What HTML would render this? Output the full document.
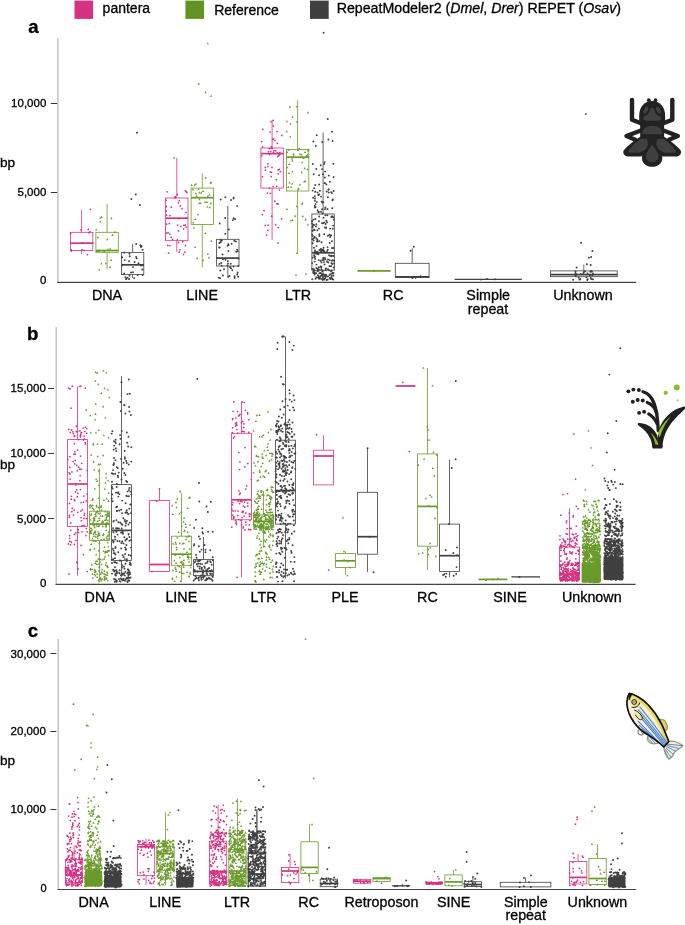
<!DOCTYPE html>
<html><head><meta charset="utf-8"><title>Figure</title>
<style>
html,body{margin:0;padding:0;background:#fff}
svg{display:block;will-change:transform}
text{font-family:"Liberation Sans",Arial,Helvetica,sans-serif;fill:#000;stroke:#000;stroke-width:0.3px}
</style></head><body>
<svg width="685" height="925" viewBox="0 0 685 925">
<rect width="685" height="925" fill="#fff"/>
<!-- legend -->
<rect x="74.5" y="0.6" width="18.6" height="18.3" fill="#d53283"/>
<rect x="185.4" y="0.6" width="18.6" height="18.3" fill="#659323"/>
<rect x="310" y="0.6" width="18.7" height="18.3" fill="#404040"/>
<text x="102.6" y="13.4" font-size="14">pantera</text>
<text x="214.2" y="14.7" font-size="14">Reference</text>
<text x="336.7" y="13.4" font-size="14.2">RepeatModeler2 (<tspan font-style="italic">Dmel</tspan>, <tspan font-style="italic">Drer</tspan>) REPET (<tspan font-style="italic">Osav</tspan>)</text>
<!-- panel letters -->
<g font-weight="bold" font-size="18.6" fill="#000" style="stroke-width:0.2px">
<text x="28.2" y="32.7">a</text>
<text x="27" y="339.6">b</text>
<text x="27.7" y="637.1">c</text>
</g>
<!-- panel a axes -->
<path d="M57.9 38V282.9" stroke="#b5b5b5" stroke-width="1.2" fill="none"/>
<path d="M57.3 282.3H636.2" stroke="#444" stroke-width="1.2" fill="none"/>
<path d="M50.8 103.5H57.2M50.8 192.5H57.2" stroke="#333" stroke-width="1" fill="none"/>
<g font-size="11.5" text-anchor="end">
<text x="46.3" y="107.4">10,000</text>
<text x="46.3" y="196.1">5,000</text>
<text x="46.5" y="284.4">0</text>
</g>
<text x="0" y="166.5" font-size="13.6">bp</text>
<g font-size="14.3" text-anchor="middle">
<text x="107" y="300">DNA</text>
<text x="202.1" y="300">LINE</text>
<text x="298" y="300">LTR</text>
<text x="393.2" y="300">RC</text>
<text x="488.2" y="300">Simple</text>
<text x="488" y="313.7">repeat</text>
<text x="583" y="300">Unknown</text>
</g>
<!-- panel b axes -->
<path d="M56.2 327V585" stroke="#b5b5b5" stroke-width="1.2" fill="none"/>
<path d="M55.6 584.4H635.6" stroke="#444" stroke-width="1.2" fill="none"/>
<path d="M48.2 388.5H54M48.2 453.5H54M48.2 518.5H54" stroke="#333" stroke-width="1" fill="none"/>
<g font-size="11.5" text-anchor="end">
<text x="45.8" y="392.3">15,000</text>
<text x="45.8" y="456.8">10,000</text>
<text x="45.8" y="522.5">5,000</text>
<text x="46.5" y="586.8">0</text>
</g>
<text x="0" y="469.2" font-size="13.6">bp</text>
<g font-size="14.3" text-anchor="middle">
<text x="99.7" y="602.3">DNA</text>
<text x="181.3" y="602.3">LINE</text>
<text x="263.5" y="602.3">LTR</text>
<text x="345" y="602.3">PLE</text>
<text x="427.4" y="602.3">RC</text>
<text x="510" y="602.3">SINE</text>
<text x="591.8" y="602.3">Unknown</text>
</g>
<!-- panel c axes -->
<path d="M58.2 639V890.1" stroke="#b5b5b5" stroke-width="1.2" fill="none"/>
<path d="M57.6 889.5H636.2" stroke="#444" stroke-width="1.2" fill="none"/>
<path d="M50.4 653.5H56.4M50.4 731.5H56.4M50.4 809.5H56.4" stroke="#333" stroke-width="1" fill="none"/>
<g font-size="11.5" text-anchor="end">
<text x="45.8" y="657.7">30,000</text>
<text x="45.8" y="735.0">20,000</text>
<text x="45.8" y="813.1">10,000</text>
<text x="46.5" y="891.5" font-size="11">0</text>
</g>
<text x="0" y="764.7" font-size="13.6">bp</text>
<g font-size="14.3" text-anchor="middle">
<text x="93.6" y="906.6">DNA</text>
<text x="165.1" y="906.6">LINE</text>
<text x="237.1" y="906.6">LTR</text>
<text x="308.7" y="906.6">RC</text>
<text x="381.5" y="906.6">Retroposon</text>
<text x="453.6" y="906.6">SINE</text>
<text x="525.8" y="906.6">Simple</text>
<text x="525.7" y="920.3">repeat</text>
<text x="597.4" y="906.6">Unknown</text>
</g>

<g fill="none">
<path d="M81.6 209.6V232.3" stroke="#d53283" stroke-width="0.8"/><path d="M81.6 250.5V254.2" stroke="#d53283" stroke-width="0.8"/><rect x="70.4" y="232.3" width="22.4" height="18.2" fill="#fff" stroke="#d53283" stroke-width="0.8"/><path d="M70.4 243.2H92.8" stroke="#d53283" stroke-width="1.7"/>
<path d="M107.1 203.8V232.3" stroke="#6a9a2a" stroke-width="0.8"/><path d="M107.1 252.3V269.5" stroke="#6a9a2a" stroke-width="0.8"/><rect x="95.9" y="232.3" width="22.4" height="20" fill="#fff" stroke="#6a9a2a" stroke-width="0.8"/><path d="M95.9 250.5H118.3" stroke="#6a9a2a" stroke-width="1.7"/>
<path d="M132.6 244V252.4" stroke="#404040" stroke-width="0.8"/><path d="M132.6 274.6V278" stroke="#404040" stroke-width="0.8"/><rect x="121.4" y="252.4" width="22.4" height="22.2" fill="#fff" stroke="#404040" stroke-width="0.8"/><path d="M121.4 264.8H143.8" stroke="#404040" stroke-width="1.7"/>
<path d="M176.8 157.8V198" stroke="#d53283" stroke-width="0.8"/><path d="M176.8 240.7V251.9" stroke="#d53283" stroke-width="0.8"/><rect x="165.6" y="198" width="22.4" height="42.7" fill="#fff" stroke="#d53283" stroke-width="0.8"/><path d="M165.6 218.2H188" stroke="#d53283" stroke-width="1.7"/>
<path d="M202.3 173.3V188.1" stroke="#6a9a2a" stroke-width="0.8"/><path d="M202.3 224.4V267.4" stroke="#6a9a2a" stroke-width="0.8"/><rect x="191.1" y="188.1" width="22.4" height="36.3" fill="#fff" stroke="#6a9a2a" stroke-width="0.8"/><path d="M191.1 197.7H213.5" stroke="#6a9a2a" stroke-width="1.7"/>
<path d="M227.8 205.6V239.3" stroke="#404040" stroke-width="0.8"/><path d="M227.8 266V275.8" stroke="#404040" stroke-width="0.8"/><rect x="216.6" y="239.3" width="22.4" height="26.7" fill="#fff" stroke="#404040" stroke-width="0.8"/><path d="M216.6 258.1H239" stroke="#404040" stroke-width="1.7"/>
<path d="M272.1 119.9V148" stroke="#d53283" stroke-width="0.8"/><path d="M272.1 188.1V240.1" stroke="#d53283" stroke-width="0.8"/><rect x="260.9" y="148" width="22.4" height="40.1" fill="#fff" stroke="#d53283" stroke-width="0.8"/><path d="M260.9 153.6H283.3" stroke="#d53283" stroke-width="1.7"/>
<path d="M297.6 100.2V149.4" stroke="#6a9a2a" stroke-width="0.8"/><path d="M297.6 191V253.3" stroke="#6a9a2a" stroke-width="0.8"/><rect x="286.4" y="149.4" width="22.4" height="41.6" fill="#fff" stroke="#6a9a2a" stroke-width="0.8"/><path d="M286.4 157.2H308.8" stroke="#6a9a2a" stroke-width="1.7"/>
<path d="M323.1 132.5V214" stroke="#404040" stroke-width="0.8"/><path d="M323.1 270.2V278.6" stroke="#404040" stroke-width="0.8"/><rect x="311.9" y="214" width="22.4" height="56.2" fill="#fff" stroke="#404040" stroke-width="0.8"/><path d="M311.9 252.8H334.3" stroke="#404040" stroke-width="1.7"/>
<path d="M357.3 270.9H390.6" stroke="#6a9a2a" stroke-width="1.7"/>
<path d="M412.2 248.2V263.3" stroke="#404040" stroke-width="0.8"/><rect x="395.3" y="263.3" width="33.8" height="14.1" fill="#fff" stroke="#404040" stroke-width="0.8"/><path d="M395.3 276.9H429.1" stroke="#404040" stroke-width="1.7"/>
<path d="M454.6 279.3H521.8" stroke="#404040" stroke-width="1.3"/>
<path d="M583.8 264.5V270.9" stroke="#404040" stroke-width="0.8"/><rect x="550.4" y="270.9" width="66.8" height="5.8" fill="#fff" stroke="#404040" stroke-width="0.8"/><path d="M550.4 274.7H617.2" stroke="#404040" stroke-width="1.7"/>
<path d="M77.5 386.6V439.6" stroke="#d53283" stroke-width="0.8"/><path d="M77.5 526.4V575.7" stroke="#d53283" stroke-width="0.8"/><rect x="67.6" y="439.6" width="19.8" height="86.8" fill="#fff" stroke="#d53283" stroke-width="0.8"/><path d="M67.6 484H87.4" stroke="#d53283" stroke-width="1.7"/>
<path d="M99.5 468.3V511.2" stroke="#6a9a2a" stroke-width="0.8"/><path d="M99.5 540.5V580" stroke="#6a9a2a" stroke-width="0.8"/><rect x="89.6" y="511.2" width="19.8" height="29.3" fill="#fff" stroke="#6a9a2a" stroke-width="0.8"/><path d="M89.6 524.1H109.4" stroke="#6a9a2a" stroke-width="1.7"/>
<path d="M121.5 376V484.6" stroke="#404040" stroke-width="0.8"/><path d="M121.5 560.5V577" stroke="#404040" stroke-width="0.8"/><rect x="111.6" y="484.6" width="19.8" height="75.9" fill="#fff" stroke="#404040" stroke-width="0.8"/><path d="M111.6 530.4H131.4" stroke="#404040" stroke-width="1.7"/>
<path d="M159.5 488.3V500.6" stroke="#d53283" stroke-width="0.8"/><rect x="149.6" y="500.6" width="19.8" height="70.8" fill="#fff" stroke="#d53283" stroke-width="0.8"/><path d="M149.6 564.5H169.4" stroke="#d53283" stroke-width="1.7"/>
<path d="M181.5 493.2V536.2" stroke="#6a9a2a" stroke-width="0.8"/><path d="M181.5 565.7V580" stroke="#6a9a2a" stroke-width="0.8"/><rect x="171.6" y="536.2" width="19.8" height="29.5" fill="#fff" stroke="#6a9a2a" stroke-width="0.8"/><path d="M171.6 554.2H191.4" stroke="#6a9a2a" stroke-width="1.7"/>
<path d="M203.5 537V559.4" stroke="#404040" stroke-width="0.8"/><path d="M203.5 575.7V579.4" stroke="#404040" stroke-width="0.8"/><rect x="193.6" y="559.4" width="19.8" height="16.3" fill="#fff" stroke="#404040" stroke-width="0.8"/><path d="M193.6 571.4H213.4" stroke="#404040" stroke-width="1.7"/>
<path d="M241.5 401.8V433.3" stroke="#d53283" stroke-width="0.8"/><path d="M241.5 519.8V577" stroke="#d53283" stroke-width="0.8"/><rect x="231.6" y="433.3" width="19.8" height="86.5" fill="#fff" stroke="#d53283" stroke-width="0.8"/><path d="M231.6 499.8H251.4" stroke="#d53283" stroke-width="1.7"/>
<path d="M263.5 491V515" stroke="#6a9a2a" stroke-width="0.8"/><path d="M263.5 527V548" stroke="#6a9a2a" stroke-width="0.8"/><rect x="253.6" y="515" width="19.8" height="12" fill="#fff" stroke="#6a9a2a" stroke-width="0.8"/><path d="M253.6 521.3H273.4" stroke="#6a9a2a" stroke-width="1.7"/>
<path d="M285.5 336.5V440.2" stroke="#404040" stroke-width="0.8"/><path d="M285.5 524.1V578.6" stroke="#404040" stroke-width="0.8"/><rect x="275.6" y="440.2" width="19.8" height="83.9" fill="#fff" stroke="#404040" stroke-width="0.8"/><path d="M275.6 490.6H295.4" stroke="#404040" stroke-width="1.7"/>
<path d="M323.5 435.3V450.2" stroke="#d53283" stroke-width="0.8"/><rect x="313.6" y="450.2" width="19.8" height="34.7" fill="#fff" stroke="#d53283" stroke-width="0.8"/><path d="M313.6 456H333.4" stroke="#d53283" stroke-width="1.7"/>
<path d="M345.5 551.4V553.4" stroke="#6a9a2a" stroke-width="0.8"/><path d="M345.5 567.4V574.9" stroke="#6a9a2a" stroke-width="0.8"/><rect x="335.6" y="553.4" width="19.8" height="14" fill="#fff" stroke="#6a9a2a" stroke-width="0.8"/><path d="M335.6 560.8H355.4" stroke="#6a9a2a" stroke-width="1.7"/>
<path d="M367.5 448.2V492.3" stroke="#404040" stroke-width="0.8"/><path d="M367.5 554.2V572" stroke="#404040" stroke-width="0.8"/><rect x="357.6" y="492.3" width="19.8" height="61.9" fill="#fff" stroke="#404040" stroke-width="0.8"/><path d="M357.6 536.7H377.4" stroke="#404040" stroke-width="1.7"/>
<path d="M395.6 386H415.4" stroke="#d53283" stroke-width="1.7"/>
<path d="M427.5 368V453.9" stroke="#6a9a2a" stroke-width="0.8"/><path d="M427.5 546.2V570" stroke="#6a9a2a" stroke-width="0.8"/><rect x="417.6" y="453.9" width="19.8" height="92.3" fill="#fff" stroke="#6a9a2a" stroke-width="0.8"/><path d="M417.6 506.4H437.4" stroke="#6a9a2a" stroke-width="1.7"/>
<path d="M449.5 459.7V524.1" stroke="#404040" stroke-width="0.8"/><path d="M449.5 571.4V577" stroke="#404040" stroke-width="0.8"/><rect x="439.6" y="524.1" width="19.8" height="47.3" fill="#fff" stroke="#404040" stroke-width="0.8"/><path d="M439.6 555.7H459.4" stroke="#404040" stroke-width="1.7"/>
<path d="M478.5 579.4H507.4" stroke="#6a9a2a" stroke-width="1.7"/>
<path d="M511.4 576.9H540" stroke="#404040" stroke-width="1.3"/>
<path d="M569.5 508.4V547" stroke="#d53283" stroke-width="0.8"/><rect x="559.6" y="547" width="19.8" height="32.4" fill="#fff" stroke="#d53283" stroke-width="0.8"/><path d="M559.6 574.3H579.4" stroke="#d53283" stroke-width="1.7"/>
<rect x="581.6" y="563" width="19.3" height="19.5" rx="1.5" fill="#6a9a2a"/>
<rect x="603.6" y="557" width="19.8" height="23" rx="1.5" fill="#404040"/>
<path d="M74.1 845.3V859.7" stroke="#d53283" stroke-width="0.8"/><path d="M74.1 882.6V886" stroke="#d53283" stroke-width="0.8"/><rect x="65.4" y="859.7" width="17.3" height="22.9" fill="#fff" stroke="#d53283" stroke-width="0.8"/><path d="M65.4 875H82.8" stroke="#d53283" stroke-width="1.7"/>
<rect x="84.8" y="871" width="17.3" height="15.5" rx="1.5" fill="#6a9a2a"/>
<rect x="104.2" y="875.5" width="17.3" height="12" rx="1.5" fill="#404040"/>
<path d="M146.1 838.5V844.5" stroke="#d53283" stroke-width="0.8"/><path d="M146.1 875.7V884.8" stroke="#d53283" stroke-width="0.8"/><rect x="137.4" y="844.5" width="17.3" height="31.2" fill="#fff" stroke="#d53283" stroke-width="0.8"/><path d="M137.4 846.7H154.8" stroke="#d53283" stroke-width="1.7"/>
<path d="M165.5 812.3V846.7" stroke="#6a9a2a" stroke-width="0.8"/><path d="M165.5 870.2V885.3" stroke="#6a9a2a" stroke-width="0.8"/><rect x="156.8" y="846.7" width="17.3" height="23.5" fill="#fff" stroke="#6a9a2a" stroke-width="0.8"/><path d="M156.8 853.6H174.2" stroke="#6a9a2a" stroke-width="1.7"/>
<rect x="176.2" y="877" width="17.3" height="10.5" rx="1.5" fill="#404040"/>
<path d="M218.1 804.8V841.2" stroke="#d53283" stroke-width="0.8"/><rect x="209.4" y="841.2" width="17.3" height="42.7" fill="#fff" stroke="#d53283" stroke-width="0.8"/><path d="M209.4 871.5H226.8" stroke="#d53283" stroke-width="1.7"/>
<path d="M237.5 798.5V849.5" stroke="#6a9a2a" stroke-width="0.8"/><rect x="228.8" y="849.5" width="17.3" height="35.8" fill="#fff" stroke="#6a9a2a" stroke-width="0.8"/><path d="M228.8 871H246.2" stroke="#6a9a2a" stroke-width="1.7"/>
<path d="M256.9 809.5V852.2" stroke="#404040" stroke-width="1.2"/><rect x="248.2" y="852.2" width="17.3" height="33.8" fill="#fff" stroke="#404040" stroke-width="1.2"/><path d="M248.2 874H265.5" stroke="#404040" stroke-width="1.7"/>
<path d="M290.1 853.6V867.4" stroke="#d53283" stroke-width="0.8"/><path d="M290.1 882.6V884.5" stroke="#d53283" stroke-width="0.8"/><rect x="281.5" y="867.4" width="17.3" height="15.2" fill="#fff" stroke="#d53283" stroke-width="0.8"/><path d="M281.5 871H298.8" stroke="#d53283" stroke-width="1.7"/>
<path d="M309.5 824.1V841.8" stroke="#6a9a2a" stroke-width="0.8"/><path d="M309.5 873.5V882.6" stroke="#6a9a2a" stroke-width="0.8"/><rect x="300.9" y="841.8" width="17.3" height="31.7" fill="#fff" stroke="#6a9a2a" stroke-width="0.8"/><path d="M300.9 867.4H318.1" stroke="#6a9a2a" stroke-width="1.7"/>
<rect x="320.2" y="879.2" width="17.3" height="7.5" fill="#fff" stroke="#404040" stroke-width="0.8"/><path d="M320.2 883.5H337.5" stroke="#404040" stroke-width="1.7"/>
<rect x="353.5" y="879.3" width="17.3" height="3.9" fill="#fff" stroke="#d53283" stroke-width="0.8"/><path d="M353.5 881.2H370.8" stroke="#d53283" stroke-width="1.7"/>
<rect x="372.9" y="877.7" width="17.3" height="3.8" fill="#fff" stroke="#6a9a2a" stroke-width="0.8"/><path d="M372.9 878.6H390.1" stroke="#6a9a2a" stroke-width="1.7"/>
<path d="M392.2 885.8H409.5" stroke="#404040" stroke-width="1.3"/>
<path d="M425.5 883.2H442.8" stroke="#d53283" stroke-width="2.6"/>
<path d="M453.5 870V874.9" stroke="#6a9a2a" stroke-width="0.8"/><rect x="444.9" y="874.9" width="17.3" height="10.9" fill="#fff" stroke="#6a9a2a" stroke-width="0.8"/><path d="M444.9 881.9H462.1" stroke="#6a9a2a" stroke-width="1.7"/>
<path d="M472.9 876.5V881.7" stroke="#404040" stroke-width="0.8"/><rect x="464.2" y="881.7" width="17.3" height="4.8" fill="#fff" stroke="#404040" stroke-width="0.8"/><path d="M464.2 884.5H481.5" stroke="#404040" stroke-width="1.7"/>
<path d="M525.6 877.4V882.3" stroke="#404040" stroke-width="0.8"/><rect x="500.3" y="882.3" width="50.6" height="4.6" fill="#fff" stroke="#404040" stroke-width="0.8"/>
<path d="M578.1 853.8V861.5" stroke="#d53283" stroke-width="0.8"/><rect x="569.5" y="861.5" width="17.3" height="22.5" fill="#fff" stroke="#d53283" stroke-width="0.8"/><path d="M569.5 877.4H586.8" stroke="#d53283" stroke-width="1.7"/>
<path d="M597.5 844.2V858.4" stroke="#6a9a2a" stroke-width="0.8"/><rect x="588.9" y="858.4" width="17.3" height="26" fill="#fff" stroke="#6a9a2a" stroke-width="0.8"/><path d="M588.9 878.5H606.1" stroke="#6a9a2a" stroke-width="1.7"/>
<rect x="608.2" y="877" width="17.3" height="10.5" rx="1.5" fill="#404040"/>
</g>
<path d="M90 231.8h0M70.5 233.4h0M88.8 232.7h0M88.3 229.4h0M80.9 229.8h0M81.7 243h0M82.8 242.9h0M92.7 242.9h0M88.2 243.2h0M84.1 250.4h0M71.4 251h0M71.2 249.8h0M81.9 249.7h0M90.4 209.3h0M87.4 254.6h0M175.2 197.4h0M185.3 190.8h0M174.8 197.7h0M186.3 191.7h0M167.1 191.8h0M175.2 196.7h0M177.2 194.7h0M186.9 192.5h0M182 208.8h0M168.1 232.7h0M186.1 227.1h0M183.6 228.8h0M185.3 225.1h0M177.3 239.8h0M186.1 212.3h0M166.6 215.1h0M166.3 206.7h0M166.1 200.2h0M171.3 207.2h0M171.2 237.4h0M169.8 234.1h0M178.3 202.8h0M166.5 224h0M178.8 218.6h0M169.3 223.6h0M180.8 226.3h0M166.1 211.2h0M172.6 239.3h0M186.6 218h0M177.7 225h0M183.8 225.3h0M180.3 205.9h0M179.3 200.7h0M169.9 215.7h0M178.5 230.9h0M166.5 233.1h0M184.9 252.2h0M183.5 254.4h0M168.5 253h0M182.8 241.7h0M185.4 245.7h0M170 245.5h0M178.4 242.6h0M179.9 249.8h0M179.2 252.2h0M167.8 245.4h0M174.1 157.8h0M271.4 146.6h0M270.1 132.1h0M277 131.6h0M272.6 139.4h0M277.3 143.4h0M262.8 129.4h0M273.5 138.8h0M273.4 125.9h0M281.8 135.4h0M261.8 141.5h0M271 121.8h0M275 140.4h0M273.2 120.4h0M262.6 146.8h0M277.6 153.1h0M269.4 148.7h0M271.4 148.3h0M277.8 156.5h0M272.2 148.4h0M268.5 151.5h0M279.4 155h0M269.4 154.5h0M279.8 152.6h0M278.5 155.7h0M270.9 151.6h0M276.9 153.4h0M261.7 155.8h0M269.6 154.1h0M280.2 153.7h0M273.9 150.9h0M273.4 152.7h0M275.8 150.8h0M276.3 179.7h0M262.5 176.7h0M280.3 171.5h0M267.9 163.9h0M272 167.4h0M265.3 167.4h0M270.3 171.8h0M279.4 190h0M279.4 169.3h0M271.5 172.3h0M278.1 169.9h0M271.2 176.6h0M269.3 188.3h0M273.1 186.5h0M265.4 170.1h0M268 166.5h0M276.7 186.3h0M278.2 173.8h0M267.4 193.1h0M267.8 230.3h0M266.6 235h0M262.4 214.5h0M270.4 193.4h0M278.2 227.6h0M276.8 203.5h0M265.3 225.4h0M264 210.7h0M268.1 225h0M278.1 204.2h0M271.8 216.2h0M281.6 218.9h0M275.6 224.7h0M274.8 201.2h0M278.1 242.9h0M80.6 386.2h0M79.8 386.4h0M68.5 388h0M72.3 386.2h0M85.4 388h0M70 388.9h0M86.2 410.1h0M71 408.2h0M76.3 431.7h0M73.4 433.7h0M84.2 436.1h0M84.4 439.1h0M74.4 436.3h0M79.9 430.9h0M85.5 427.1h0M74.7 435.9h0M78.6 439.6h0M76.4 426.2h0M80.5 436.8h0M86.6 428.5h0M70.3 432.4h0M86.7 433.3h0M80.8 434.6h0M83.4 439.9h0M80.2 435.6h0M84.8 431.5h0M74.1 436h0M81.6 432.5h0M72.8 431.8h0M77.7 431.1h0M81.1 432.9h0M71.6 429.9h0M68.8 429.4h0M83.3 428.1h0M80.2 475.6h0M81 469.3h0M75.2 454.1h0M81 469h0M74.4 443.7h0M79.6 469.2h0M76.7 465.4h0M78.7 467.2h0M67.9 459.7h0M77.5 449.9h0M72 471.9h0M75.2 460.4h0M69.1 472.8h0M80.6 456h0M85.3 443.9h0M74.6 463.9h0M69.7 467.4h0M79.9 480.6h0M70.1 479.1h0M85.3 442.5h0M70 474h0M74.8 451.5h0M77.4 470.7h0M69.9 456.7h0M73.9 454.2h0M73.1 461.5h0M81.7 463.3h0M87.1 470.6h0M71.3 499.2h0M69.4 517.2h0M76.8 489.9h0M72.2 508.4h0M83.5 502.2h0M83.8 496.1h0M86.3 518.5h0M84.2 515.3h0M80.4 489.6h0M71.3 496.3h0M83.9 518.4h0M82 525.7h0M82.4 509.7h0M81.4 520.6h0M84 525.3h0M73.5 515.1h0M80.9 511.1h0M77.8 493.3h0M74.3 499.6h0M74.1 510.2h0M70.7 522.9h0M77.3 496.7h0M74.9 500.6h0M75.9 484.9h0M84.5 513.3h0M81.1 502.6h0M81.1 517.5h0M87.1 493.8h0M71.9 511.7h0M77.7 512.3h0M69.4 503.5h0M75.4 491.9h0M86.4 500.9h0M69.3 515.3h0M76.1 540.4h0M71.5 542.4h0M69.7 535.7h0M69.7 541.2h0M74.5 534.4h0M75.7 532.7h0M85.9 535.6h0M78.2 529.7h0M87.2 531.8h0M81.9 531.8h0M70.5 544.8h0M78.6 532.4h0M70.8 530.3h0M68.4 543.9h0M86.3 528.6h0M74.3 544.4h0M71.4 542.2h0M69.6 538.3h0M78.2 569.1h0M76.7 562.1h0M81 545.4h0M87.2 571.5h0M83.4 554.5h0M69 573.9h0M77.4 563.1h0M159.5 488.8h0M156.6 501.2h0M152 571.4h0M244.1 402.6h0M233.8 401.8h0M242.1 401.9h0M233 411.3h0M240 414.4h0M236.2 424h0M248.7 432.3h0M237.9 433h0M239.1 415.3h0M247.5 412.5h0M242.7 421.4h0M232.6 419.6h0M235.9 418.1h0M243.7 427.4h0M235.5 426h0M236.5 422.5h0M243.9 423.9h0M241.4 423h0M236.9 425.2h0M242.7 431.3h0M244.1 431.7h0M232.4 432.5h0M237 429.6h0M237.7 411.5h0M249 419.8h0M232.6 427.8h0M238.5 416.1h0M235.5 423.6h0M245.4 410.3h0M247.7 413.9h0M232.7 418.6h0M239 490.8h0M251.3 479.6h0M245.1 447.5h0M239.6 494.4h0M238.8 452.6h0M246.8 485.8h0M233.5 438h0M247.8 463.6h0M244.9 466.9h0M240.2 493.1h0M245.7 489h0M239.5 469.6h0M234.4 436.5h0M239.9 461.8h0M242 501.5h0M232.9 502.6h0M245.8 513.2h0M241.5 524.8h0M247.7 506.1h0M232.5 515h0M248.7 529.4h0M249.3 524.8h0M231.8 527.1h0M241 520.2h0M234 517.7h0M242.1 517.5h0M233.4 518h0M249.2 513.9h0M235.2 510.8h0M244.8 507.2h0M244.5 502h0M238 511.1h0M235.8 523.1h0M249.7 516.6h0M232.4 504.9h0M236.6 524.4h0M238.1 501.2h0M243.2 527.9h0M238.9 519.6h0M233.8 516.7h0M242.9 512.4h0M245.9 524.8h0M245.6 500.2h0M241.3 500.5h0M237.7 515.6h0M231.8 508.9h0M242.1 512h0M244 516.1h0M240.3 501.3h0M250.6 529.5h0M235.6 520.3h0M247.7 503h0M245.8 522.2h0M249.4 516h0M249.9 520.6h0M236.3 522.1h0M249.9 529.7h0M239.6 503.6h0M245 529.9h0M250.5 514.3h0M243.4 506h0M243.1 511.2h0M233 510.9h0M243.4 526.9h0M237 577.4h0M316.6 434.7h0M328.7 570h0M317 456.3h0M402.8 382.3h0M409.4 451.6h0M570.2 528.3h0M573.2 516.9h0M566.6 520.8h0M571.2 528.3h0M573.4 515.5h0M567.1 528.7h0M569.3 513h0M576.3 506.3h0M578 508.5h0M566.5 522.6h0M560.9 515.2h0M576.3 526h0M573.6 534.5h0M570.1 539.7h0M574.3 537.6h0M576 533.7h0M570.8 538.5h0M577.7 535.5h0M575.1 537.1h0M576.6 538.8h0M560 535.8h0M559.9 539.5h0M572.2 534h0M566.2 533.8h0M576.9 536.4h0M567.4 534h0M575.2 545.4h0M577 540.5h0M565.1 544.3h0M566.6 547h0M572 546.6h0M571.1 541.7h0M575 542.8h0M575.6 543.4h0M565.6 541.4h0M562 542.8h0M574.3 547.6h0M573.2 546.8h0M565.1 541.1h0M560.7 544.8h0M560.1 547.5h0M564.5 541.6h0M565 546.5h0M563.7 546h0M560.6 546.9h0M563 538.8h0M566.5 547.2h0M561.4 547.8h0M563.7 540.4h0M568.3 544.3h0M576.4 538.9h0M576.9 544h0M567.6 545.1h0M562.1 545.5h0M564.9 546.6h0M573 540.9h0M567.7 539.2h0M570.9 546.2h0M574.2 538.3h0M572.6 540.3h0M576.6 540.4h0M561.3 545.8h0M565.5 542.4h0M560.3 546.4h0M569.9 544.7h0M571.8 546.4h0M579.2 551.6h0M564.3 548.8h0M566.2 554.5h0M561.1 550.3h0M577.7 550.7h0M576 553.3h0M560.9 561.2h0M570.1 553h0M567.3 557.9h0M571.6 553.2h0M566.3 553.7h0M578.5 550h0M563.9 550.6h0M575.8 558.8h0M564.9 554h0M572.5 552h0M568.1 561.8h0M570 560.3h0M569.9 551.7h0M572 554.1h0M560.9 555.9h0M560.8 550.3h0M578.8 554h0M564.6 552h0M566.7 559.3h0M564.3 549.3h0M566.2 568.5h0M573.1 571.8h0M566.9 566h0M572.2 565.2h0M568 565.5h0M577.7 562.3h0M568.7 562.9h0M575.7 562.5h0M571 565.2h0M567 571.8h0M578.7 563.4h0M563.5 567.5h0M577.6 564.1h0M579 562.4h0M576.4 570.4h0M571.7 563.3h0M571.9 563.4h0M578 570.2h0M568.2 564.4h0M575.9 564h0M574.9 571.4h0M576.6 563.9h0M568.3 570.3h0M572.5 565.1h0M561.4 567.7h0M561 565.1h0M561.7 565.4h0M574.2 571.3h0M566.6 571.1h0M577.6 563.7h0M561.2 569.2h0M563 563.4h0M576.2 565h0M567.9 562.7h0M564 568.5h0M575.1 569.3h0M564.2 569.5h0M578.9 569.7h0M565 565.9h0M576.6 563.8h0M569.1 562h0M578.1 566.4h0M565.5 571.3h0M577.9 566.5h0M565.6 568.2h0M568.5 571.2h0M572.1 570.6h0M570.6 569.4h0M572.9 567.9h0M573.4 564.3h0M564.9 569.5h0M559.8 566.2h0M573.9 569.1h0M571.5 564.2h0M570.8 571.4h0M569.4 563.6h0M578 569.9h0M565.5 570.9h0M577.7 563.5h0M562.9 570.7h0M573.4 568.4h0M578.2 568h0M562.7 564.5h0M574.8 565.3h0M565 564.4h0M560.8 566.4h0M568.1 568.5h0M573.4 569.3h0M565.2 569.1h0M578.4 565.5h0M559.6 565.4h0M564.9 569.6h0M566.4 571.7h0M566.9 564.2h0M565.5 566.1h0M560 564.8h0M563.8 571.7h0M564.8 562.2h0M572.9 570.9h0M567.1 569.7h0M565.1 578.5h0M573.6 576h0M564.6 575.1h0M563.7 573.4h0M566.2 574.1h0M565.4 580.1h0M578.7 576.1h0M564.3 574.8h0M568 574h0M569.2 579.9h0M573.3 578.3h0M578.8 578.3h0M571.8 579.2h0M576.6 574.2h0M562.2 578.6h0M572.7 572.6h0M563 578h0M576.9 574.9h0M571.4 578h0M562.3 574h0M576.4 575.2h0M570 578h0M569.2 580.5h0M561.2 575.1h0M577.6 573.5h0M569.8 573.1h0M576.7 578h0M561.1 580h0M573.1 572.2h0M567 575.1h0M570.2 573.5h0M572 580.6h0M576 573.2h0M577.9 572.6h0M562.9 578.9h0M576.6 581h0M561.9 579h0M559.8 573h0M565.6 575.7h0M565.2 576.7h0M574.9 580.1h0M570.7 578.8h0M567.3 572.5h0M575.3 576.1h0M578.1 579h0M572.3 576.9h0M572.5 578h0M576.7 580.7h0M565.4 580.8h0M579.3 579.5h0M563.1 577.1h0M560.5 574.8h0M575.9 573.4h0M563.1 573.5h0M566.2 577.8h0M569.8 579h0M561.8 579.7h0M568 580.2h0M566.6 574.6h0M561.3 575h0M571.5 573.8h0M568.5 576.9h0M562.8 580.5h0M575.2 578.8h0M567.7 575.9h0M560.1 573.4h0M577 579.6h0M567.7 580.1h0M561.4 578.9h0M565.3 574.6h0M564.6 575.5h0M560.5 577.3h0M566.2 580.3h0M562.9 574.2h0M563.8 575.8h0M573 572.5h0M562.7 572h0M560 574.2h0M563.1 579.3h0M565.5 578.1h0M562.9 576.3h0M571.4 575.7h0M577 574.4h0M576 578.9h0M568.9 576.4h0M575.2 572.6h0M575.3 577.6h0M572.2 580.9h0M575.5 572.7h0M567.1 581h0M574.4 572.9h0M569.9 574.8h0M574.2 580.8h0M574.2 580.7h0M560.9 573.7h0M576.1 578.5h0M560.3 577.5h0M568.1 575.6h0M571.3 579.1h0M575.9 577.7h0M560.7 574h0M572.9 576.4h0M566.4 578.4h0M560.4 577.6h0M566.2 576.9h0M572.3 578.6h0M561.2 573.2h0M576.4 572.4h0M560.5 572.3h0M564.3 577.6h0M566.1 575.9h0M560.9 579.5h0M577.9 580.7h0M578.7 573h0M577.5 575.4h0M563.5 575.8h0M576.1 576.9h0M566.3 580.2h0M565.3 577.4h0M573.3 574.7h0M561.3 578h0M559.7 575h0M578 577h0M566.6 572.9h0M575.3 577.1h0M568 576.3h0M561.4 577.8h0M569 577.1h0M563 577.2h0M561.2 578.6h0M560 573.2h0M567.5 578.8h0M564.7 577.6h0M566.3 578.2h0M578.6 575.6h0M576 572.8h0M573.6 580.3h0M564.4 579.4h0M574.4 580.8h0M573.4 576.1h0M570.1 580h0M564.3 579.8h0M563.7 576.9h0M567.9 580.1h0M565.1 579.3h0M577.1 572.9h0M568.8 573.2h0M573 575.7h0M577.4 576.8h0M571.9 577.9h0M562.8 577.1h0M565.9 579.9h0M577.9 579.2h0M560.5 572.9h0M564 575.1h0M571.8 580h0M576.5 578.8h0M575.8 572.1h0M574.1 577.6h0M573.5 573.1h0M567 576.5h0M560.8 580.9h0M572.2 572.7h0M561 579.4h0M575.4 576.4h0M562.2 580.8h0M560.1 579.7h0M579.4 572.6h0M562.9 577.8h0M571.1 579.7h0M573.9 434h0M575.6 479h0M563 494.6h0M567.6 493.5h0M74.2 813.9h0M78.1 802.6h0M69.1 804.1h0M72.3 813.9h0M73.9 811.3h0M69.7 803.9h0M75.6 814.6h0M77.7 797.6h0M78.3 808.9h0M78.7 817.9h0M78.4 825.1h0M73.4 834.7h0M74.1 816.4h0M71.8 829.1h0M74.9 820.7h0M69.9 833.2h0M79.4 827.2h0M73.1 832.9h0M68.6 816h0M71.8 827.1h0M79.2 823.4h0M72 817.2h0M72.8 823.2h0M79.5 829.8h0M77.3 826.6h0M72.5 826.9h0M70.3 820.6h0M72.9 825.2h0M72.7 823.9h0M69.3 855.6h0M76.9 847.4h0M68.3 856.3h0M79 857.7h0M72.2 855h0M67.5 844.4h0M77.9 844h0M70.5 847.6h0M81.2 850.6h0M80.1 854.5h0M79.6 853.8h0M79.6 842.2h0M68 851.9h0M67.3 843.7h0M72.7 852.9h0M73 835.3h0M72.8 854.5h0M75.5 851.1h0M78.2 838.4h0M78.2 840.8h0M80.3 842.2h0M76.6 846.8h0M79.5 855.8h0M68.3 857.3h0M67.3 848.9h0M73.4 837.5h0M79.6 857.5h0M72.5 857.1h0M68.5 837h0M68.8 850.3h0M70.2 850.3h0M79.3 850.2h0M71.8 851.7h0M79.2 835.1h0M80.4 842.1h0M78 842.8h0M80.2 849.9h0M70.6 837.2h0M69.7 841.4h0M70.4 839h0M67.2 836.1h0M80.3 845.9h0M69.9 839.7h0M76 846.1h0M71 839.7h0M74.7 853.2h0M73.2 837.6h0M77.3 852.7h0M69.8 850.1h0M71.1 838.6h0M68.9 843.7h0M71.6 843.8h0M78.9 845.5h0M80.7 850.5h0M67.2 835.3h0M72.1 868.1h0M81.6 866.8h0M82.2 859h0M66.8 859.9h0M75.2 868.4h0M66 860.3h0M67.2 868.9h0M76.1 864.5h0M74.6 869.8h0M81 864.1h0M81.1 859.6h0M68.2 865.3h0M76.4 863.3h0M79.4 858.9h0M78.8 867.8h0M75.3 868.8h0M74.3 869.6h0M75.3 865.7h0M72.6 865h0M75.2 860.3h0M80.9 869.6h0M71.5 866.8h0M73.1 866h0M73 866.3h0M80.4 868.1h0M69.7 862.1h0M73.1 859.3h0M78.4 869.9h0M72.2 858.4h0M80.3 861.3h0M74.8 863.9h0M67.2 858.5h0M71.8 861.7h0M68 868.4h0M73.1 865.5h0M71.8 865h0M71.3 858.2h0M79.8 863.1h0M81 859.5h0M78.5 862.6h0M78.7 862.7h0M80.9 863.1h0M81.3 861.8h0M68.5 867.4h0M81 863.6h0M68.2 868.9h0M70.2 862.1h0M79.1 859.7h0M67.9 862.3h0M82.1 868.5h0M81.6 862.3h0M65.5 867.8h0M76.5 866.3h0M81.5 861.1h0M74.8 860.3h0M74.7 859.4h0M75.6 863.4h0M75 866.3h0M75.5 861.5h0M77.2 869.5h0M82 858.2h0M66.9 867.4h0M69.5 860h0M65.5 870h0M66.6 859.2h0M68.9 869.1h0M81.1 862.8h0M70.9 861.4h0M75.9 858.5h0M70.9 860.6h0M76.7 885.8h0M80.9 873.1h0M77.1 876.3h0M81.8 875.9h0M70.3 873.4h0M71.6 871.2h0M71.9 876.3h0M71.7 873.2h0M70.1 870.4h0M79.2 884.2h0M70.4 875.5h0M72.7 870.2h0M73.6 879.9h0M82.7 877.7h0M71.1 881h0M77.4 875.8h0M71.1 872.2h0M79.3 880.2h0M72.2 876.4h0M65.8 884h0M74.5 875.2h0M71.3 873.6h0M70 873h0M70.5 874.1h0M65.5 873.8h0M78.1 878.3h0M74.9 876h0M76.5 885.5h0M75.3 873.3h0M72 885h0M73.4 875.4h0M73.7 877.7h0M81.3 885.3h0M71.5 882.5h0M68.1 885.1h0M66.9 878.6h0M71.3 875.1h0M75.4 880.8h0M75.5 881h0M78 870.7h0M76.9 871.7h0M66.9 885.1h0M72.2 881.5h0M71.9 883.2h0M67.4 873h0M75.6 885.6h0M78.9 874.8h0M66.2 872.2h0M74.6 875.7h0M67.5 875.6h0M78.9 870.9h0M75.1 883.5h0M66.6 883.9h0M74.4 873.2h0M69.6 878.8h0M69 883.9h0M77 876h0M72.4 878.1h0M81.5 873.9h0M81.3 877.5h0M80.2 875h0M72.5 883.2h0M81.1 872.5h0M66.7 870.5h0M78.9 884.4h0M71.7 872.8h0M80.4 878.8h0M66 881.3h0M75.4 875.2h0M66.7 884.9h0M70.5 875.4h0M75.2 873.2h0M67.9 871h0M77.5 884.4h0M74.3 873.5h0M69.3 884.4h0M74.8 877.3h0M73.2 884.9h0M66 871.4h0M77.7 883.7h0M77.8 885.7h0M81.2 881.4h0M81.7 872.1h0M71.9 886h0M76.6 882.8h0M76 873.4h0M66.4 885.5h0M78 871.4h0M70.2 872.1h0M72.8 870.2h0M76.2 879.5h0M74.2 876.5h0M70.3 871.4h0M80.6 877.9h0M67.1 884.1h0M75.9 871.5h0M68.6 880.2h0M81.4 872.7h0M81.7 878.2h0M77.8 875.5h0M80.7 874.4h0M78.7 870.2h0M76.8 879.3h0M78.4 877.1h0M81.2 881.1h0M69.2 873h0M78.1 885.7h0M68.6 870.3h0M73.4 873.1h0M71.3 880.3h0M76.4 872.1h0M76.5 874.2h0M81.1 878h0M80 882.1h0M66.6 883.8h0M68.4 875.1h0M66.2 880.5h0M77.7 870.4h0M71.4 884.3h0M82.3 880.7h0M69.2 884.4h0M82 873.4h0M78.5 877.9h0M78.6 881.9h0M76 870.4h0M80.8 883.5h0M69.5 881.3h0M80.5 882.6h0M80.7 872.6h0M75.9 882.4h0M76.9 879.1h0M69.4 872.4h0M73.9 872.1h0M75.6 883.7h0M70.9 876.4h0M66.2 874.4h0M81.9 875.9h0M79.4 881h0M71.8 872.2h0M74.7 872.6h0M73.5 704.2h0M81.2 759.3h0M74.8 770.1h0M154.4 847.8h0M152.7 845.4h0M148.9 847.1h0M151.2 842.7h0M148.6 847.9h0M142.8 843.5h0M147.2 846.4h0M141.7 847.3h0M139.2 844.1h0M143.3 843.3h0M151.4 844h0M139.9 841h0M138.2 840.6h0M141.5 847.6h0M151 845.2h0M152.7 840.7h0M142.2 844.7h0M154.1 842h0M145.7 846.7h0M149.3 842.9h0M149 840.1h0M145.1 845.3h0M152 848h0M153 845.9h0M145.6 847.7h0M142.7 840.8h0M153.7 842.3h0M149.6 846.2h0M143.7 843.7h0M140.3 841.4h0M144.3 842.7h0M145.1 842.3h0M151.5 845.6h0M149.6 846.2h0M146.3 845.9h0M153.2 845.3h0M147.6 846h0M152.4 847.4h0M138.6 842.1h0M138.8 842.2h0M143.2 872.1h0M148 868.6h0M143.2 855.3h0M150.3 851.4h0M141.3 850h0M147.9 857h0M140.3 872.8h0M140.1 853.4h0M151.3 855h0M148.3 871.3h0M147.3 853.2h0M144 854.7h0M149.1 868.9h0M153.9 872h0M143.9 874.4h0M138.3 849.3h0M151.8 878.6h0M139.3 883.8h0M144 879h0M151.1 883.5h0M154.4 878h0M150 882h0M139.4 879.7h0M154.1 881.3h0M138.3 879.7h0M138.1 881.9h0M150.2 883.4h0M153.3 883h0M148.5 880.3h0M152.6 876.4h0M218.9 827.2h0M226.5 824.5h0M211.9 819.4h0M222.1 809.4h0M218.4 818.1h0M226.6 816.3h0M216.5 807.2h0M223.8 829.6h0M219.8 827.6h0M223.3 821.2h0M224.2 810.9h0M220.7 820.1h0M215.5 813.1h0M219.8 822.2h0M223.1 805h0M223.6 820.9h0M220.4 819.7h0M217.3 829.9h0M210.9 820h0M211.5 825.9h0M220.6 810.2h0M216.3 819.5h0M221.2 813.1h0M218.5 831.6h0M216.3 830.8h0M213 810.9h0M224.1 821.5h0M214.1 806h0M225.2 843.4h0M226.4 833.8h0M217.9 849.3h0M224.2 834.7h0M213.2 841.1h0M220.7 846.6h0M225.3 836.2h0M215.5 843.6h0M220.5 839.3h0M222.3 849.3h0M211.9 834.4h0M213.9 835.4h0M219.7 841.8h0M213.9 844.3h0M212.2 842.4h0M212.2 835.3h0M223 840.8h0M217.4 833.2h0M219.1 844.1h0M220.4 837.9h0M215.1 849.3h0M220.8 839.2h0M217.3 832.9h0M211 832.2h0M218.5 837.9h0M218.1 836.7h0M221.4 849.1h0M226.1 846h0M210.3 838.6h0M220.1 836.7h0M221.6 833.2h0M217.7 834.2h0M216.9 845.4h0M221.8 833h0M218.8 846.1h0M216.7 839.1h0M220.8 844.3h0M219.9 843.1h0M211 834h0M215.7 845.6h0M224.9 847.8h0M212.2 834h0M218.5 849.5h0M220.5 846.5h0M211.5 842.9h0M212.9 844.5h0M215 832.8h0M219.8 836.1h0M211.6 848.3h0M222.7 847.5h0M221.3 835.9h0M223.3 841.8h0M213.6 838.2h0M218.8 835.4h0M224.3 846.1h0M217 844.2h0M219.3 833.2h0M216.5 844h0M222.3 832.2h0M220.3 833.7h0M222.4 839.5h0M226.2 832.6h0M222.9 841.4h0M219.4 844.3h0M213.9 836.7h0M218.3 844.5h0M225.8 833.3h0M226.5 833.6h0M211.6 841h0M221.1 832.5h0M209.8 845.6h0M211.3 848h0M215.9 832.1h0M211.1 846.4h0M220.7 842.3h0M218.1 849.5h0M216.1 846.4h0M224.2 848.3h0M215.6 847.4h0M213.7 847.4h0M214.4 845.6h0M209.8 848.3h0M221.9 833.6h0M220.6 846.5h0M216.6 844.2h0M223.6 838.5h0M215.2 839.9h0M213.2 834h0M210 837.6h0M212.5 844.9h0M217.2 841.9h0M215.2 848.7h0M217.1 836.6h0M210.4 836.1h0M209.9 845.3h0M221.1 849.2h0M216.6 838.6h0M223 839.1h0M224.1 833h0M215.7 836.2h0M216.4 859.2h0M225.5 865.3h0M222.5 852.7h0M211.8 866.1h0M213.4 857.3h0M211.3 855h0M221.8 859.4h0M212.8 862.9h0M217.3 866.8h0M211.1 866.4h0M224.6 850.7h0M222.4 853.3h0M220.9 856.8h0M221.5 851.2h0M215.7 859h0M212.7 859h0M209.8 860.5h0M216.5 857h0M225.2 854.8h0M209.9 861.8h0M212.8 851.1h0M218.6 850.8h0M210.7 864.9h0M214.6 853.8h0M222.5 853.2h0M213.2 854.9h0M214.7 861.5h0M214.3 854.8h0M213 863.3h0M223.4 862.8h0M223.6 885.2h0M213.8 879.4h0M221.8 874.1h0M215.6 873.9h0M211.6 881h0M223.5 881.5h0M215.4 883.1h0M220.5 872.2h0M225.9 873.2h0M222 875.5h0M215.2 876.9h0M220.1 883h0M222.4 871.4h0M213.2 874.8h0M226 871.8h0M213.4 882.9h0M210.1 881.4h0M218.7 882.9h0M217.7 875.1h0M212.1 878.4h0M217.8 884.2h0M214.2 870.3h0M223.5 882.8h0M218 882.3h0M218.5 877h0M211.9 882.4h0M225.8 882.1h0M213.8 872.9h0M219.5 885.5h0M222.9 885h0M218.5 874.1h0M215 885.3h0M220.6 878.7h0M221.9 878.2h0M211.8 882.4h0M213.9 884.6h0M212.6 874.1h0M209.8 872h0M220.2 883.4h0M226.7 877.1h0M214.2 878.8h0M225.7 877.7h0M216.1 884.1h0M225.2 879.1h0M211.1 881.3h0M214.9 882.3h0M224.1 870h0M225.2 879h0M223.3 879.7h0M221.3 871.7h0M214.8 872.7h0M226.5 871.1h0M219.4 876.6h0M223.6 882.4h0M216.3 873.9h0M225.7 884h0M220.2 871.1h0M221.8 875.5h0M211.9 873.7h0M216.6 885.3h0M211.1 872.7h0M215.6 883.6h0M219.3 878.3h0M214.5 874.3h0M209.6 876.7h0M216.9 872.1h0M222.6 879.7h0M216 880.7h0M222.9 877.1h0M216.2 882.7h0M219 882.3h0M214.7 880.8h0M210.9 882h0M223 876.9h0M218.3 872.5h0M223.2 878.5h0M223 877.4h0M222.9 872.4h0M216 881.1h0M214.5 877.1h0M213.4 880.8h0M217.6 873.1h0M219.9 873.7h0M224.4 871.5h0M226.7 884.5h0M222.1 881h0M219.3 874.9h0M214.4 870.8h0M219.5 875.4h0M214.4 882.5h0M224.5 884.4h0M213.4 872.7h0M216.5 884.8h0M213.3 873.2h0M213.2 870.6h0M222.7 872.1h0M213 870.3h0M215 873.9h0M210.2 882.3h0M225.2 877.7h0M225 882.7h0M216 871.5h0M225.4 882h0M213.4 872.2h0M213.8 875.2h0M219.1 885h0M213.2 881.7h0M225.1 881.7h0M226.2 880.3h0M211.6 875.9h0M217.2 880h0M216.8 876.9h0M226.6 882.6h0M226.5 880.8h0M210.5 884.2h0M226 883.4h0M220.6 883.4h0M217.6 871.5h0M217 870.3h0M224.3 876.1h0M211.7 885.1h0M216.3 879.7h0M211.2 879.3h0M216.3 883.2h0M223.3 880.1h0M223.9 871.8h0M211.9 877.6h0M213.8 883.9h0M221.6 882.9h0M212.4 871h0M210.3 886h0M224.5 878.3h0M209.9 874.6h0M224.9 876.9h0M219.8 885.1h0M216.3 884.3h0M214.6 875.7h0M216.2 880.2h0M225 871.1h0M219.5 882.7h0M212 871.2h0M219.2 881.5h0M214.8 875.1h0M225.1 872.4h0M212.2 872.3h0M218 885.6h0M209.9 873.6h0M214 877.5h0M221.7 872.5h0M220.1 877.8h0M288.8 860.9h0M294.5 861.6h0M288.9 854.8h0M295.3 864.4h0M288.8 869.1h0M290.4 883.6h0M293.9 878.6h0M293.9 872.9h0M281.9 874h0M297.7 870.7h0M287.6 875.7h0M289.1 882.2h0M290.4 875.1h0M297.2 872.6h0M282.2 874.9h0M296 874.1h0M360.7 882.8h0M363.8 882.7h0M353.8 880.7h0M367.6 882.6h0M360.3 879.8h0M354.6 881.3h0M364.2 883.4h0M356.5 879.8h0M357.2 880.2h0M366.5 880.8h0M354.7 880.1h0M369.8 881.7h0M426.7 882.1h0M426 882.2h0M440.7 883.6h0M437.9 884.1h0M432.9 884.4h0M429.9 882.3h0M442.3 883.2h0M429.2 883.3h0M429.8 884.1h0M441.8 883.2h0M438.6 882.1h0M440.2 882.2h0M441.7 883.3h0M442 882.3h0M432.2 883.3h0M429.7 883.5h0M435.2 883.3h0M432.1 883.4h0M431.3 882h0M435.5 883.7h0M440.9 882.1h0M434.9 883.3h0M431.3 882.4h0M428.7 883h0M439.9 884h0M436.5 884.1h0M429.2 884.2h0M439.5 883.7h0M426.8 883.3h0M427 884h0M434.6 871.6h0M437.9 876.6h0M439 878.8h0M573 862.4h0M582 873h0M573.1 868.5h0M581.4 870.8h0M579.4 868.4h0M569.6 873.1h0M572.7 877.8h0M573.4 871.8h0M575.8 882.3h0M575.2 885.3h0M574.1 884.3h0M574 882.9h0M574.3 882.4h0M577.5 880.2h0M577.1 881.3h0M569.8 885.3h0M576.3 882.3h0M583.6 881.6h0M582.5 885.6h0M571.6 881.3h0M573 884.8h0M580.3 882.3h0M577.1 817.2h0M577.1 819.4h0M575.4 824.2h0M573.2 853.4h0M573.9 857.7h0M582.4 856.2h0M583.1 857.3h0" fill="none" stroke="#d53283" stroke-width="1.75" stroke-linecap="round"/>
<path d="M101.4 215.8l1.1 2.1h-2.3zM96.2 228.4l1.1 2.1h-2.3zM100.2 220.4l1.1 2.1h-2.3zM111.4 217.1l1.1 2.1h-2.3zM100.4 216.7l1.1 2.1h-2.3zM107.3 238.1l1.1 2.1h-2.3zM114.9 230.8l1.1 2.1h-2.3zM110.2 247.3l1.1 2.1h-2.3zM112.5 233.8l1.1 2.1h-2.3zM97.9 236.1l1.1 2.1h-2.3zM108 248.3l1.1 2.1h-2.3zM97.2 249.8l1.1 2.1h-2.3zM104.6 250.5l1.1 2.1h-2.3zM103.1 249.5l1.1 2.1h-2.3zM99.3 249.9l1.1 2.1h-2.3zM110.2 265.8l1.1 2.1h-2.3zM111.1 258.8l1.1 2.1h-2.3zM99.3 268.4l1.1 2.1h-2.3zM105.8 262.2l1.1 2.1h-2.3zM101.3 262.4l1.1 2.1h-2.3zM210.5 181.7l1.1 2.1h-2.3zM211.1 181.2l1.1 2.1h-2.3zM194.7 184.1l1.1 2.1h-2.3zM191.7 183.8l1.1 2.1h-2.3zM205.7 176.6l1.1 2.1h-2.3zM195.9 182.6l1.1 2.1h-2.3zM209.7 193.5l1.1 2.1h-2.3zM199.5 198.1l1.1 2.1h-2.3zM199.4 191.3l1.1 2.1h-2.3zM203.2 189.8l1.1 2.1h-2.3zM195.9 192.2l1.1 2.1h-2.3zM196.6 194.6l1.1 2.1h-2.3zM198.5 188l1.1 2.1h-2.3zM201.3 191.3l1.1 2.1h-2.3zM192.9 188.3l1.1 2.1h-2.3zM208 194.7l1.1 2.1h-2.3zM198 213.2l1.1 2.1h-2.3zM209.8 206.2l1.1 2.1h-2.3zM205 200.7l1.1 2.1h-2.3zM195.3 217.8l1.1 2.1h-2.3zM200.8 202l1.1 2.1h-2.3zM210.9 202.1l1.1 2.1h-2.3zM199.5 202l1.1 2.1h-2.3zM207 200.8l1.1 2.1h-2.3zM193.3 221.4l1.1 2.1h-2.3zM207.4 205.5l1.1 2.1h-2.3zM197.1 257.1l1.1 2.1h-2.3zM203.1 259.2l1.1 2.1h-2.3zM207.9 252.7l1.1 2.1h-2.3zM211.2 239.7l1.1 2.1h-2.3zM193.9 226.5l1.1 2.1h-2.3zM195.2 246l1.1 2.1h-2.3zM209 256.3l1.1 2.1h-2.3zM205.5 231.9l1.1 2.1h-2.3zM207.8 42.2l1.1 2.1h-2.3zM198.8 82.6l1.1 2.1h-2.3zM205.6 91.1l1.1 2.1h-2.3zM211.2 94.7l1.1 2.1h-2.3zM290.3 135.5l1.1 2.1h-2.3zM292.7 115.6l1.1 2.1h-2.3zM307.9 111.3l1.1 2.1h-2.3zM287 120.2l1.1 2.1h-2.3zM290.5 122.7l1.1 2.1h-2.3zM290.1 105.7l1.1 2.1h-2.3zM297 120.4l1.1 2.1h-2.3zM286.7 130.1l1.1 2.1h-2.3zM296.7 105.4l1.1 2.1h-2.3zM290 105.5l1.1 2.1h-2.3zM307.8 149.4l1.1 2.1h-2.3zM306.3 154.7l1.1 2.1h-2.3zM289 148.6l1.1 2.1h-2.3zM293.5 152.9l1.1 2.1h-2.3zM287.1 150.8l1.1 2.1h-2.3zM305 150.9l1.1 2.1h-2.3zM306.9 154.9l1.1 2.1h-2.3zM308.6 148.3l1.1 2.1h-2.3zM300.1 156l1.1 2.1h-2.3zM301.3 155.7l1.1 2.1h-2.3zM301.6 153.4l1.1 2.1h-2.3zM299.2 147.2l1.1 2.1h-2.3zM307.7 153.4l1.1 2.1h-2.3zM300 152.7l1.1 2.1h-2.3zM293.9 154.5l1.1 2.1h-2.3zM297.9 148.9l1.1 2.1h-2.3zM291.9 157.4l1.1 2.1h-2.3zM289.6 181.4l1.1 2.1h-2.3zM304.3 180.3l1.1 2.1h-2.3zM301.8 171.1l1.1 2.1h-2.3zM291.2 185.7l1.1 2.1h-2.3zM292.4 182.4l1.1 2.1h-2.3zM307.4 168.2l1.1 2.1h-2.3zM292.4 159.4l1.1 2.1h-2.3zM302.1 161.2l1.1 2.1h-2.3zM289.3 163l1.1 2.1h-2.3zM304.7 167.1l1.1 2.1h-2.3zM289 172l1.1 2.1h-2.3zM298 188.3l1.1 2.1h-2.3zM287.2 166.2l1.1 2.1h-2.3zM298.7 187.3l1.1 2.1h-2.3zM305.4 179.9l1.1 2.1h-2.3zM288.3 185.8l1.1 2.1h-2.3zM292.5 170.5l1.1 2.1h-2.3zM303.5 156.9l1.1 2.1h-2.3zM300 183.5l1.1 2.1h-2.3zM302 202.6l1.1 2.1h-2.3zM295.1 214.6l1.1 2.1h-2.3zM287 208l1.1 2.1h-2.3zM308 223.5l1.1 2.1h-2.3zM302.4 201.9l1.1 2.1h-2.3zM291 219.5l1.1 2.1h-2.3zM302.8 214.9l1.1 2.1h-2.3zM292.6 218.9l1.1 2.1h-2.3zM296.9 205.1l1.1 2.1h-2.3zM305.7 218.3l1.1 2.1h-2.3zM297 252l1.1 2.1h-2.3zM296 273.7l1.1 2.1h-2.3zM306 272.7l1.1 2.1h-2.3zM374 269.3l1.1 2.1h-2.3zM106.5 371.5l1.1 2.1h-2.3zM103.4 369.4l1.1 2.1h-2.3zM95.8 370.9l1.1 2.1h-2.3zM97.3 371.7l1.1 2.1h-2.3zM98.3 383.1l1.1 2.1h-2.3zM95.4 379.7l1.1 2.1h-2.3zM95.7 402.7l1.1 2.1h-2.3zM95.2 418.4l1.1 2.1h-2.3zM104.6 387.1l1.1 2.1h-2.3zM109.3 396.2l1.1 2.1h-2.3zM103.1 405.3l1.1 2.1h-2.3zM90.3 414.2l1.1 2.1h-2.3zM95.5 412.8l1.1 2.1h-2.3zM105.5 416.4l1.1 2.1h-2.3zM107.9 388.5l1.1 2.1h-2.3zM101.4 391.9l1.1 2.1h-2.3zM97.5 442.7l1.1 2.1h-2.3zM102.2 442.9l1.1 2.1h-2.3zM103.2 454.1l1.1 2.1h-2.3zM98.5 463.3l1.1 2.1h-2.3zM93.3 442.4l1.1 2.1h-2.3zM108.7 436.4l1.1 2.1h-2.3zM98.8 428.9l1.1 2.1h-2.3zM103.8 434.2l1.1 2.1h-2.3zM100.2 462.8l1.1 2.1h-2.3zM91.2 453.7l1.1 2.1h-2.3zM94.3 468.4l1.1 2.1h-2.3zM90.8 431.5l1.1 2.1h-2.3zM93.4 443.4l1.1 2.1h-2.3zM93.6 460.6l1.1 2.1h-2.3zM97.8 455.2l1.1 2.1h-2.3zM96 431.4l1.1 2.1h-2.3zM105.4 481.4l1.1 2.1h-2.3zM106.7 497.3l1.1 2.1h-2.3zM99.3 469.5l1.1 2.1h-2.3zM106.3 472.4l1.1 2.1h-2.3zM98.7 497l1.1 2.1h-2.3zM94.8 487.4l1.1 2.1h-2.3zM99.1 484.1l1.1 2.1h-2.3zM96.2 478.1l1.1 2.1h-2.3zM104.8 487.7l1.1 2.1h-2.3zM106.1 476.5l1.1 2.1h-2.3zM92.4 498.8l1.1 2.1h-2.3zM92.9 497.6l1.1 2.1h-2.3zM97.2 480l1.1 2.1h-2.3zM98.8 469.6l1.1 2.1h-2.3zM108.5 499.8l1.1 2.1h-2.3zM108.2 479.2l1.1 2.1h-2.3zM108.7 491.7l1.1 2.1h-2.3zM104 498.8l1.1 2.1h-2.3zM95.3 530.8l1.1 2.1h-2.3zM109.3 514.6l1.1 2.1h-2.3zM94.1 518.6l1.1 2.1h-2.3zM90.5 503.8l1.1 2.1h-2.3zM97.8 537.1l1.1 2.1h-2.3zM102.5 514.8l1.1 2.1h-2.3zM92.6 506.9l1.1 2.1h-2.3zM106.2 516.4l1.1 2.1h-2.3zM93.5 516.7l1.1 2.1h-2.3zM103.5 532.7l1.1 2.1h-2.3zM92.8 504l1.1 2.1h-2.3zM107.1 512.9l1.1 2.1h-2.3zM93.6 539.6l1.1 2.1h-2.3zM104.1 537.9l1.1 2.1h-2.3zM106.2 528.9l1.1 2.1h-2.3zM94.6 526.1l1.1 2.1h-2.3zM91.4 512.6l1.1 2.1h-2.3zM101.2 538.7l1.1 2.1h-2.3zM99.5 534.2l1.1 2.1h-2.3zM99.1 524.3l1.1 2.1h-2.3zM105.1 510.2l1.1 2.1h-2.3zM98.8 512.4l1.1 2.1h-2.3zM99.4 518.9l1.1 2.1h-2.3zM99.2 517l1.1 2.1h-2.3zM98.6 506.2l1.1 2.1h-2.3zM97.6 520l1.1 2.1h-2.3zM92.8 521.7l1.1 2.1h-2.3zM95.4 515.2l1.1 2.1h-2.3zM94.8 519.1l1.1 2.1h-2.3zM94.5 517l1.1 2.1h-2.3zM105.1 518.8l1.1 2.1h-2.3zM91.9 528.5l1.1 2.1h-2.3zM93.7 523.6l1.1 2.1h-2.3zM100 511.6l1.1 2.1h-2.3zM95.8 535.6l1.1 2.1h-2.3zM94.4 524.3l1.1 2.1h-2.3zM97 522.1l1.1 2.1h-2.3zM99.5 532.3l1.1 2.1h-2.3zM103 533.8l1.1 2.1h-2.3zM108.8 537.7l1.1 2.1h-2.3zM106.5 536.2l1.1 2.1h-2.3zM98.1 530.5l1.1 2.1h-2.3zM98.5 532.6l1.1 2.1h-2.3zM97.8 510l1.1 2.1h-2.3zM94.3 531.7l1.1 2.1h-2.3zM108.4 513.9l1.1 2.1h-2.3zM91 514.1l1.1 2.1h-2.3zM93.7 508.5l1.1 2.1h-2.3zM102.7 519.6l1.1 2.1h-2.3zM101.3 504.5l1.1 2.1h-2.3zM95.1 530l1.1 2.1h-2.3zM108.2 533.7l1.1 2.1h-2.3zM97.7 534.8l1.1 2.1h-2.3zM101.4 508.9l1.1 2.1h-2.3zM91.4 529.4l1.1 2.1h-2.3zM107.2 537.3l1.1 2.1h-2.3zM91.6 505.2l1.1 2.1h-2.3zM97.4 511.5l1.1 2.1h-2.3zM107.1 514.5l1.1 2.1h-2.3zM108.3 522.2l1.1 2.1h-2.3zM107.5 510.6l1.1 2.1h-2.3zM106 525.3l1.1 2.1h-2.3zM94.2 517.5l1.1 2.1h-2.3zM90.2 529.9l1.1 2.1h-2.3zM98.5 525l1.1 2.1h-2.3zM90.9 531.2l1.1 2.1h-2.3zM108.6 513.6l1.1 2.1h-2.3zM89.8 532l1.1 2.1h-2.3zM96 533.1l1.1 2.1h-2.3zM93.6 532.6l1.1 2.1h-2.3zM89.9 506.5l1.1 2.1h-2.3zM99.5 541.6l1.1 2.1h-2.3zM91.1 526.8l1.1 2.1h-2.3zM107.4 514.6l1.1 2.1h-2.3zM103.2 521.1l1.1 2.1h-2.3zM96.9 524.4l1.1 2.1h-2.3zM106.3 524.5l1.1 2.1h-2.3zM105.4 513.7l1.1 2.1h-2.3zM96.1 514.3l1.1 2.1h-2.3zM106.4 518.3l1.1 2.1h-2.3zM108 535l1.1 2.1h-2.3zM101.9 521.2l1.1 2.1h-2.3zM96.6 505.3l1.1 2.1h-2.3zM107.4 521.8l1.1 2.1h-2.3zM108.3 511.8l1.1 2.1h-2.3zM96.5 504.2l1.1 2.1h-2.3zM91.3 542.8l1.1 2.1h-2.3zM106.8 515.5l1.1 2.1h-2.3zM102.8 525.2l1.1 2.1h-2.3zM94.2 518.1l1.1 2.1h-2.3zM100.8 505.9l1.1 2.1h-2.3zM95.7 539.8l1.1 2.1h-2.3zM107.8 541.2l1.1 2.1h-2.3zM96.4 511.2l1.1 2.1h-2.3zM93.5 520.5l1.1 2.1h-2.3zM90.5 518.7l1.1 2.1h-2.3zM96.4 510.4l1.1 2.1h-2.3zM109.2 530.2l1.1 2.1h-2.3zM93.9 535l1.1 2.1h-2.3zM98.7 534.1l1.1 2.1h-2.3zM108.8 530.8l1.1 2.1h-2.3zM89.7 504.4l1.1 2.1h-2.3zM95.4 512.9l1.1 2.1h-2.3zM105.9 524.3l1.1 2.1h-2.3zM91.5 531.9l1.1 2.1h-2.3zM108 519.2l1.1 2.1h-2.3zM106.1 521.7l1.1 2.1h-2.3zM92.4 537.4l1.1 2.1h-2.3zM101.3 504.7l1.1 2.1h-2.3zM100.6 514.5l1.1 2.1h-2.3zM98.3 557.6l1.1 2.1h-2.3zM103.8 549.9l1.1 2.1h-2.3zM105 551.4l1.1 2.1h-2.3zM89.9 548.6l1.1 2.1h-2.3zM108.3 549.6l1.1 2.1h-2.3zM94.5 547.3l1.1 2.1h-2.3zM95.4 561.8l1.1 2.1h-2.3zM106.1 561.5l1.1 2.1h-2.3zM107.3 550.9l1.1 2.1h-2.3zM104.2 557.6l1.1 2.1h-2.3zM96.2 553.5l1.1 2.1h-2.3zM98.8 549.4l1.1 2.1h-2.3zM106.1 550.7l1.1 2.1h-2.3zM96.7 563l1.1 2.1h-2.3zM105.5 550.6l1.1 2.1h-2.3zM105.1 555.3l1.1 2.1h-2.3zM98.9 562.6l1.1 2.1h-2.3zM107.4 549.7l1.1 2.1h-2.3zM97.2 559.9l1.1 2.1h-2.3zM104.4 546l1.1 2.1h-2.3zM102.3 558.4l1.1 2.1h-2.3zM96.2 559.9l1.1 2.1h-2.3zM100.1 560.5l1.1 2.1h-2.3zM101.6 563.2l1.1 2.1h-2.3zM100.2 558l1.1 2.1h-2.3zM91.8 563.3l1.1 2.1h-2.3zM109.2 549.3l1.1 2.1h-2.3zM108.7 554.2l1.1 2.1h-2.3zM90.3 548l1.1 2.1h-2.3zM108.3 545.4l1.1 2.1h-2.3zM104.3 572.8l1.1 2.1h-2.3zM107.8 565.9l1.1 2.1h-2.3zM102.3 577.7l1.1 2.1h-2.3zM101.5 571.1l1.1 2.1h-2.3zM97.3 575.9l1.1 2.1h-2.3zM100.9 577.8l1.1 2.1h-2.3zM100.6 572.9l1.1 2.1h-2.3zM107.5 564.6l1.1 2.1h-2.3zM106 577.7l1.1 2.1h-2.3zM104.2 575.5l1.1 2.1h-2.3zM107.9 579.2l1.1 2.1h-2.3zM90.9 568.3l1.1 2.1h-2.3zM104.8 577.1l1.1 2.1h-2.3zM98.8 578.6l1.1 2.1h-2.3zM104.5 569.8l1.1 2.1h-2.3zM95.5 570.7l1.1 2.1h-2.3zM98.9 569.4l1.1 2.1h-2.3zM105.9 563.8l1.1 2.1h-2.3zM90.3 567.7l1.1 2.1h-2.3zM95.4 569.4l1.1 2.1h-2.3zM99.3 565.6l1.1 2.1h-2.3zM106.5 576.8l1.1 2.1h-2.3zM94.9 571l1.1 2.1h-2.3zM105.9 573.4l1.1 2.1h-2.3zM94.4 568.6l1.1 2.1h-2.3zM95.6 569.9l1.1 2.1h-2.3zM100.6 576.5l1.1 2.1h-2.3zM102.5 571.7l1.1 2.1h-2.3zM107 573.9l1.1 2.1h-2.3zM107 570.9l1.1 2.1h-2.3zM94.6 573.2l1.1 2.1h-2.3zM104.4 579l1.1 2.1h-2.3zM102.2 568.3l1.1 2.1h-2.3zM97.2 572.6l1.1 2.1h-2.3zM105 575.4l1.1 2.1h-2.3zM107.4 565.2l1.1 2.1h-2.3zM99.1 580.1l1.1 2.1h-2.3zM107.7 572.2l1.1 2.1h-2.3zM92.1 567.9l1.1 2.1h-2.3zM92.9 576.7l1.1 2.1h-2.3zM104.7 577.6l1.1 2.1h-2.3zM95.6 574.5l1.1 2.1h-2.3zM101.2 579.3l1.1 2.1h-2.3zM99.4 565.3l1.1 2.1h-2.3zM92.5 572.7l1.1 2.1h-2.3zM187.6 531l1.1 2.1h-2.3zM184.8 529.3l1.1 2.1h-2.3zM185.9 525.9l1.1 2.1h-2.3zM176.6 506.2l1.1 2.1h-2.3zM172.9 513l1.1 2.1h-2.3zM189 496.7l1.1 2.1h-2.3zM190.1 523.7l1.1 2.1h-2.3zM184.3 529.7l1.1 2.1h-2.3zM189.9 496.1l1.1 2.1h-2.3zM185.6 523l1.1 2.1h-2.3zM183.6 520.7l1.1 2.1h-2.3zM179.9 490.4l1.1 2.1h-2.3zM178.6 530.9l1.1 2.1h-2.3zM181.3 510.8l1.1 2.1h-2.3zM176 501.1l1.1 2.1h-2.3zM180.1 490.1l1.1 2.1h-2.3zM181.7 524.7l1.1 2.1h-2.3zM172.2 504.3l1.1 2.1h-2.3zM179.4 512.4l1.1 2.1h-2.3zM177.2 497.7l1.1 2.1h-2.3zM184.2 516.7l1.1 2.1h-2.3zM187.7 507l1.1 2.1h-2.3zM175.5 553.2l1.1 2.1h-2.3zM188.1 554.7l1.1 2.1h-2.3zM175.8 553.2l1.1 2.1h-2.3zM173.1 542.4l1.1 2.1h-2.3zM176.5 546l1.1 2.1h-2.3zM181.9 560.1l1.1 2.1h-2.3zM183.2 563.1l1.1 2.1h-2.3zM189 540.2l1.1 2.1h-2.3zM188.5 535.1l1.1 2.1h-2.3zM190.8 563.6l1.1 2.1h-2.3zM189.1 560.5l1.1 2.1h-2.3zM180.5 553l1.1 2.1h-2.3zM174.4 559.2l1.1 2.1h-2.3zM190.5 552.6l1.1 2.1h-2.3zM176.1 561.9l1.1 2.1h-2.3zM183.9 542l1.1 2.1h-2.3zM176.8 548.1l1.1 2.1h-2.3zM187.8 554.9l1.1 2.1h-2.3zM175.6 541.2l1.1 2.1h-2.3zM179.9 556.2l1.1 2.1h-2.3zM176 542.6l1.1 2.1h-2.3zM188.6 556l1.1 2.1h-2.3zM183.9 558.9l1.1 2.1h-2.3zM184.1 547.5l1.1 2.1h-2.3zM177.8 564.4l1.1 2.1h-2.3zM175.1 553.7l1.1 2.1h-2.3zM188.6 557.4l1.1 2.1h-2.3zM186.7 535.4l1.1 2.1h-2.3zM186.1 538.1l1.1 2.1h-2.3zM191.3 556.1l1.1 2.1h-2.3zM182.7 563l1.1 2.1h-2.3zM175.1 553.6l1.1 2.1h-2.3zM183.7 562.1l1.1 2.1h-2.3zM177.3 536.5l1.1 2.1h-2.3zM181.8 561.5l1.1 2.1h-2.3zM180.7 561.1l1.1 2.1h-2.3zM182.8 553.6l1.1 2.1h-2.3zM189.8 547.6l1.1 2.1h-2.3zM187.6 555.9l1.1 2.1h-2.3zM179.8 542.1l1.1 2.1h-2.3zM187.8 554.8l1.1 2.1h-2.3zM188.6 555.6l1.1 2.1h-2.3zM186.9 550.9l1.1 2.1h-2.3zM182.5 542.5l1.1 2.1h-2.3zM189.4 534.8l1.1 2.1h-2.3zM190.4 572.6l1.1 2.1h-2.3zM175.3 566.4l1.1 2.1h-2.3zM172.8 569.1l1.1 2.1h-2.3zM189.3 575.3l1.1 2.1h-2.3zM179.7 570.8l1.1 2.1h-2.3zM181.7 571.5l1.1 2.1h-2.3zM190.1 571.2l1.1 2.1h-2.3zM175.9 567.8l1.1 2.1h-2.3zM190.8 566.2l1.1 2.1h-2.3zM179.5 565.5l1.1 2.1h-2.3zM176.5 575.5l1.1 2.1h-2.3zM176.2 569.9l1.1 2.1h-2.3zM181.9 572l1.1 2.1h-2.3zM180.8 579.7l1.1 2.1h-2.3zM189.1 574.8l1.1 2.1h-2.3zM172.6 577.7l1.1 2.1h-2.3zM172.5 576.9l1.1 2.1h-2.3zM174.6 580l1.1 2.1h-2.3zM183.6 565.8l1.1 2.1h-2.3zM187.1 570.9l1.1 2.1h-2.3zM181.1 579.9l1.1 2.1h-2.3zM183.8 572.2l1.1 2.1h-2.3zM268 410.5l1.1 2.1h-2.3zM257 414.1l1.1 2.1h-2.3zM259.6 413.8l1.1 2.1h-2.3zM271 428.1l1.1 2.1h-2.3zM256 420l1.1 2.1h-2.3zM272.8 485.9l1.1 2.1h-2.3zM256.3 454.4l1.1 2.1h-2.3zM271.6 452.1l1.1 2.1h-2.3zM269.4 459.6l1.1 2.1h-2.3zM258.6 455.3l1.1 2.1h-2.3zM263.1 457l1.1 2.1h-2.3zM266.1 454.2l1.1 2.1h-2.3zM259.8 470.8l1.1 2.1h-2.3zM255.7 445.3l1.1 2.1h-2.3zM270.2 438.7l1.1 2.1h-2.3zM256.9 454.8l1.1 2.1h-2.3zM263.3 434l1.1 2.1h-2.3zM262.3 455.6l1.1 2.1h-2.3zM271.5 458.4l1.1 2.1h-2.3zM264.7 475.8l1.1 2.1h-2.3zM262 435.3l1.1 2.1h-2.3zM272.9 452.6l1.1 2.1h-2.3zM260.6 475.6l1.1 2.1h-2.3zM268 449l1.1 2.1h-2.3zM258.2 478.9l1.1 2.1h-2.3zM268.6 471.8l1.1 2.1h-2.3zM268.5 431.2l1.1 2.1h-2.3zM270 451.9l1.1 2.1h-2.3zM263.2 474.7l1.1 2.1h-2.3zM258 460.3l1.1 2.1h-2.3zM266.1 469.1l1.1 2.1h-2.3zM271.6 488.1l1.1 2.1h-2.3zM259.7 469.3l1.1 2.1h-2.3zM254 461.5l1.1 2.1h-2.3zM257.3 479.5l1.1 2.1h-2.3zM272.1 454.6l1.1 2.1h-2.3zM253.7 429.4l1.1 2.1h-2.3zM254.7 445.1l1.1 2.1h-2.3zM255.5 464.4l1.1 2.1h-2.3zM271.3 485.6l1.1 2.1h-2.3zM261.2 465.2l1.1 2.1h-2.3zM267.3 445.8l1.1 2.1h-2.3zM267.6 488.3l1.1 2.1h-2.3zM262.2 452.7l1.1 2.1h-2.3zM268.1 442.4l1.1 2.1h-2.3zM262.7 461.9l1.1 2.1h-2.3zM264.3 449.4l1.1 2.1h-2.3zM259.7 435.4l1.1 2.1h-2.3zM253.6 471.5l1.1 2.1h-2.3zM265.3 470.2l1.1 2.1h-2.3zM259 494.6l1.1 2.1h-2.3zM260.1 494.8l1.1 2.1h-2.3zM271.1 508.1l1.1 2.1h-2.3zM260 496.7l1.1 2.1h-2.3zM273.3 491l1.1 2.1h-2.3zM269.9 502.6l1.1 2.1h-2.3zM270.4 500.6l1.1 2.1h-2.3zM258.1 490l1.1 2.1h-2.3zM257.9 496.4l1.1 2.1h-2.3zM268.5 502.2l1.1 2.1h-2.3zM270 494.9l1.1 2.1h-2.3zM258 510.4l1.1 2.1h-2.3zM257.7 506.3l1.1 2.1h-2.3zM258.4 499.8l1.1 2.1h-2.3zM256.3 508.9l1.1 2.1h-2.3zM261.9 489.5l1.1 2.1h-2.3zM263.6 493.7l1.1 2.1h-2.3zM266 508.9l1.1 2.1h-2.3zM254.7 499.9l1.1 2.1h-2.3zM257.4 492.5l1.1 2.1h-2.3zM255.9 501.3l1.1 2.1h-2.3zM258.9 504.8l1.1 2.1h-2.3zM257.3 502l1.1 2.1h-2.3zM272.1 489.7l1.1 2.1h-2.3zM261 489.5l1.1 2.1h-2.3zM256.4 497.7l1.1 2.1h-2.3zM266.8 489.1l1.1 2.1h-2.3zM272.9 490.6l1.1 2.1h-2.3zM269.3 502.9l1.1 2.1h-2.3zM266.4 498.4l1.1 2.1h-2.3zM261.1 490.6l1.1 2.1h-2.3zM261.6 508l1.1 2.1h-2.3zM259.6 496.8l1.1 2.1h-2.3zM269.6 508.2l1.1 2.1h-2.3zM269.5 502.1l1.1 2.1h-2.3zM263.3 502.4l1.1 2.1h-2.3zM270.7 498.1l1.1 2.1h-2.3zM266.5 503.5l1.1 2.1h-2.3zM267.2 494.1l1.1 2.1h-2.3zM258.9 494.4l1.1 2.1h-2.3zM258.4 508l1.1 2.1h-2.3zM258.1 493.2l1.1 2.1h-2.3zM271.7 497.2l1.1 2.1h-2.3zM269.4 505.1l1.1 2.1h-2.3zM271.4 496l1.1 2.1h-2.3zM269.9 496.8l1.1 2.1h-2.3zM269.5 508.7l1.1 2.1h-2.3zM262.2 493.3l1.1 2.1h-2.3zM268.8 494l1.1 2.1h-2.3zM256.9 508.2l1.1 2.1h-2.3zM261.1 522.5l1.1 2.1h-2.3zM268.1 511.5l1.1 2.1h-2.3zM272.8 528.1l1.1 2.1h-2.3zM266.1 526.6l1.1 2.1h-2.3zM254.1 513.7l1.1 2.1h-2.3zM254.4 524.6l1.1 2.1h-2.3zM262.8 525.6l1.1 2.1h-2.3zM269.2 511.5l1.1 2.1h-2.3zM271.2 520.9l1.1 2.1h-2.3zM261 518.3l1.1 2.1h-2.3zM263.8 521.9l1.1 2.1h-2.3zM263.8 526.7l1.1 2.1h-2.3zM255.5 523.8l1.1 2.1h-2.3zM253.6 514.5l1.1 2.1h-2.3zM264 520.7l1.1 2.1h-2.3zM263.6 520.9l1.1 2.1h-2.3zM270.7 510.9l1.1 2.1h-2.3zM257.2 513.1l1.1 2.1h-2.3zM270.5 517.2l1.1 2.1h-2.3zM259 513.9l1.1 2.1h-2.3zM264.3 515l1.1 2.1h-2.3zM267.6 522.9l1.1 2.1h-2.3zM256.5 528l1.1 2.1h-2.3zM272.3 519l1.1 2.1h-2.3zM272.6 522.4l1.1 2.1h-2.3zM272.8 524.4l1.1 2.1h-2.3zM253.6 522.9l1.1 2.1h-2.3zM266.3 522.6l1.1 2.1h-2.3zM266.9 510.8l1.1 2.1h-2.3zM271 526.4l1.1 2.1h-2.3zM257.6 513.6l1.1 2.1h-2.3zM256.1 514l1.1 2.1h-2.3zM269.6 519.9l1.1 2.1h-2.3zM258.8 521.3l1.1 2.1h-2.3zM254.9 524.3l1.1 2.1h-2.3zM255.4 516l1.1 2.1h-2.3zM266.4 527.8l1.1 2.1h-2.3zM264.2 522l1.1 2.1h-2.3zM268.4 525.9l1.1 2.1h-2.3zM269.6 519.3l1.1 2.1h-2.3zM253.7 512l1.1 2.1h-2.3zM272.1 511l1.1 2.1h-2.3zM271 522.3l1.1 2.1h-2.3zM272.1 518.4l1.1 2.1h-2.3zM268.8 518.7l1.1 2.1h-2.3zM261.2 516.6l1.1 2.1h-2.3zM258.5 513.9l1.1 2.1h-2.3zM271.7 519.3l1.1 2.1h-2.3zM261.9 515.3l1.1 2.1h-2.3zM263.3 526.8l1.1 2.1h-2.3zM267.4 514l1.1 2.1h-2.3zM267.2 528.2l1.1 2.1h-2.3zM267.3 526.2l1.1 2.1h-2.3zM265.9 517.6l1.1 2.1h-2.3zM263.7 524.7l1.1 2.1h-2.3zM268.8 521.2l1.1 2.1h-2.3zM261.4 519.1l1.1 2.1h-2.3zM258.8 525.4l1.1 2.1h-2.3zM271.6 525.7l1.1 2.1h-2.3zM270.4 514.4l1.1 2.1h-2.3zM267.8 527l1.1 2.1h-2.3zM256.9 511.3l1.1 2.1h-2.3zM254.5 510.8l1.1 2.1h-2.3zM271.9 519.4l1.1 2.1h-2.3zM272.3 516.2l1.1 2.1h-2.3zM259 518.3l1.1 2.1h-2.3zM266.1 519.4l1.1 2.1h-2.3zM254 519.2l1.1 2.1h-2.3zM261.4 527.1l1.1 2.1h-2.3zM267.5 527.3l1.1 2.1h-2.3zM260.7 517l1.1 2.1h-2.3zM269.6 515.9l1.1 2.1h-2.3zM271.7 522.5l1.1 2.1h-2.3zM256.3 514.3l1.1 2.1h-2.3zM267.2 517.9l1.1 2.1h-2.3zM261 523.7l1.1 2.1h-2.3zM257.1 510.8l1.1 2.1h-2.3zM260.5 524.6l1.1 2.1h-2.3zM263.1 523.9l1.1 2.1h-2.3zM271.3 517.7l1.1 2.1h-2.3zM268.8 515.2l1.1 2.1h-2.3zM253.7 520.5l1.1 2.1h-2.3zM254.7 516.1l1.1 2.1h-2.3zM273.3 525.5l1.1 2.1h-2.3zM264.6 521.4l1.1 2.1h-2.3zM265.7 516.3l1.1 2.1h-2.3zM260.6 525.3l1.1 2.1h-2.3zM270.1 521.7l1.1 2.1h-2.3zM264.6 513.1l1.1 2.1h-2.3zM265.3 518.2l1.1 2.1h-2.3zM258.5 519.6l1.1 2.1h-2.3zM269 527.7l1.1 2.1h-2.3zM257.8 516.5l1.1 2.1h-2.3zM256.3 518.8l1.1 2.1h-2.3zM265.4 528.3l1.1 2.1h-2.3zM270.1 518.4l1.1 2.1h-2.3zM259.4 525.6l1.1 2.1h-2.3zM259.6 512.5l1.1 2.1h-2.3zM256.6 517.8l1.1 2.1h-2.3zM265.5 514l1.1 2.1h-2.3zM268.9 526.7l1.1 2.1h-2.3zM256.1 520.7l1.1 2.1h-2.3zM264.2 514.7l1.1 2.1h-2.3zM264.3 512.4l1.1 2.1h-2.3zM255.7 518.3l1.1 2.1h-2.3zM264.1 512.5l1.1 2.1h-2.3zM259 519.5l1.1 2.1h-2.3zM257.5 523.9l1.1 2.1h-2.3zM273.1 516.3l1.1 2.1h-2.3zM255.4 513.8l1.1 2.1h-2.3zM260.4 517.2l1.1 2.1h-2.3zM265.8 513.7l1.1 2.1h-2.3zM261.6 525.9l1.1 2.1h-2.3zM254 512.5l1.1 2.1h-2.3zM270.8 524.1l1.1 2.1h-2.3zM258.3 516.7l1.1 2.1h-2.3zM261.8 523.9l1.1 2.1h-2.3zM271.6 524.6l1.1 2.1h-2.3zM272.8 513.2l1.1 2.1h-2.3zM271.7 524.4l1.1 2.1h-2.3zM261.7 527.8l1.1 2.1h-2.3zM268.3 520.9l1.1 2.1h-2.3zM270.4 522.3l1.1 2.1h-2.3zM257.5 516.5l1.1 2.1h-2.3zM272.8 513.9l1.1 2.1h-2.3zM255.6 524.1l1.1 2.1h-2.3zM266.6 525.5l1.1 2.1h-2.3zM258.3 514.5l1.1 2.1h-2.3zM257.9 512.8l1.1 2.1h-2.3zM256.3 517.1l1.1 2.1h-2.3zM272.3 522l1.1 2.1h-2.3zM256.1 517.3l1.1 2.1h-2.3zM271.7 528.1l1.1 2.1h-2.3zM256.9 525l1.1 2.1h-2.3zM260.1 527.2l1.1 2.1h-2.3zM257.8 521.5l1.1 2.1h-2.3zM273.2 524.3l1.1 2.1h-2.3zM255.4 527.9l1.1 2.1h-2.3zM270.7 511.4l1.1 2.1h-2.3zM259.5 521.1l1.1 2.1h-2.3zM272.5 514.1l1.1 2.1h-2.3zM268.5 525.1l1.1 2.1h-2.3zM258.8 514.9l1.1 2.1h-2.3zM263.7 524.1l1.1 2.1h-2.3zM256.8 516.7l1.1 2.1h-2.3zM261.7 522.5l1.1 2.1h-2.3zM254.1 523l1.1 2.1h-2.3zM267.1 527.1l1.1 2.1h-2.3zM265.3 526.4l1.1 2.1h-2.3zM259 518.6l1.1 2.1h-2.3zM253.9 523.1l1.1 2.1h-2.3zM272.2 514l1.1 2.1h-2.3zM256.1 512.5l1.1 2.1h-2.3zM260.1 523.6l1.1 2.1h-2.3zM254.1 527.1l1.1 2.1h-2.3zM261.2 524.2l1.1 2.1h-2.3zM261.6 520l1.1 2.1h-2.3zM264.2 522.1l1.1 2.1h-2.3zM260 523.9l1.1 2.1h-2.3zM258.5 521l1.1 2.1h-2.3zM269.2 517.3l1.1 2.1h-2.3zM259.1 526.1l1.1 2.1h-2.3zM260.2 517.4l1.1 2.1h-2.3zM263.3 527l1.1 2.1h-2.3zM259 525.1l1.1 2.1h-2.3zM268 525l1.1 2.1h-2.3zM255.3 525.7l1.1 2.1h-2.3zM260 528.5l1.1 2.1h-2.3zM261.9 528.6l1.1 2.1h-2.3zM258.7 519.8l1.1 2.1h-2.3zM259.7 549.7l1.1 2.1h-2.3zM259.5 537.6l1.1 2.1h-2.3zM264.3 539.3l1.1 2.1h-2.3zM265.6 540.5l1.1 2.1h-2.3zM261.7 549.5l1.1 2.1h-2.3zM270.7 534.2l1.1 2.1h-2.3zM261.3 549.5l1.1 2.1h-2.3zM259.6 552.4l1.1 2.1h-2.3zM268.8 535.4l1.1 2.1h-2.3zM270.3 533l1.1 2.1h-2.3zM271 548.5l1.1 2.1h-2.3zM257 536.6l1.1 2.1h-2.3zM257.5 534.4l1.1 2.1h-2.3zM262.8 530.7l1.1 2.1h-2.3zM272.8 544.1l1.1 2.1h-2.3zM265.9 552.2l1.1 2.1h-2.3zM265.9 550.8l1.1 2.1h-2.3zM260.1 543.5l1.1 2.1h-2.3zM273.2 539.7l1.1 2.1h-2.3zM257.2 553.1l1.1 2.1h-2.3zM264.7 545.2l1.1 2.1h-2.3zM267 552.6l1.1 2.1h-2.3zM269.6 545.9l1.1 2.1h-2.3zM269.7 546.2l1.1 2.1h-2.3zM261.3 546.3l1.1 2.1h-2.3zM259 531.9l1.1 2.1h-2.3zM273 535.1l1.1 2.1h-2.3zM264.5 530.4l1.1 2.1h-2.3zM259.2 552.1l1.1 2.1h-2.3zM256.3 553.6l1.1 2.1h-2.3zM269.5 543.9l1.1 2.1h-2.3zM270.4 532.6l1.1 2.1h-2.3zM264.9 531.8l1.1 2.1h-2.3zM261.2 539.9l1.1 2.1h-2.3zM266.7 538.5l1.1 2.1h-2.3zM273 533.6l1.1 2.1h-2.3zM265.1 531l1.1 2.1h-2.3zM269.2 544.9l1.1 2.1h-2.3zM271.1 548.5l1.1 2.1h-2.3zM268.6 530.3l1.1 2.1h-2.3zM269.7 566.9l1.1 2.1h-2.3zM266.4 558.6l1.1 2.1h-2.3zM260.4 572.5l1.1 2.1h-2.3zM272.1 576.2l1.1 2.1h-2.3zM255.7 579.7l1.1 2.1h-2.3zM269.5 557.9l1.1 2.1h-2.3zM261.9 556.8l1.1 2.1h-2.3zM261.5 570.9l1.1 2.1h-2.3zM270.3 576.1l1.1 2.1h-2.3zM266.6 555.8l1.1 2.1h-2.3zM272.9 570.3l1.1 2.1h-2.3zM271 560.9l1.1 2.1h-2.3zM255.9 580.7l1.1 2.1h-2.3zM263.6 563.5l1.1 2.1h-2.3zM268.8 556l1.1 2.1h-2.3zM255.2 574.9l1.1 2.1h-2.3zM264.3 561.9l1.1 2.1h-2.3zM273.3 565.1l1.1 2.1h-2.3zM258.3 557.3l1.1 2.1h-2.3zM255.9 562.7l1.1 2.1h-2.3zM259.3 557.3l1.1 2.1h-2.3zM260.4 560.7l1.1 2.1h-2.3zM259.3 569.4l1.1 2.1h-2.3zM262.2 561.8l1.1 2.1h-2.3zM270.1 571.8l1.1 2.1h-2.3zM263.8 578.1l1.1 2.1h-2.3zM265.3 569.3l1.1 2.1h-2.3zM255.8 554.5l1.1 2.1h-2.3zM254.9 579.7l1.1 2.1h-2.3zM272.4 559.1l1.1 2.1h-2.3zM260.5 563.1l1.1 2.1h-2.3zM272.4 568l1.1 2.1h-2.3zM260.2 570.4l1.1 2.1h-2.3zM266.3 563l1.1 2.1h-2.3zM266.7 565.6l1.1 2.1h-2.3zM255.4 570.7l1.1 2.1h-2.3zM255 566.1l1.1 2.1h-2.3zM262.3 561.4l1.1 2.1h-2.3zM256.1 564.8l1.1 2.1h-2.3zM259.5 564.1l1.1 2.1h-2.3zM257.5 561.6l1.1 2.1h-2.3zM259.8 570l1.1 2.1h-2.3zM262.6 567.6l1.1 2.1h-2.3zM259.8 564.9l1.1 2.1h-2.3zM260.2 572.9l1.1 2.1h-2.3zM343 516.3l1.1 2.1h-2.3zM344 550.2l1.1 2.1h-2.3zM344 558.7l1.1 2.1h-2.3zM348 560.2l1.1 2.1h-2.3zM350 566.2l1.1 2.1h-2.3zM347.5 574.2l1.1 2.1h-2.3zM418.3 464l1.1 2.1h-2.3zM434.3 474.6l1.1 2.1h-2.3zM436.8 453.6l1.1 2.1h-2.3zM424.1 458l1.1 2.1h-2.3zM432.9 467l1.1 2.1h-2.3zM437 506.4l1.1 2.1h-2.3zM430.1 542.1l1.1 2.1h-2.3zM428.9 504.5l1.1 2.1h-2.3zM430 494l1.1 2.1h-2.3zM425.9 497.2l1.1 2.1h-2.3zM435.1 517.1l1.1 2.1h-2.3zM431.7 495.7l1.1 2.1h-2.3zM435.9 555.1l1.1 2.1h-2.3zM422.7 551.6l1.1 2.1h-2.3zM428.3 548.2l1.1 2.1h-2.3zM418.9 552.3l1.1 2.1h-2.3zM428.5 553.2l1.1 2.1h-2.3zM430.4 546.7l1.1 2.1h-2.3zM423.4 366.7l1.1 2.1h-2.3zM432.6 384.5l1.1 2.1h-2.3zM427.2 425.7l1.1 2.1h-2.3zM428.2 428.7l1.1 2.1h-2.3zM428.9 438.7l1.1 2.1h-2.3zM433.5 450.7l1.1 2.1h-2.3zM486 579l1.1 2.1h-2.3zM492.5 578.1l1.1 2.1h-2.3zM498 577.2l1.1 2.1h-2.3zM584.2 500l1.1 2.1h-2.3zM589 518.4l1.1 2.1h-2.3zM598.2 499.1l1.1 2.1h-2.3zM598.8 512.5l1.1 2.1h-2.3zM595.2 515.6l1.1 2.1h-2.3zM593.3 504.7l1.1 2.1h-2.3zM583.5 498.9l1.1 2.1h-2.3zM599.1 499.5l1.1 2.1h-2.3zM594.3 500l1.1 2.1h-2.3zM593.6 513.8l1.1 2.1h-2.3zM597.6 509.3l1.1 2.1h-2.3zM586.8 516.7l1.1 2.1h-2.3zM593.6 511.4l1.1 2.1h-2.3zM594.8 510.6l1.1 2.1h-2.3zM596.1 502.8l1.1 2.1h-2.3zM584.3 503.2l1.1 2.1h-2.3zM595.6 518.3l1.1 2.1h-2.3zM598.7 517.8l1.1 2.1h-2.3zM593.8 507.5l1.1 2.1h-2.3zM585.6 514.6l1.1 2.1h-2.3zM599 513.1l1.1 2.1h-2.3zM584.4 504.3l1.1 2.1h-2.3zM586.7 502.7l1.1 2.1h-2.3zM597.8 513.7l1.1 2.1h-2.3zM593.1 518l1.1 2.1h-2.3zM588.6 518.4l1.1 2.1h-2.3zM596.9 505.9l1.1 2.1h-2.3zM594.1 500.1l1.1 2.1h-2.3zM584.7 505.1l1.1 2.1h-2.3zM586.7 500.1l1.1 2.1h-2.3zM597 518.5l1.1 2.1h-2.3zM597 504.9l1.1 2.1h-2.3zM583.9 515.7l1.1 2.1h-2.3zM591.9 503.7l1.1 2.1h-2.3zM595.3 517.9l1.1 2.1h-2.3zM588.4 508.5l1.1 2.1h-2.3zM583.7 515.4l1.1 2.1h-2.3zM590 510.7l1.1 2.1h-2.3zM599.2 514.1l1.1 2.1h-2.3zM595.6 500.2l1.1 2.1h-2.3zM599.9 524.1l1.1 2.1h-2.3zM591 539.9l1.1 2.1h-2.3zM585.8 535.4l1.1 2.1h-2.3zM599.3 526l1.1 2.1h-2.3zM585.4 525.5l1.1 2.1h-2.3zM593.2 523.2l1.1 2.1h-2.3zM599.4 528.9l1.1 2.1h-2.3zM599.3 527.7l1.1 2.1h-2.3zM592.5 525.9l1.1 2.1h-2.3zM586.4 540.6l1.1 2.1h-2.3zM591.5 537.8l1.1 2.1h-2.3zM587.8 531.1l1.1 2.1h-2.3zM588.2 542.8l1.1 2.1h-2.3zM588.3 535.6l1.1 2.1h-2.3zM586.2 542.5l1.1 2.1h-2.3zM583.3 539.4l1.1 2.1h-2.3zM596 534.6l1.1 2.1h-2.3zM582.8 536.1l1.1 2.1h-2.3zM592.8 538.1l1.1 2.1h-2.3zM589.1 537.7l1.1 2.1h-2.3zM594.2 540.6l1.1 2.1h-2.3zM592.9 527.2l1.1 2.1h-2.3zM591.1 527.8l1.1 2.1h-2.3zM596.4 524.9l1.1 2.1h-2.3zM592.8 541.8l1.1 2.1h-2.3zM598.6 541.3l1.1 2.1h-2.3zM593 529.8l1.1 2.1h-2.3zM598.2 528.8l1.1 2.1h-2.3zM598 522.1l1.1 2.1h-2.3zM595.2 543.1l1.1 2.1h-2.3zM588.5 535.5l1.1 2.1h-2.3zM591.3 542.8l1.1 2.1h-2.3zM584 534.5l1.1 2.1h-2.3zM595.5 531.6l1.1 2.1h-2.3zM594.1 537.5l1.1 2.1h-2.3zM597.2 540.9l1.1 2.1h-2.3zM584.1 539.9l1.1 2.1h-2.3zM584.9 527.4l1.1 2.1h-2.3zM594.1 531.4l1.1 2.1h-2.3zM595.6 542.4l1.1 2.1h-2.3zM583.9 531.4l1.1 2.1h-2.3zM583.1 538.8l1.1 2.1h-2.3zM588.4 531.9l1.1 2.1h-2.3zM588.6 539.6l1.1 2.1h-2.3zM583.5 520.4l1.1 2.1h-2.3zM584.3 518.8l1.1 2.1h-2.3zM586.2 521l1.1 2.1h-2.3zM582.9 529.6l1.1 2.1h-2.3zM585.2 527.9l1.1 2.1h-2.3zM583.1 542.7l1.1 2.1h-2.3zM589.2 543.7l1.1 2.1h-2.3zM595.9 522.1l1.1 2.1h-2.3zM594.4 539.6l1.1 2.1h-2.3zM593.4 531.5l1.1 2.1h-2.3zM590.9 539.8l1.1 2.1h-2.3zM585.9 528l1.1 2.1h-2.3zM583.5 538.1l1.1 2.1h-2.3zM585.9 518.9l1.1 2.1h-2.3zM599.5 530.4l1.1 2.1h-2.3zM597.1 527.1l1.1 2.1h-2.3zM592.7 525l1.1 2.1h-2.3zM593.5 526.3l1.1 2.1h-2.3zM595.9 529.2l1.1 2.1h-2.3zM597.2 531.1l1.1 2.1h-2.3zM586.9 531.9l1.1 2.1h-2.3zM596.9 537.1l1.1 2.1h-2.3zM594.1 539.4l1.1 2.1h-2.3zM587.5 542.8l1.1 2.1h-2.3zM587.7 535.5l1.1 2.1h-2.3zM585.7 525.2l1.1 2.1h-2.3zM592.3 533.2l1.1 2.1h-2.3zM599.8 529.7l1.1 2.1h-2.3zM596.7 524.6l1.1 2.1h-2.3zM585.6 527.1l1.1 2.1h-2.3zM584.7 524.5l1.1 2.1h-2.3zM587.6 532.2l1.1 2.1h-2.3zM585.5 520.4l1.1 2.1h-2.3zM585.1 532.3l1.1 2.1h-2.3zM595.6 529l1.1 2.1h-2.3zM588.2 518.9l1.1 2.1h-2.3zM592.7 525.6l1.1 2.1h-2.3zM588.2 543l1.1 2.1h-2.3zM600.1 533.2l1.1 2.1h-2.3zM593.1 520.4l1.1 2.1h-2.3zM585.1 533.2l1.1 2.1h-2.3zM596.4 536.3l1.1 2.1h-2.3zM587.8 522.1l1.1 2.1h-2.3zM590.7 528.8l1.1 2.1h-2.3zM587.7 524.1l1.1 2.1h-2.3zM591.3 532.3l1.1 2.1h-2.3zM588.1 539.3l1.1 2.1h-2.3zM588.3 524.7l1.1 2.1h-2.3zM585.4 522.2l1.1 2.1h-2.3zM599.7 522.2l1.1 2.1h-2.3zM586.3 534.1l1.1 2.1h-2.3zM587.6 520.5l1.1 2.1h-2.3zM589.9 531.9l1.1 2.1h-2.3zM584.7 539l1.1 2.1h-2.3zM586.7 537.9l1.1 2.1h-2.3zM589.9 535.5l1.1 2.1h-2.3zM593 519l1.1 2.1h-2.3zM592.1 529.5l1.1 2.1h-2.3zM589.2 524.8l1.1 2.1h-2.3zM594.6 531.6l1.1 2.1h-2.3zM595.9 522.5l1.1 2.1h-2.3zM587.3 522.1l1.1 2.1h-2.3zM586.9 542.5l1.1 2.1h-2.3zM593.7 540.8l1.1 2.1h-2.3zM589.9 521.2l1.1 2.1h-2.3zM597.4 539.4l1.1 2.1h-2.3zM582.8 520.4l1.1 2.1h-2.3zM592.2 527.2l1.1 2.1h-2.3zM588.8 543.6l1.1 2.1h-2.3zM586.4 542.3l1.1 2.1h-2.3zM598 530.4l1.1 2.1h-2.3zM586.5 536.3l1.1 2.1h-2.3zM596.6 528.3l1.1 2.1h-2.3zM597.8 540l1.1 2.1h-2.3zM599.8 526.6l1.1 2.1h-2.3zM584.7 523.9l1.1 2.1h-2.3zM585.4 522.4l1.1 2.1h-2.3zM584.1 534.5l1.1 2.1h-2.3zM588.3 532.7l1.1 2.1h-2.3zM598.7 541.3l1.1 2.1h-2.3zM594.1 522.4l1.1 2.1h-2.3zM585.4 538.9l1.1 2.1h-2.3zM584.5 542.3l1.1 2.1h-2.3zM595.9 537.4l1.1 2.1h-2.3zM593.7 521.6l1.1 2.1h-2.3zM582.6 522.6l1.1 2.1h-2.3zM593.1 520.9l1.1 2.1h-2.3zM586 527.1l1.1 2.1h-2.3zM587.8 537.7l1.1 2.1h-2.3zM584.4 522.4l1.1 2.1h-2.3zM600.2 530l1.1 2.1h-2.3zM590.7 519.8l1.1 2.1h-2.3zM593.6 535.7l1.1 2.1h-2.3zM586.2 521.2l1.1 2.1h-2.3zM589.3 538.6l1.1 2.1h-2.3zM594.1 534.1l1.1 2.1h-2.3zM595.9 523.5l1.1 2.1h-2.3zM598.7 536.2l1.1 2.1h-2.3zM587 527.5l1.1 2.1h-2.3zM586.9 531.8l1.1 2.1h-2.3zM589.8 532.7l1.1 2.1h-2.3zM588.1 525.5l1.1 2.1h-2.3zM597.2 529.2l1.1 2.1h-2.3zM589.2 538.4l1.1 2.1h-2.3zM589.2 540.4l1.1 2.1h-2.3zM591.5 540l1.1 2.1h-2.3zM592.6 532.9l1.1 2.1h-2.3zM588.9 540.6l1.1 2.1h-2.3zM582.8 522.3l1.1 2.1h-2.3zM595.7 543.3l1.1 2.1h-2.3zM584.6 519.9l1.1 2.1h-2.3zM597.8 541.2l1.1 2.1h-2.3zM587 538.5l1.1 2.1h-2.3zM587.2 528.5l1.1 2.1h-2.3zM592.1 538.5l1.1 2.1h-2.3zM598.8 542.7l1.1 2.1h-2.3zM589.4 522.8l1.1 2.1h-2.3zM591.2 535l1.1 2.1h-2.3zM590 518.9l1.1 2.1h-2.3zM584.6 535.3l1.1 2.1h-2.3zM587.7 520.3l1.1 2.1h-2.3zM598.9 535.4l1.1 2.1h-2.3zM599.3 519.4l1.1 2.1h-2.3zM587.1 528.8l1.1 2.1h-2.3zM599 540.4l1.1 2.1h-2.3zM582.9 526.4l1.1 2.1h-2.3zM591.2 558.1l1.1 2.1h-2.3zM596 544.3l1.1 2.1h-2.3zM584.5 552.3l1.1 2.1h-2.3zM591.2 552l1.1 2.1h-2.3zM592 552.4l1.1 2.1h-2.3zM586.1 562.6l1.1 2.1h-2.3zM594 550.8l1.1 2.1h-2.3zM587.1 544.1l1.1 2.1h-2.3zM592.8 545.9l1.1 2.1h-2.3zM592.8 558.7l1.1 2.1h-2.3zM595.9 546.3l1.1 2.1h-2.3zM599.2 544.9l1.1 2.1h-2.3zM599.1 547.6l1.1 2.1h-2.3zM591.5 563.3l1.1 2.1h-2.3zM587.3 552.6l1.1 2.1h-2.3zM586.9 546.7l1.1 2.1h-2.3zM596.6 556.9l1.1 2.1h-2.3zM596.1 551.3l1.1 2.1h-2.3zM596.7 554.8l1.1 2.1h-2.3zM597.4 563.7l1.1 2.1h-2.3zM592.7 557.7l1.1 2.1h-2.3zM598.6 554.4l1.1 2.1h-2.3zM594.3 563.7l1.1 2.1h-2.3zM593.8 553.9l1.1 2.1h-2.3zM597.5 552.8l1.1 2.1h-2.3zM594.2 560.8l1.1 2.1h-2.3zM596.3 562.9l1.1 2.1h-2.3zM599.2 558.1l1.1 2.1h-2.3zM589.6 551l1.1 2.1h-2.3zM596 551.8l1.1 2.1h-2.3zM587.9 543.9l1.1 2.1h-2.3zM591.3 548.5l1.1 2.1h-2.3zM598.1 559.3l1.1 2.1h-2.3zM599.9 553.5l1.1 2.1h-2.3zM599.5 560.9l1.1 2.1h-2.3zM596.1 557.1l1.1 2.1h-2.3zM597.7 555.1l1.1 2.1h-2.3zM598.3 559.9l1.1 2.1h-2.3zM593.5 553.7l1.1 2.1h-2.3zM586.9 557.1l1.1 2.1h-2.3zM582.9 553.5l1.1 2.1h-2.3zM596.1 550.8l1.1 2.1h-2.3zM596.1 559l1.1 2.1h-2.3zM595.6 545.2l1.1 2.1h-2.3zM592.9 563.3l1.1 2.1h-2.3zM594.3 563l1.1 2.1h-2.3zM595.4 560.3l1.1 2.1h-2.3zM592.1 553.1l1.1 2.1h-2.3zM594.3 552.7l1.1 2.1h-2.3zM586.6 551.8l1.1 2.1h-2.3zM592.1 552.9l1.1 2.1h-2.3zM593.8 548.2l1.1 2.1h-2.3zM592.7 559.7l1.1 2.1h-2.3zM587.2 561.4l1.1 2.1h-2.3zM584.9 553.8l1.1 2.1h-2.3zM594.2 560.8l1.1 2.1h-2.3zM584.6 549.6l1.1 2.1h-2.3zM596.7 560.9l1.1 2.1h-2.3zM585.8 563.2l1.1 2.1h-2.3zM596.3 557.1l1.1 2.1h-2.3zM588.9 563l1.1 2.1h-2.3zM598.6 558.3l1.1 2.1h-2.3zM586.6 557.6l1.1 2.1h-2.3zM585.4 553.2l1.1 2.1h-2.3zM594.6 544.9l1.1 2.1h-2.3zM596.4 546.2l1.1 2.1h-2.3zM588.8 560.3l1.1 2.1h-2.3zM591 547.4l1.1 2.1h-2.3zM594.4 557.5l1.1 2.1h-2.3zM587.9 546.9l1.1 2.1h-2.3zM589.5 558.8l1.1 2.1h-2.3zM592.7 562.9l1.1 2.1h-2.3zM588 556.1l1.1 2.1h-2.3zM585.2 544.5l1.1 2.1h-2.3zM598.8 558.5l1.1 2.1h-2.3zM584.8 553.3l1.1 2.1h-2.3zM600.2 561.1l1.1 2.1h-2.3zM597.6 546.7l1.1 2.1h-2.3zM590.6 549.4l1.1 2.1h-2.3zM597.9 562.1l1.1 2.1h-2.3zM583.7 560.5l1.1 2.1h-2.3zM592.6 561.9l1.1 2.1h-2.3zM588.9 554.2l1.1 2.1h-2.3zM588 557.2l1.1 2.1h-2.3zM598.5 562.4l1.1 2.1h-2.3zM583.3 556.9l1.1 2.1h-2.3zM597.9 545.5l1.1 2.1h-2.3zM584 546.8l1.1 2.1h-2.3zM594.7 543.8l1.1 2.1h-2.3zM587.7 546l1.1 2.1h-2.3zM592 544.3l1.1 2.1h-2.3zM599.1 551.4l1.1 2.1h-2.3zM596.8 556.1l1.1 2.1h-2.3zM584.4 561l1.1 2.1h-2.3zM588 551.9l1.1 2.1h-2.3zM591.3 547l1.1 2.1h-2.3zM595.4 561.9l1.1 2.1h-2.3zM582.7 562.1l1.1 2.1h-2.3zM598 563.3l1.1 2.1h-2.3zM597.6 544.2l1.1 2.1h-2.3zM599.6 555.6l1.1 2.1h-2.3zM586.2 556.4l1.1 2.1h-2.3zM586.4 554.4l1.1 2.1h-2.3zM597.4 547.5l1.1 2.1h-2.3zM591.8 562.2l1.1 2.1h-2.3zM587 554.5l1.1 2.1h-2.3zM582.9 544.5l1.1 2.1h-2.3zM586.5 550.7l1.1 2.1h-2.3zM594.6 558.3l1.1 2.1h-2.3zM595.6 547.8l1.1 2.1h-2.3zM588.9 559.3l1.1 2.1h-2.3zM598.9 547.9l1.1 2.1h-2.3zM591.7 552.4l1.1 2.1h-2.3zM591.8 549.6l1.1 2.1h-2.3zM589.6 546.3l1.1 2.1h-2.3zM589.8 561.4l1.1 2.1h-2.3zM589 550.6l1.1 2.1h-2.3zM597.3 558.8l1.1 2.1h-2.3zM590.4 561.6l1.1 2.1h-2.3zM586.7 549.4l1.1 2.1h-2.3zM590.3 543.9l1.1 2.1h-2.3zM599.1 554.2l1.1 2.1h-2.3zM594 548.4l1.1 2.1h-2.3zM584.5 561.2l1.1 2.1h-2.3zM590.1 547l1.1 2.1h-2.3zM590.9 558.2l1.1 2.1h-2.3zM582.8 544.3l1.1 2.1h-2.3zM599.7 549.2l1.1 2.1h-2.3zM598.9 547.7l1.1 2.1h-2.3zM584.4 560.8l1.1 2.1h-2.3zM592.4 555.7l1.1 2.1h-2.3zM588.2 556.9l1.1 2.1h-2.3zM586.4 545.4l1.1 2.1h-2.3zM587.5 549.9l1.1 2.1h-2.3zM583.6 561.6l1.1 2.1h-2.3zM594.9 556l1.1 2.1h-2.3zM589.1 558.9l1.1 2.1h-2.3zM595.1 553.8l1.1 2.1h-2.3zM597.1 547.8l1.1 2.1h-2.3zM592.8 562l1.1 2.1h-2.3zM588.7 549l1.1 2.1h-2.3zM585.1 547.1l1.1 2.1h-2.3zM594.2 556.7l1.1 2.1h-2.3zM594.6 545.5l1.1 2.1h-2.3zM596.5 559l1.1 2.1h-2.3zM585.1 558l1.1 2.1h-2.3zM583.4 551.4l1.1 2.1h-2.3zM598.2 554l1.1 2.1h-2.3zM593.4 553.5l1.1 2.1h-2.3zM584.3 545.2l1.1 2.1h-2.3zM595.2 545.3l1.1 2.1h-2.3zM583.6 550.8l1.1 2.1h-2.3zM593.9 543.9l1.1 2.1h-2.3zM592.5 547.5l1.1 2.1h-2.3zM595.3 551.1l1.1 2.1h-2.3zM584.3 556.3l1.1 2.1h-2.3zM598.8 554.1l1.1 2.1h-2.3zM599.3 547.2l1.1 2.1h-2.3zM600.1 558.9l1.1 2.1h-2.3zM596.2 559.6l1.1 2.1h-2.3zM588.1 557l1.1 2.1h-2.3zM600 557.5l1.1 2.1h-2.3zM593.5 548.8l1.1 2.1h-2.3zM595.4 560.5l1.1 2.1h-2.3zM594.4 555.4l1.1 2.1h-2.3zM586.3 547.3l1.1 2.1h-2.3zM597.8 557.4l1.1 2.1h-2.3zM594.1 556.3l1.1 2.1h-2.3zM586.5 555.1l1.1 2.1h-2.3zM589.3 553.2l1.1 2.1h-2.3zM585.2 559.1l1.1 2.1h-2.3zM590.3 558.3l1.1 2.1h-2.3zM600.2 555.5l1.1 2.1h-2.3zM589.4 545.1l1.1 2.1h-2.3zM589.6 548.4l1.1 2.1h-2.3zM596.9 563.3l1.1 2.1h-2.3zM584.1 551.8l1.1 2.1h-2.3zM584.7 556.4l1.1 2.1h-2.3zM595.9 546.4l1.1 2.1h-2.3zM584.9 555.2l1.1 2.1h-2.3zM593.5 555.9l1.1 2.1h-2.3zM597.1 559l1.1 2.1h-2.3zM592.6 563.1l1.1 2.1h-2.3zM584 552.9l1.1 2.1h-2.3zM586.3 550l1.1 2.1h-2.3zM592.2 546.9l1.1 2.1h-2.3zM599.6 550.4l1.1 2.1h-2.3zM594.2 552.6l1.1 2.1h-2.3zM595 563l1.1 2.1h-2.3zM593.2 554l1.1 2.1h-2.3zM588.4 557.2l1.1 2.1h-2.3zM593.4 558.4l1.1 2.1h-2.3zM582.8 544l1.1 2.1h-2.3zM590 548.4l1.1 2.1h-2.3zM597.1 554.5l1.1 2.1h-2.3zM586.2 544.9l1.1 2.1h-2.3zM594.1 546.8l1.1 2.1h-2.3zM595.4 558.8l1.1 2.1h-2.3zM585.4 557.2l1.1 2.1h-2.3zM597.9 546.5l1.1 2.1h-2.3zM586.9 546.1l1.1 2.1h-2.3zM599.7 560.6l1.1 2.1h-2.3zM588.7 553.2l1.1 2.1h-2.3zM593.5 550.1l1.1 2.1h-2.3zM599.5 558.1l1.1 2.1h-2.3zM597.2 557.1l1.1 2.1h-2.3zM591.2 563.6l1.1 2.1h-2.3zM586.1 545.8l1.1 2.1h-2.3zM593.5 559.1l1.1 2.1h-2.3zM593.1 552.9l1.1 2.1h-2.3zM583.7 548.7l1.1 2.1h-2.3zM589.4 553.7l1.1 2.1h-2.3zM599 544.1l1.1 2.1h-2.3zM592 546.2l1.1 2.1h-2.3zM585.8 545.9l1.1 2.1h-2.3zM594.1 557.6l1.1 2.1h-2.3zM590.7 557.9l1.1 2.1h-2.3zM598.9 548.6l1.1 2.1h-2.3zM591.3 549.9l1.1 2.1h-2.3zM583.1 559.2l1.1 2.1h-2.3zM585.5 551.5l1.1 2.1h-2.3zM585.7 550.7l1.1 2.1h-2.3zM599.5 562.7l1.1 2.1h-2.3zM589 554.6l1.1 2.1h-2.3zM588.8 554.5l1.1 2.1h-2.3zM600 556l1.1 2.1h-2.3zM586.3 544.6l1.1 2.1h-2.3zM593.7 551.7l1.1 2.1h-2.3zM599.5 559.5l1.1 2.1h-2.3zM598.8 556.8l1.1 2.1h-2.3zM585.5 561.5l1.1 2.1h-2.3zM591 549.9l1.1 2.1h-2.3zM587.1 553.3l1.1 2.1h-2.3zM595.1 548.4l1.1 2.1h-2.3zM587 547.4l1.1 2.1h-2.3zM585.7 545.6l1.1 2.1h-2.3zM587.4 547.7l1.1 2.1h-2.3zM584.9 547l1.1 2.1h-2.3zM595.4 552.5l1.1 2.1h-2.3zM587.6 552l1.1 2.1h-2.3zM589.7 559l1.1 2.1h-2.3zM587.5 559.3l1.1 2.1h-2.3zM589.4 554.6l1.1 2.1h-2.3zM588 556.9l1.1 2.1h-2.3zM588.9 553.1l1.1 2.1h-2.3zM595.2 549.9l1.1 2.1h-2.3zM585.7 553.8l1.1 2.1h-2.3zM594.8 556.4l1.1 2.1h-2.3zM588.8 562.8l1.1 2.1h-2.3zM584.3 560.1l1.1 2.1h-2.3zM584.7 545.1l1.1 2.1h-2.3zM598.6 556.5l1.1 2.1h-2.3zM583.3 545.6l1.1 2.1h-2.3zM587.5 556.2l1.1 2.1h-2.3zM598 560.7l1.1 2.1h-2.3zM584 557.7l1.1 2.1h-2.3zM586.4 546.1l1.1 2.1h-2.3zM587.4 552.2l1.1 2.1h-2.3zM597.5 547.6l1.1 2.1h-2.3zM584.7 557l1.1 2.1h-2.3zM599.4 558l1.1 2.1h-2.3zM584.7 558.5l1.1 2.1h-2.3zM592.7 550.9l1.1 2.1h-2.3zM596.4 555.7l1.1 2.1h-2.3zM592.5 547.9l1.1 2.1h-2.3zM591.6 562.3l1.1 2.1h-2.3zM590.4 562.5l1.1 2.1h-2.3zM587.1 544.3l1.1 2.1h-2.3zM600.3 555l1.1 2.1h-2.3zM589.8 558.1l1.1 2.1h-2.3zM594 548.4l1.1 2.1h-2.3zM593 544.4l1.1 2.1h-2.3zM599.7 543.8l1.1 2.1h-2.3zM586.9 557.9l1.1 2.1h-2.3zM585.4 544l1.1 2.1h-2.3zM598.6 551.5l1.1 2.1h-2.3zM591.7 559.7l1.1 2.1h-2.3zM594 544.8l1.1 2.1h-2.3zM593.7 557.9l1.1 2.1h-2.3zM596.5 552.4l1.1 2.1h-2.3zM597.5 551.5l1.1 2.1h-2.3zM595.1 553.4l1.1 2.1h-2.3zM582.7 550.8l1.1 2.1h-2.3zM597.5 561l1.1 2.1h-2.3zM583.4 557.1l1.1 2.1h-2.3zM597.9 551.5l1.1 2.1h-2.3zM582.6 546.1l1.1 2.1h-2.3zM596.4 553.8l1.1 2.1h-2.3zM594 563.7l1.1 2.1h-2.3zM583.1 561.6l1.1 2.1h-2.3zM596 545.1l1.1 2.1h-2.3zM592.9 550.9l1.1 2.1h-2.3zM584.8 553.1l1.1 2.1h-2.3zM598.2 551.9l1.1 2.1h-2.3zM593.1 546l1.1 2.1h-2.3zM590.8 547.5l1.1 2.1h-2.3zM599.4 554.4l1.1 2.1h-2.3zM586.2 558.2l1.1 2.1h-2.3zM585.7 558.1l1.1 2.1h-2.3zM598.5 557.2l1.1 2.1h-2.3zM585.5 557.2l1.1 2.1h-2.3zM597.2 543.9l1.1 2.1h-2.3zM586.3 548.1l1.1 2.1h-2.3zM597.1 550.5l1.1 2.1h-2.3zM589.9 548.9l1.1 2.1h-2.3zM593.6 551.5l1.1 2.1h-2.3zM593.4 551.7l1.1 2.1h-2.3zM589.6 550.5l1.1 2.1h-2.3zM591.8 543.9l1.1 2.1h-2.3zM594.2 561l1.1 2.1h-2.3zM585 562.9l1.1 2.1h-2.3zM598.9 556.1l1.1 2.1h-2.3zM597.3 549.2l1.1 2.1h-2.3zM586.3 552.7l1.1 2.1h-2.3zM586.6 562l1.1 2.1h-2.3zM589.6 555.7l1.1 2.1h-2.3zM596.3 557.7l1.1 2.1h-2.3zM591.8 557.7l1.1 2.1h-2.3zM588.2 563.4l1.1 2.1h-2.3zM596.3 556.8l1.1 2.1h-2.3zM586.1 545.9l1.1 2.1h-2.3zM595.2 553.8l1.1 2.1h-2.3zM596 562.2l1.1 2.1h-2.3zM584.4 546.3l1.1 2.1h-2.3zM592.7 544.8l1.1 2.1h-2.3zM593.2 544.7l1.1 2.1h-2.3zM599.9 545.1l1.1 2.1h-2.3zM587.9 547l1.1 2.1h-2.3zM590.8 559.2l1.1 2.1h-2.3zM599.3 555.7l1.1 2.1h-2.3zM584.9 558.4l1.1 2.1h-2.3zM598.6 554.9l1.1 2.1h-2.3zM589.1 550.8l1.1 2.1h-2.3zM588.7 559.5l1.1 2.1h-2.3zM600.3 547.1l1.1 2.1h-2.3zM589.5 550.9l1.1 2.1h-2.3zM587 552l1.1 2.1h-2.3zM586.3 557.3l1.1 2.1h-2.3zM595 559l1.1 2.1h-2.3zM593.9 555.1l1.1 2.1h-2.3zM586.9 555.9l1.1 2.1h-2.3zM591.4 549.4l1.1 2.1h-2.3zM587.7 555.6l1.1 2.1h-2.3zM597.5 560.6l1.1 2.1h-2.3zM589 552.5l1.1 2.1h-2.3zM593.6 558.8l1.1 2.1h-2.3zM598.9 553.9l1.1 2.1h-2.3zM586.9 554l1.1 2.1h-2.3zM599.5 555.9l1.1 2.1h-2.3zM591.2 546.5l1.1 2.1h-2.3zM594 548l1.1 2.1h-2.3zM587.4 547.2l1.1 2.1h-2.3zM595 554.4l1.1 2.1h-2.3zM595.5 557.1l1.1 2.1h-2.3zM593.1 557.9l1.1 2.1h-2.3zM598 547.9l1.1 2.1h-2.3zM591 550.4l1.1 2.1h-2.3zM582.9 546.7l1.1 2.1h-2.3zM598.9 556.8l1.1 2.1h-2.3zM592.7 552.2l1.1 2.1h-2.3zM593.5 549.2l1.1 2.1h-2.3zM593.3 548.2l1.1 2.1h-2.3zM583.3 562.7l1.1 2.1h-2.3zM587.7 553.4l1.1 2.1h-2.3zM584.2 563.6l1.1 2.1h-2.3zM594.2 550.2l1.1 2.1h-2.3zM597.8 548.1l1.1 2.1h-2.3zM594.4 558.1l1.1 2.1h-2.3zM597.1 562l1.1 2.1h-2.3zM588.5 547l1.1 2.1h-2.3zM583.2 561l1.1 2.1h-2.3zM589.9 555.5l1.1 2.1h-2.3zM585.6 561.8l1.1 2.1h-2.3zM588 562.7l1.1 2.1h-2.3zM586.9 552.3l1.1 2.1h-2.3zM585.8 562.6l1.1 2.1h-2.3zM594.8 547.3l1.1 2.1h-2.3zM593.2 552.6l1.1 2.1h-2.3zM597.2 552.6l1.1 2.1h-2.3zM600.1 548.6l1.1 2.1h-2.3zM597.5 566.4l1.1 2.1h-2.3zM582.8 580l1.1 2.1h-2.3zM596.8 576.7l1.1 2.1h-2.3zM599.9 572.7l1.1 2.1h-2.3zM589.8 580.7l1.1 2.1h-2.3zM590.4 571.7l1.1 2.1h-2.3zM599.6 562.3l1.1 2.1h-2.3zM589.8 564.2l1.1 2.1h-2.3zM589.3 567.8l1.1 2.1h-2.3zM597.9 575.3l1.1 2.1h-2.3zM591 572.8l1.1 2.1h-2.3zM594.1 575.1l1.1 2.1h-2.3zM587.7 562.1l1.1 2.1h-2.3zM594.7 566.6l1.1 2.1h-2.3zM589.1 572.6l1.1 2.1h-2.3zM596.5 574.5l1.1 2.1h-2.3zM591.4 570.2l1.1 2.1h-2.3zM599 566l1.1 2.1h-2.3zM592.3 567.8l1.1 2.1h-2.3zM597.9 576.6l1.1 2.1h-2.3zM590.4 575.7l1.1 2.1h-2.3zM594.5 566.6l1.1 2.1h-2.3zM587.4 580.3l1.1 2.1h-2.3zM593 562.6l1.1 2.1h-2.3zM594.4 566.3l1.1 2.1h-2.3zM586 570.3l1.1 2.1h-2.3zM592.3 577.4l1.1 2.1h-2.3zM599 572.8l1.1 2.1h-2.3zM586.2 574.9l1.1 2.1h-2.3zM591.3 580.3l1.1 2.1h-2.3zM597.5 568.9l1.1 2.1h-2.3zM590.2 565.3l1.1 2.1h-2.3zM583.1 569.7l1.1 2.1h-2.3zM592 572.7l1.1 2.1h-2.3zM590.8 564.4l1.1 2.1h-2.3zM599.1 562.5l1.1 2.1h-2.3zM594.4 575.9l1.1 2.1h-2.3zM596.4 581l1.1 2.1h-2.3zM589.2 579.9l1.1 2.1h-2.3zM598.6 569.1l1.1 2.1h-2.3zM597.3 570.6l1.1 2.1h-2.3zM584.2 577.9l1.1 2.1h-2.3zM594.4 580.9l1.1 2.1h-2.3zM598.7 568.7l1.1 2.1h-2.3zM594.2 580.3l1.1 2.1h-2.3zM599.9 575.4l1.1 2.1h-2.3zM587.2 564.6l1.1 2.1h-2.3zM593.1 570.5l1.1 2.1h-2.3zM592.1 561.8l1.1 2.1h-2.3zM587.9 569.7l1.1 2.1h-2.3zM596.5 571.9l1.1 2.1h-2.3zM590.3 577.3l1.1 2.1h-2.3zM594.2 568.2l1.1 2.1h-2.3zM596.5 574.4l1.1 2.1h-2.3zM595.5 574.7l1.1 2.1h-2.3zM584.4 572l1.1 2.1h-2.3zM583.6 573.7l1.1 2.1h-2.3zM597.2 570.7l1.1 2.1h-2.3zM594.2 573.6l1.1 2.1h-2.3zM585.2 570.7l1.1 2.1h-2.3zM584.9 579.5l1.1 2.1h-2.3zM591.5 563.9l1.1 2.1h-2.3zM585.8 578.6l1.1 2.1h-2.3zM599.2 576.3l1.1 2.1h-2.3zM586.6 562l1.1 2.1h-2.3zM599.4 575.8l1.1 2.1h-2.3zM595.3 568.8l1.1 2.1h-2.3zM592.5 571.6l1.1 2.1h-2.3zM594.5 571.8l1.1 2.1h-2.3zM594.9 576.1l1.1 2.1h-2.3zM587.7 571.2l1.1 2.1h-2.3zM591.3 574.1l1.1 2.1h-2.3zM583.8 566l1.1 2.1h-2.3zM583.5 563.1l1.1 2.1h-2.3zM599.4 574.8l1.1 2.1h-2.3zM597.7 581l1.1 2.1h-2.3zM596 563.3l1.1 2.1h-2.3zM584.5 579.5l1.1 2.1h-2.3zM593.7 569.2l1.1 2.1h-2.3zM595.3 574.5l1.1 2.1h-2.3zM590.3 566.9l1.1 2.1h-2.3zM589.3 575.2l1.1 2.1h-2.3zM595.5 570.2l1.1 2.1h-2.3zM582.8 577.2l1.1 2.1h-2.3zM591 567.1l1.1 2.1h-2.3zM587.2 568.2l1.1 2.1h-2.3zM590.5 573.9l1.1 2.1h-2.3zM592.4 563.8l1.1 2.1h-2.3zM590.1 580.8l1.1 2.1h-2.3zM598.2 573.6l1.1 2.1h-2.3zM598.3 580.7l1.1 2.1h-2.3zM596.1 565.2l1.1 2.1h-2.3zM596.7 575.6l1.1 2.1h-2.3zM591.5 565.7l1.1 2.1h-2.3zM587.4 563.4l1.1 2.1h-2.3zM597.1 570.4l1.1 2.1h-2.3zM584.7 570.9l1.1 2.1h-2.3zM593.2 572.6l1.1 2.1h-2.3zM593.9 570.8l1.1 2.1h-2.3zM584.5 565.6l1.1 2.1h-2.3zM586.2 575l1.1 2.1h-2.3zM594.6 566.9l1.1 2.1h-2.3zM597.9 567.4l1.1 2.1h-2.3zM589.6 577l1.1 2.1h-2.3zM592.1 575l1.1 2.1h-2.3zM595.2 575.9l1.1 2.1h-2.3zM593 579.7l1.1 2.1h-2.3zM590.8 578.4l1.1 2.1h-2.3zM594 566l1.1 2.1h-2.3zM595.2 580.8l1.1 2.1h-2.3zM596.9 571.9l1.1 2.1h-2.3zM592.6 572.6l1.1 2.1h-2.3zM594.4 567.2l1.1 2.1h-2.3zM586.1 569.3l1.1 2.1h-2.3zM585.5 572.6l1.1 2.1h-2.3zM597 562.4l1.1 2.1h-2.3zM586.6 575.8l1.1 2.1h-2.3zM590.4 568.5l1.1 2.1h-2.3zM598.4 575.2l1.1 2.1h-2.3zM585.2 576l1.1 2.1h-2.3zM594.7 573.8l1.1 2.1h-2.3zM587 563.2l1.1 2.1h-2.3zM593.7 572.7l1.1 2.1h-2.3zM597.1 568.7l1.1 2.1h-2.3zM597.2 575.7l1.1 2.1h-2.3zM596.4 575.6l1.1 2.1h-2.3zM591.8 571.5l1.1 2.1h-2.3zM592.3 576l1.1 2.1h-2.3zM585.7 564.5l1.1 2.1h-2.3zM584.7 577.7l1.1 2.1h-2.3zM595.9 580.6l1.1 2.1h-2.3zM583.5 579.3l1.1 2.1h-2.3zM599.2 577.6l1.1 2.1h-2.3zM585.9 569.6l1.1 2.1h-2.3zM595.4 579.9l1.1 2.1h-2.3zM590.6 572.7l1.1 2.1h-2.3zM593.5 565.9l1.1 2.1h-2.3zM596.1 572.3l1.1 2.1h-2.3zM587.9 578.3l1.1 2.1h-2.3zM597.3 575l1.1 2.1h-2.3zM596 578l1.1 2.1h-2.3zM592.9 562.4l1.1 2.1h-2.3zM592.8 580.7l1.1 2.1h-2.3zM589.4 579.7l1.1 2.1h-2.3zM599.9 571.5l1.1 2.1h-2.3zM589.5 579.7l1.1 2.1h-2.3zM586.9 565.3l1.1 2.1h-2.3zM592.5 568.9l1.1 2.1h-2.3zM599 565l1.1 2.1h-2.3zM599.1 574.8l1.1 2.1h-2.3zM592.9 579.6l1.1 2.1h-2.3zM589.6 579.9l1.1 2.1h-2.3zM595.9 563.3l1.1 2.1h-2.3zM592.6 576.7l1.1 2.1h-2.3zM597.2 572.6l1.1 2.1h-2.3zM597.4 566l1.1 2.1h-2.3zM595.1 579.2l1.1 2.1h-2.3zM599.9 572l1.1 2.1h-2.3zM594.1 562.6l1.1 2.1h-2.3zM600 569.1l1.1 2.1h-2.3zM594.2 575l1.1 2.1h-2.3zM586.5 578.3l1.1 2.1h-2.3zM593.8 565.6l1.1 2.1h-2.3zM596.3 573.3l1.1 2.1h-2.3zM590.1 563.4l1.1 2.1h-2.3zM585.6 579.5l1.1 2.1h-2.3zM588.9 561.9l1.1 2.1h-2.3zM596.5 580.7l1.1 2.1h-2.3zM586.3 572.8l1.1 2.1h-2.3zM582.8 576.4l1.1 2.1h-2.3zM598.2 574.8l1.1 2.1h-2.3zM599.9 571.6l1.1 2.1h-2.3zM598.1 570.3l1.1 2.1h-2.3zM596.9 565.8l1.1 2.1h-2.3zM595.6 567.3l1.1 2.1h-2.3zM592.4 563.6l1.1 2.1h-2.3zM594.2 567l1.1 2.1h-2.3zM595.9 574.5l1.1 2.1h-2.3zM588.4 572.5l1.1 2.1h-2.3zM586.3 572.8l1.1 2.1h-2.3zM595 572.1l1.1 2.1h-2.3zM593.3 580.2l1.1 2.1h-2.3zM600.2 578.3l1.1 2.1h-2.3zM590 566.9l1.1 2.1h-2.3zM590 572.6l1.1 2.1h-2.3zM584.8 580.6l1.1 2.1h-2.3zM582.9 567l1.1 2.1h-2.3zM585.1 575.4l1.1 2.1h-2.3zM593.1 574.4l1.1 2.1h-2.3zM599.8 574.8l1.1 2.1h-2.3zM584.6 572.6l1.1 2.1h-2.3zM585.4 576.2l1.1 2.1h-2.3zM594.7 569.1l1.1 2.1h-2.3zM588 580l1.1 2.1h-2.3zM583.4 572.8l1.1 2.1h-2.3zM598.4 568.3l1.1 2.1h-2.3zM585.3 574.2l1.1 2.1h-2.3zM590.4 575.1l1.1 2.1h-2.3zM596 579.7l1.1 2.1h-2.3zM596.5 574.1l1.1 2.1h-2.3zM599.6 571.9l1.1 2.1h-2.3zM593.1 568.6l1.1 2.1h-2.3zM585.2 570l1.1 2.1h-2.3zM584 567.3l1.1 2.1h-2.3zM594 573.8l1.1 2.1h-2.3zM592.1 578.5l1.1 2.1h-2.3zM587 573.3l1.1 2.1h-2.3zM585.5 565.7l1.1 2.1h-2.3zM588.8 562.4l1.1 2.1h-2.3zM587.7 578.9l1.1 2.1h-2.3zM588.9 567.5l1.1 2.1h-2.3zM588.9 575.2l1.1 2.1h-2.3zM596 580.2l1.1 2.1h-2.3zM590.8 580.1l1.1 2.1h-2.3zM597.7 572.6l1.1 2.1h-2.3zM591.5 579.5l1.1 2.1h-2.3zM587.8 569.6l1.1 2.1h-2.3zM599.1 580.1l1.1 2.1h-2.3zM594.2 575l1.1 2.1h-2.3zM597.6 563.3l1.1 2.1h-2.3zM586.7 577.6l1.1 2.1h-2.3zM599.9 564.9l1.1 2.1h-2.3zM593.9 581.2l1.1 2.1h-2.3zM589.3 562.7l1.1 2.1h-2.3zM587.1 576.5l1.1 2.1h-2.3zM584.4 564.7l1.1 2.1h-2.3zM583.2 572.3l1.1 2.1h-2.3zM586.1 569l1.1 2.1h-2.3zM588.1 578.8l1.1 2.1h-2.3zM592 567.1l1.1 2.1h-2.3zM589.7 575.8l1.1 2.1h-2.3zM583.4 580.1l1.1 2.1h-2.3zM585.2 563l1.1 2.1h-2.3zM582.9 575.7l1.1 2.1h-2.3zM583.3 563.4l1.1 2.1h-2.3zM587.9 576.9l1.1 2.1h-2.3zM594 578.5l1.1 2.1h-2.3zM585.3 564.5l1.1 2.1h-2.3zM598.3 579l1.1 2.1h-2.3zM600.2 570.3l1.1 2.1h-2.3zM593.5 567.8l1.1 2.1h-2.3zM583.5 580.6l1.1 2.1h-2.3zM585.8 569.2l1.1 2.1h-2.3zM591.7 565.8l1.1 2.1h-2.3zM599.2 568.2l1.1 2.1h-2.3zM600.1 579.4l1.1 2.1h-2.3zM595.7 580.9l1.1 2.1h-2.3zM598.4 570.6l1.1 2.1h-2.3zM584.3 571.4l1.1 2.1h-2.3zM591.6 573.4l1.1 2.1h-2.3zM588.5 429.4l1.1 2.1h-2.3zM591 446.4l1.1 2.1h-2.3zM592.5 464.2l1.1 2.1h-2.3zM585.3 488.5l1.1 2.1h-2.3zM94.4 805.6l1.1 2.1h-2.3zM93.2 812.9l1.1 2.1h-2.3zM98.5 804.9l1.1 2.1h-2.3zM94.1 808.2l1.1 2.1h-2.3zM88.7 809.8l1.1 2.1h-2.3zM93.9 795.7l1.1 2.1h-2.3zM88.1 805.4l1.1 2.1h-2.3zM89.4 812.3l1.1 2.1h-2.3zM93.4 810.2l1.1 2.1h-2.3zM93.1 812.2l1.1 2.1h-2.3zM88.6 797l1.1 2.1h-2.3zM91.7 809.3l1.1 2.1h-2.3zM91.1 799.3l1.1 2.1h-2.3zM91.1 811.3l1.1 2.1h-2.3zM92.9 809.4l1.1 2.1h-2.3zM88.2 801.2l1.1 2.1h-2.3zM92.5 814.6l1.1 2.1h-2.3zM99 819.6l1.1 2.1h-2.3zM93.7 831.6l1.1 2.1h-2.3zM98.4 837.2l1.1 2.1h-2.3zM92.8 832.6l1.1 2.1h-2.3zM99.5 815.7l1.1 2.1h-2.3zM93.2 834.4l1.1 2.1h-2.3zM90.5 834.2l1.1 2.1h-2.3zM89.5 834.8l1.1 2.1h-2.3zM88.2 831.9l1.1 2.1h-2.3zM88.7 820.3l1.1 2.1h-2.3zM95.7 826.1l1.1 2.1h-2.3zM91.8 824.7l1.1 2.1h-2.3zM98.1 814.6l1.1 2.1h-2.3zM89.8 827.3l1.1 2.1h-2.3zM98.8 820.4l1.1 2.1h-2.3zM89.7 837.6l1.1 2.1h-2.3zM90.7 830.4l1.1 2.1h-2.3zM91.5 834l1.1 2.1h-2.3zM90.6 814.5l1.1 2.1h-2.3zM92.5 831.5l1.1 2.1h-2.3zM97.2 833.8l1.1 2.1h-2.3zM88.2 825.3l1.1 2.1h-2.3zM90.4 820.1l1.1 2.1h-2.3zM88 825.9l1.1 2.1h-2.3zM96.9 827.5l1.1 2.1h-2.3zM88.8 824.6l1.1 2.1h-2.3zM93.6 821.7l1.1 2.1h-2.3zM98 830.5l1.1 2.1h-2.3zM91.2 836l1.1 2.1h-2.3zM88.8 820.5l1.1 2.1h-2.3zM90.6 835.8l1.1 2.1h-2.3zM98.9 815.1l1.1 2.1h-2.3zM88.5 830.9l1.1 2.1h-2.3zM98 822.3l1.1 2.1h-2.3zM88.8 826.9l1.1 2.1h-2.3zM89.4 822.6l1.1 2.1h-2.3zM96.8 815.8l1.1 2.1h-2.3zM95.2 817.9l1.1 2.1h-2.3zM91.3 838.4l1.1 2.1h-2.3zM96.2 851.4l1.1 2.1h-2.3zM98 841.4l1.1 2.1h-2.3zM98 854.6l1.1 2.1h-2.3zM97.9 849.1l1.1 2.1h-2.3zM94.9 855.8l1.1 2.1h-2.3zM99.9 849.5l1.1 2.1h-2.3zM99.1 849l1.1 2.1h-2.3zM86.5 854.2l1.1 2.1h-2.3zM88.1 849.2l1.1 2.1h-2.3zM100.5 840.3l1.1 2.1h-2.3zM95.9 849.8l1.1 2.1h-2.3zM88.4 844l1.1 2.1h-2.3zM99.4 850.2l1.1 2.1h-2.3zM87.6 856.7l1.1 2.1h-2.3zM94 849.7l1.1 2.1h-2.3zM91.9 853.7l1.1 2.1h-2.3zM90.5 845.1l1.1 2.1h-2.3zM89.8 839l1.1 2.1h-2.3zM87.6 839.6l1.1 2.1h-2.3zM91.7 839.1l1.1 2.1h-2.3zM87.8 842.7l1.1 2.1h-2.3zM95.3 843.6l1.1 2.1h-2.3zM90.9 844.5l1.1 2.1h-2.3zM97.3 850.5l1.1 2.1h-2.3zM99.8 852.2l1.1 2.1h-2.3zM99 852.6l1.1 2.1h-2.3zM96.9 852.3l1.1 2.1h-2.3zM97.5 854.1l1.1 2.1h-2.3zM87.7 851.7l1.1 2.1h-2.3zM100.3 847l1.1 2.1h-2.3zM94.6 846.2l1.1 2.1h-2.3zM94.1 840.2l1.1 2.1h-2.3zM96 839l1.1 2.1h-2.3zM89 854.2l1.1 2.1h-2.3zM93.1 841.4l1.1 2.1h-2.3zM88.1 854.3l1.1 2.1h-2.3zM99.5 845.9l1.1 2.1h-2.3zM93.5 839.8l1.1 2.1h-2.3zM88.2 853.7l1.1 2.1h-2.3zM100.2 851.6l1.1 2.1h-2.3zM94.7 856.7l1.1 2.1h-2.3zM97.1 848.5l1.1 2.1h-2.3zM97.8 855.5l1.1 2.1h-2.3zM96.3 847.9l1.1 2.1h-2.3zM92.7 843.4l1.1 2.1h-2.3zM90.4 846l1.1 2.1h-2.3zM87.1 850.6l1.1 2.1h-2.3zM95.3 854.8l1.1 2.1h-2.3zM87.9 853.4l1.1 2.1h-2.3zM91.6 855.5l1.1 2.1h-2.3zM99.1 848.4l1.1 2.1h-2.3zM99.3 847l1.1 2.1h-2.3zM98.1 848.2l1.1 2.1h-2.3zM89.1 855.5l1.1 2.1h-2.3zM99.8 845.3l1.1 2.1h-2.3zM88.4 839.8l1.1 2.1h-2.3zM99.5 845.8l1.1 2.1h-2.3zM97.1 850.4l1.1 2.1h-2.3zM100.2 853.7l1.1 2.1h-2.3zM100.4 855.7l1.1 2.1h-2.3zM87 864.1l1.1 2.1h-2.3zM94.2 861.1l1.1 2.1h-2.3zM92.4 869.6l1.1 2.1h-2.3zM89.7 861.1l1.1 2.1h-2.3zM93.8 861.4l1.1 2.1h-2.3zM96.4 864.7l1.1 2.1h-2.3zM91.2 858.7l1.1 2.1h-2.3zM90.2 863.1l1.1 2.1h-2.3zM99.8 858.7l1.1 2.1h-2.3zM96.2 863.1l1.1 2.1h-2.3zM90.1 869.4l1.1 2.1h-2.3zM87.6 869.6l1.1 2.1h-2.3zM91.5 870.2l1.1 2.1h-2.3zM101.1 866.9l1.1 2.1h-2.3zM99.2 867.2l1.1 2.1h-2.3zM88.5 862.7l1.1 2.1h-2.3zM95.3 869.3l1.1 2.1h-2.3zM84.9 858.6l1.1 2.1h-2.3zM100.5 859.1l1.1 2.1h-2.3zM101.1 858.4l1.1 2.1h-2.3zM88.6 862.5l1.1 2.1h-2.3zM90.8 857.6l1.1 2.1h-2.3zM90.1 866.6l1.1 2.1h-2.3zM88.1 859.3l1.1 2.1h-2.3zM96.7 866.4l1.1 2.1h-2.3zM91.4 864.6l1.1 2.1h-2.3zM84.9 866.4l1.1 2.1h-2.3zM88.6 866.6l1.1 2.1h-2.3zM96.3 867.7l1.1 2.1h-2.3zM97 863.4l1.1 2.1h-2.3zM85.1 864.7l1.1 2.1h-2.3zM94.4 860.3l1.1 2.1h-2.3zM95.9 863.8l1.1 2.1h-2.3zM95.9 858l1.1 2.1h-2.3zM96.1 870.1l1.1 2.1h-2.3zM98.3 869.7l1.1 2.1h-2.3zM90.6 857.8l1.1 2.1h-2.3zM99.6 856.9l1.1 2.1h-2.3zM92.5 862.3l1.1 2.1h-2.3zM85.9 864.1l1.1 2.1h-2.3zM96.1 863.4l1.1 2.1h-2.3zM90.8 861.5l1.1 2.1h-2.3zM95.8 865.5l1.1 2.1h-2.3zM91.3 862.3l1.1 2.1h-2.3zM93.5 862.4l1.1 2.1h-2.3zM94.5 857.2l1.1 2.1h-2.3zM97.1 865l1.1 2.1h-2.3zM90 857.9l1.1 2.1h-2.3zM96.4 868.8l1.1 2.1h-2.3zM88.9 863.4l1.1 2.1h-2.3zM98.5 861.7l1.1 2.1h-2.3zM88.9 866l1.1 2.1h-2.3zM86.1 869.1l1.1 2.1h-2.3zM85.5 859.1l1.1 2.1h-2.3zM95.2 862.4l1.1 2.1h-2.3zM90.4 870.4l1.1 2.1h-2.3zM94.8 868.8l1.1 2.1h-2.3zM90.2 862.2l1.1 2.1h-2.3zM92.5 861.8l1.1 2.1h-2.3zM99.9 868.2l1.1 2.1h-2.3zM100.8 857.9l1.1 2.1h-2.3zM85.6 858.4l1.1 2.1h-2.3zM101.3 864.7l1.1 2.1h-2.3zM93.6 864.7l1.1 2.1h-2.3zM97.6 864.7l1.1 2.1h-2.3zM100.9 867.5l1.1 2.1h-2.3zM88.1 869.1l1.1 2.1h-2.3zM91.5 862.3l1.1 2.1h-2.3zM100.2 861.3l1.1 2.1h-2.3zM93.8 868.6l1.1 2.1h-2.3zM100.4 860.2l1.1 2.1h-2.3zM99.3 869l1.1 2.1h-2.3zM102.1 866.6l1.1 2.1h-2.3zM96.3 868.6l1.1 2.1h-2.3zM86 865.7l1.1 2.1h-2.3zM100.5 858.2l1.1 2.1h-2.3zM88.1 866.7l1.1 2.1h-2.3zM87.6 863.7l1.1 2.1h-2.3zM91.2 859.3l1.1 2.1h-2.3zM88.4 858.2l1.1 2.1h-2.3zM87.3 860.4l1.1 2.1h-2.3zM95.9 858.5l1.1 2.1h-2.3zM100.6 858.6l1.1 2.1h-2.3zM89.4 868.5l1.1 2.1h-2.3zM91.3 870l1.1 2.1h-2.3zM95.9 870.7l1.1 2.1h-2.3zM90 864.6l1.1 2.1h-2.3zM93.4 864.7l1.1 2.1h-2.3zM100.6 857.6l1.1 2.1h-2.3zM86.9 858.4l1.1 2.1h-2.3zM94.1 867.5l1.1 2.1h-2.3zM88.5 864.7l1.1 2.1h-2.3zM98.2 864.7l1.1 2.1h-2.3zM88.5 867.3l1.1 2.1h-2.3zM98.9 868.1l1.1 2.1h-2.3zM91.8 866.7l1.1 2.1h-2.3zM101 856.9l1.1 2.1h-2.3zM91.1 864.4l1.1 2.1h-2.3zM93.4 868.4l1.1 2.1h-2.3zM86.7 868.2l1.1 2.1h-2.3zM89.6 870l1.1 2.1h-2.3zM92 864l1.1 2.1h-2.3zM100.3 864.1l1.1 2.1h-2.3zM95 857.1l1.1 2.1h-2.3zM98.9 863.9l1.1 2.1h-2.3zM99.6 864.6l1.1 2.1h-2.3zM86.4 869.6l1.1 2.1h-2.3zM90.3 869.1l1.1 2.1h-2.3zM99.2 857.6l1.1 2.1h-2.3zM97.9 858.7l1.1 2.1h-2.3zM94.6 862.1l1.1 2.1h-2.3zM91.8 867.7l1.1 2.1h-2.3zM93.5 859.1l1.1 2.1h-2.3zM85.1 867.6l1.1 2.1h-2.3zM87.1 865l1.1 2.1h-2.3zM91 869l1.1 2.1h-2.3zM87.3 861.5l1.1 2.1h-2.3zM88.8 862.4l1.1 2.1h-2.3zM98.8 857.6l1.1 2.1h-2.3zM98.1 864l1.1 2.1h-2.3zM97.5 867.6l1.1 2.1h-2.3zM94.6 863.9l1.1 2.1h-2.3zM100.8 864l1.1 2.1h-2.3zM88.8 869.6l1.1 2.1h-2.3zM95.6 867.5l1.1 2.1h-2.3zM92.1 861.1l1.1 2.1h-2.3zM101.1 870l1.1 2.1h-2.3zM90.8 866.9l1.1 2.1h-2.3zM89 861l1.1 2.1h-2.3zM98.1 859.7l1.1 2.1h-2.3zM98.9 866.2l1.1 2.1h-2.3zM97.3 863.8l1.1 2.1h-2.3zM98.4 865.1l1.1 2.1h-2.3zM88.2 858.5l1.1 2.1h-2.3zM95.3 867.5l1.1 2.1h-2.3zM94.1 868.8l1.1 2.1h-2.3zM100.6 862.6l1.1 2.1h-2.3zM91.7 861l1.1 2.1h-2.3zM89.1 870.4l1.1 2.1h-2.3zM90.2 870.4l1.1 2.1h-2.3zM88.5 877.7l1.1 2.1h-2.3zM85.1 885l1.1 2.1h-2.3zM86.5 880.6l1.1 2.1h-2.3zM98.4 880.9l1.1 2.1h-2.3zM85.8 877l1.1 2.1h-2.3zM89.5 875.9l1.1 2.1h-2.3zM91.5 884.2l1.1 2.1h-2.3zM87.6 876.7l1.1 2.1h-2.3zM90.7 871.7l1.1 2.1h-2.3zM89.2 881.8l1.1 2.1h-2.3zM91.9 872.9l1.1 2.1h-2.3zM87.9 875.8l1.1 2.1h-2.3zM85.3 879.2l1.1 2.1h-2.3zM100.6 882.6l1.1 2.1h-2.3zM97.7 869.8l1.1 2.1h-2.3zM98.2 879.8l1.1 2.1h-2.3zM89.3 871.9l1.1 2.1h-2.3zM101.1 879.5l1.1 2.1h-2.3zM99.3 879.1l1.1 2.1h-2.3zM91.9 877.7l1.1 2.1h-2.3zM89.9 876.3l1.1 2.1h-2.3zM98.6 878.1l1.1 2.1h-2.3zM85.2 884.6l1.1 2.1h-2.3zM94.8 875.2l1.1 2.1h-2.3zM99.9 877l1.1 2.1h-2.3zM100.6 872l1.1 2.1h-2.3zM100.8 875.8l1.1 2.1h-2.3zM92.3 870.5l1.1 2.1h-2.3zM85.1 883.8l1.1 2.1h-2.3zM90.9 875.1l1.1 2.1h-2.3zM89.5 884.3l1.1 2.1h-2.3zM94.9 871.8l1.1 2.1h-2.3zM97.4 880l1.1 2.1h-2.3zM101.8 879.1l1.1 2.1h-2.3zM90.4 880l1.1 2.1h-2.3zM91.1 882.1l1.1 2.1h-2.3zM86.3 870.9l1.1 2.1h-2.3zM99.3 881.2l1.1 2.1h-2.3zM93.5 870.1l1.1 2.1h-2.3zM88.9 874.4l1.1 2.1h-2.3zM93.5 882.9l1.1 2.1h-2.3zM93.2 878.6l1.1 2.1h-2.3zM99 884.2l1.1 2.1h-2.3zM88.8 883.1l1.1 2.1h-2.3zM93.6 876.3l1.1 2.1h-2.3zM92.5 874.1l1.1 2.1h-2.3zM86.6 872.9l1.1 2.1h-2.3zM87.2 870.4l1.1 2.1h-2.3zM89 880.8l1.1 2.1h-2.3zM92.4 882.2l1.1 2.1h-2.3zM94.5 870.5l1.1 2.1h-2.3zM97.7 877.4l1.1 2.1h-2.3zM100.6 882.6l1.1 2.1h-2.3zM86.4 879.7l1.1 2.1h-2.3zM101.7 876.2l1.1 2.1h-2.3zM92 884.5l1.1 2.1h-2.3zM98.4 876.3l1.1 2.1h-2.3zM90.6 874.6l1.1 2.1h-2.3zM97.5 877.4l1.1 2.1h-2.3zM96.7 875.1l1.1 2.1h-2.3zM85.2 875.8l1.1 2.1h-2.3zM99.9 877.4l1.1 2.1h-2.3zM85.6 870.9l1.1 2.1h-2.3zM93.4 879.1l1.1 2.1h-2.3zM88.6 878.8l1.1 2.1h-2.3zM95.1 880.8l1.1 2.1h-2.3zM88 873.5l1.1 2.1h-2.3zM95.4 870.4l1.1 2.1h-2.3zM98.2 880.7l1.1 2.1h-2.3zM95.1 875.5l1.1 2.1h-2.3zM99.3 879l1.1 2.1h-2.3zM91.4 873.9l1.1 2.1h-2.3zM96.4 875.1l1.1 2.1h-2.3zM92.6 873.8l1.1 2.1h-2.3zM100.7 877.4l1.1 2.1h-2.3zM86.5 879.8l1.1 2.1h-2.3zM99.9 873.4l1.1 2.1h-2.3zM85.1 874.6l1.1 2.1h-2.3zM99.6 876.9l1.1 2.1h-2.3zM86.3 880.5l1.1 2.1h-2.3zM96.9 875.5l1.1 2.1h-2.3zM86.6 870.7l1.1 2.1h-2.3zM98.4 877.8l1.1 2.1h-2.3zM88.7 876.8l1.1 2.1h-2.3zM86.1 885.2l1.1 2.1h-2.3zM99.9 878.7l1.1 2.1h-2.3zM94.8 870.5l1.1 2.1h-2.3zM99.5 879.7l1.1 2.1h-2.3zM98.6 871l1.1 2.1h-2.3zM86.5 875.5l1.1 2.1h-2.3zM86.5 870.3l1.1 2.1h-2.3zM97.2 879.1l1.1 2.1h-2.3zM99.5 872.4l1.1 2.1h-2.3zM88 884.4l1.1 2.1h-2.3zM100.2 872.7l1.1 2.1h-2.3zM85.3 884.7l1.1 2.1h-2.3zM98.1 883.9l1.1 2.1h-2.3zM95.7 877.8l1.1 2.1h-2.3zM91.5 876.9l1.1 2.1h-2.3zM91.5 875.8l1.1 2.1h-2.3zM90.2 881.3l1.1 2.1h-2.3zM93.1 872.7l1.1 2.1h-2.3zM93.5 875.2l1.1 2.1h-2.3zM87.7 870.6l1.1 2.1h-2.3zM85.1 876.4l1.1 2.1h-2.3zM94 872.7l1.1 2.1h-2.3zM88.1 884l1.1 2.1h-2.3zM86.6 876.7l1.1 2.1h-2.3zM89.2 873.2l1.1 2.1h-2.3zM87.3 874l1.1 2.1h-2.3zM99.8 872.5l1.1 2.1h-2.3zM89.9 871.1l1.1 2.1h-2.3zM96.1 870.6l1.1 2.1h-2.3zM85 880.8l1.1 2.1h-2.3zM96.3 871.4l1.1 2.1h-2.3zM101.4 882.8l1.1 2.1h-2.3zM97.9 884.7l1.1 2.1h-2.3zM98.1 883.9l1.1 2.1h-2.3zM92.1 872.5l1.1 2.1h-2.3zM93.1 882l1.1 2.1h-2.3zM100.4 879l1.1 2.1h-2.3zM88.9 884.4l1.1 2.1h-2.3zM93.6 874.3l1.1 2.1h-2.3zM97.5 879.1l1.1 2.1h-2.3zM90.7 879.3l1.1 2.1h-2.3zM93 872.7l1.1 2.1h-2.3zM85.5 879l1.1 2.1h-2.3zM96.7 881l1.1 2.1h-2.3zM87.7 882.2l1.1 2.1h-2.3zM89.3 883l1.1 2.1h-2.3zM88.7 870.2l1.1 2.1h-2.3zM97.3 881.5l1.1 2.1h-2.3zM91.8 874.8l1.1 2.1h-2.3zM102 881.6l1.1 2.1h-2.3zM98.7 872.1l1.1 2.1h-2.3zM100.8 875.6l1.1 2.1h-2.3zM96.7 876l1.1 2.1h-2.3zM88.8 880.5l1.1 2.1h-2.3zM90.5 879.3l1.1 2.1h-2.3zM91.1 882.4l1.1 2.1h-2.3zM88.4 869.8l1.1 2.1h-2.3zM92.9 874.1l1.1 2.1h-2.3zM98.5 881.1l1.1 2.1h-2.3zM93.9 873.5l1.1 2.1h-2.3zM87.7 882.8l1.1 2.1h-2.3zM97.5 874.6l1.1 2.1h-2.3zM101.5 880.1l1.1 2.1h-2.3zM93.1 870.6l1.1 2.1h-2.3zM87.3 883.9l1.1 2.1h-2.3zM97.5 871.5l1.1 2.1h-2.3zM94.2 876.1l1.1 2.1h-2.3zM98.8 875.8l1.1 2.1h-2.3zM95.3 874.4l1.1 2.1h-2.3zM99.9 878l1.1 2.1h-2.3zM85.1 877.9l1.1 2.1h-2.3zM96.1 882.1l1.1 2.1h-2.3zM95.3 884.8l1.1 2.1h-2.3zM98.3 882.2l1.1 2.1h-2.3zM88.6 881l1.1 2.1h-2.3zM95 872.8l1.1 2.1h-2.3zM93.3 713.1l1.1 2.1h-2.3zM86.7 724.1l1.1 2.1h-2.3zM88 724.5l1.1 2.1h-2.3zM91.1 741.5l1.1 2.1h-2.3zM91.1 746.2l1.1 2.1h-2.3zM97.7 755.8l1.1 2.1h-2.3zM97.7 765.5l1.1 2.1h-2.3zM96.9 768.2l1.1 2.1h-2.3zM94.4 777.3l1.1 2.1h-2.3zM164.3 843.9l1.1 2.1h-2.3zM172.5 839.4l1.1 2.1h-2.3zM165 843.7l1.1 2.1h-2.3zM158.4 844.9l1.1 2.1h-2.3zM163 842.7l1.1 2.1h-2.3zM167 844.4l1.1 2.1h-2.3zM166.2 842.5l1.1 2.1h-2.3zM173.4 839.6l1.1 2.1h-2.3zM165.6 845.6l1.1 2.1h-2.3zM170.5 840.4l1.1 2.1h-2.3zM169.8 840.4l1.1 2.1h-2.3zM164.9 839.8l1.1 2.1h-2.3zM164.1 841.5l1.1 2.1h-2.3zM164.8 842l1.1 2.1h-2.3zM158.9 840.3l1.1 2.1h-2.3zM158.3 840l1.1 2.1h-2.3zM158.8 842.3l1.1 2.1h-2.3zM159.1 838.8l1.1 2.1h-2.3zM158.3 842.7l1.1 2.1h-2.3zM163.7 839.6l1.1 2.1h-2.3zM159.4 839.8l1.1 2.1h-2.3zM173.8 839.7l1.1 2.1h-2.3zM163.9 845.5l1.1 2.1h-2.3zM156.9 845.3l1.1 2.1h-2.3zM168.3 846.6l1.1 2.1h-2.3zM169.2 845.2l1.1 2.1h-2.3zM173.3 842.8l1.1 2.1h-2.3zM161.1 841.9l1.1 2.1h-2.3zM162.4 843.4l1.1 2.1h-2.3zM169.8 843.8l1.1 2.1h-2.3zM167.7 846.6l1.1 2.1h-2.3zM167.7 841.4l1.1 2.1h-2.3zM173 846l1.1 2.1h-2.3zM174.1 846.3l1.1 2.1h-2.3zM157 846.4l1.1 2.1h-2.3zM163.6 843.7l1.1 2.1h-2.3zM173.2 843.7l1.1 2.1h-2.3zM157.2 846.7l1.1 2.1h-2.3zM162.7 842.1l1.1 2.1h-2.3zM170.1 844.9l1.1 2.1h-2.3zM158.1 839.4l1.1 2.1h-2.3zM167 840.6l1.1 2.1h-2.3zM172.8 842.8l1.1 2.1h-2.3zM166.1 844.6l1.1 2.1h-2.3zM156.9 840.2l1.1 2.1h-2.3zM158.8 845.3l1.1 2.1h-2.3zM163.9 843.3l1.1 2.1h-2.3zM157.1 839.8l1.1 2.1h-2.3zM168.3 839l1.1 2.1h-2.3zM161.5 841.9l1.1 2.1h-2.3zM162.8 845.3l1.1 2.1h-2.3zM170.4 846.6l1.1 2.1h-2.3zM169.6 844.8l1.1 2.1h-2.3zM170.7 840.5l1.1 2.1h-2.3zM160.1 845.9l1.1 2.1h-2.3zM162.8 840l1.1 2.1h-2.3zM167.9 841.9l1.1 2.1h-2.3zM165.5 844.1l1.1 2.1h-2.3zM170.8 841.4l1.1 2.1h-2.3zM164 841.4l1.1 2.1h-2.3zM158.9 868.6l1.1 2.1h-2.3zM171.9 852l1.1 2.1h-2.3zM172.8 862.4l1.1 2.1h-2.3zM170.6 865.9l1.1 2.1h-2.3zM156.9 870.5l1.1 2.1h-2.3zM172.1 855.8l1.1 2.1h-2.3zM170.6 868l1.1 2.1h-2.3zM171.4 861.2l1.1 2.1h-2.3zM167.8 862.1l1.1 2.1h-2.3zM160.4 852.9l1.1 2.1h-2.3zM162 867.8l1.1 2.1h-2.3zM163.6 848.3l1.1 2.1h-2.3zM160 870.5l1.1 2.1h-2.3zM157.3 860.3l1.1 2.1h-2.3zM173.3 860.7l1.1 2.1h-2.3zM163.6 850.9l1.1 2.1h-2.3zM167.4 863l1.1 2.1h-2.3zM158.7 850.5l1.1 2.1h-2.3zM171.7 866.8l1.1 2.1h-2.3zM169.9 864.7l1.1 2.1h-2.3zM157.5 850.8l1.1 2.1h-2.3zM160.3 865.7l1.1 2.1h-2.3zM169.7 861.9l1.1 2.1h-2.3zM157.8 853.9l1.1 2.1h-2.3zM157.3 862.7l1.1 2.1h-2.3zM158.9 863.4l1.1 2.1h-2.3zM159.3 858.7l1.1 2.1h-2.3zM170.2 863.4l1.1 2.1h-2.3zM170.4 865.7l1.1 2.1h-2.3zM166.7 868.1l1.1 2.1h-2.3zM162.1 866.7l1.1 2.1h-2.3zM170.4 849.3l1.1 2.1h-2.3zM167.8 867.4l1.1 2.1h-2.3zM157.9 869.5l1.1 2.1h-2.3zM160.1 858.3l1.1 2.1h-2.3zM168.9 868.5l1.1 2.1h-2.3zM166.6 852.1l1.1 2.1h-2.3zM163.7 847.7l1.1 2.1h-2.3zM166 857.5l1.1 2.1h-2.3zM161.1 849.6l1.1 2.1h-2.3zM167 849.9l1.1 2.1h-2.3zM159.2 857.4l1.1 2.1h-2.3zM173.9 870.1l1.1 2.1h-2.3zM171.1 859.2l1.1 2.1h-2.3zM165.5 870.4l1.1 2.1h-2.3zM173.8 859l1.1 2.1h-2.3zM168.6 857.9l1.1 2.1h-2.3zM166.9 847.2l1.1 2.1h-2.3zM168 848.7l1.1 2.1h-2.3zM169 867.7l1.1 2.1h-2.3zM174 863.2l1.1 2.1h-2.3zM170.4 860.3l1.1 2.1h-2.3zM161 868.1l1.1 2.1h-2.3zM157.9 862.3l1.1 2.1h-2.3zM172.8 853.5l1.1 2.1h-2.3zM169.6 867.5l1.1 2.1h-2.3zM166.9 864.2l1.1 2.1h-2.3zM165.3 848.7l1.1 2.1h-2.3zM173.3 866.7l1.1 2.1h-2.3zM157.6 855.5l1.1 2.1h-2.3zM159.5 867l1.1 2.1h-2.3zM162.3 866.6l1.1 2.1h-2.3zM174.1 868.5l1.1 2.1h-2.3zM168.9 849.5l1.1 2.1h-2.3zM167.2 864.4l1.1 2.1h-2.3zM162.8 854.3l1.1 2.1h-2.3zM159.6 867.3l1.1 2.1h-2.3zM157.1 849.5l1.1 2.1h-2.3zM159.3 867.8l1.1 2.1h-2.3zM159.9 870.1l1.1 2.1h-2.3zM165.7 859.1l1.1 2.1h-2.3zM163.2 859.9l1.1 2.1h-2.3zM173.8 861.4l1.1 2.1h-2.3zM172.8 868.3l1.1 2.1h-2.3zM166.5 848.9l1.1 2.1h-2.3zM159.7 867.2l1.1 2.1h-2.3zM162.3 855.1l1.1 2.1h-2.3zM157.3 856.5l1.1 2.1h-2.3zM168.3 867.7l1.1 2.1h-2.3zM163.5 849.7l1.1 2.1h-2.3zM172.9 850.2l1.1 2.1h-2.3zM162.3 863.1l1.1 2.1h-2.3zM171.6 864.3l1.1 2.1h-2.3zM163.7 852.2l1.1 2.1h-2.3zM168.2 863.4l1.1 2.1h-2.3zM163 855.3l1.1 2.1h-2.3zM170.8 847.4l1.1 2.1h-2.3zM160.7 853l1.1 2.1h-2.3zM159.6 850.6l1.1 2.1h-2.3zM157.7 857.6l1.1 2.1h-2.3zM163.4 857.6l1.1 2.1h-2.3zM169.5 856l1.1 2.1h-2.3zM164.9 868.6l1.1 2.1h-2.3zM171.4 856l1.1 2.1h-2.3zM167 851.3l1.1 2.1h-2.3zM166.1 869.5l1.1 2.1h-2.3zM165.5 862.1l1.1 2.1h-2.3zM157.5 869.6l1.1 2.1h-2.3zM167.1 857.6l1.1 2.1h-2.3zM160.2 861.3l1.1 2.1h-2.3zM158.3 854.6l1.1 2.1h-2.3zM158.6 869.9l1.1 2.1h-2.3zM159.7 853.4l1.1 2.1h-2.3zM167.6 869.1l1.1 2.1h-2.3zM161.8 854.9l1.1 2.1h-2.3zM162 865.2l1.1 2.1h-2.3zM164 862.3l1.1 2.1h-2.3zM173.4 865.4l1.1 2.1h-2.3zM161.3 851.6l1.1 2.1h-2.3zM162.1 870.7l1.1 2.1h-2.3zM161.2 858.7l1.1 2.1h-2.3zM162.3 848.5l1.1 2.1h-2.3zM162 863.1l1.1 2.1h-2.3zM171.2 848.6l1.1 2.1h-2.3zM173.8 862.3l1.1 2.1h-2.3zM163.7 863.9l1.1 2.1h-2.3zM171.9 851.6l1.1 2.1h-2.3zM158.7 849.5l1.1 2.1h-2.3zM165.2 850l1.1 2.1h-2.3zM171.1 862.5l1.1 2.1h-2.3zM158.4 864.7l1.1 2.1h-2.3zM174.1 868.8l1.1 2.1h-2.3zM163.8 854.5l1.1 2.1h-2.3zM165.5 849.1l1.1 2.1h-2.3zM173.2 861.9l1.1 2.1h-2.3zM172.8 866.8l1.1 2.1h-2.3zM160.5 864.2l1.1 2.1h-2.3zM164.7 858.5l1.1 2.1h-2.3zM169.6 853.2l1.1 2.1h-2.3zM164.8 864.2l1.1 2.1h-2.3zM173.1 867.3l1.1 2.1h-2.3zM160.3 852l1.1 2.1h-2.3zM173.7 863.8l1.1 2.1h-2.3zM167.6 865.2l1.1 2.1h-2.3zM167.5 870.7l1.1 2.1h-2.3zM168.7 855.7l1.1 2.1h-2.3zM161.4 856.2l1.1 2.1h-2.3zM164.5 847.8l1.1 2.1h-2.3zM160.6 850.6l1.1 2.1h-2.3zM170.8 864.6l1.1 2.1h-2.3zM162.6 853.3l1.1 2.1h-2.3zM159.3 868.6l1.1 2.1h-2.3zM172.2 854.4l1.1 2.1h-2.3zM162.8 865.9l1.1 2.1h-2.3zM173.3 855.4l1.1 2.1h-2.3zM164.6 864.9l1.1 2.1h-2.3zM168.1 857.3l1.1 2.1h-2.3zM170.4 851.8l1.1 2.1h-2.3zM165.8 851.7l1.1 2.1h-2.3zM173.2 853.6l1.1 2.1h-2.3zM158.2 882.1l1.1 2.1h-2.3zM172.3 883.2l1.1 2.1h-2.3zM162.9 878.2l1.1 2.1h-2.3zM167.9 872.6l1.1 2.1h-2.3zM166.6 873.2l1.1 2.1h-2.3zM165.3 872.8l1.1 2.1h-2.3zM161 878.2l1.1 2.1h-2.3zM171.1 884l1.1 2.1h-2.3zM165 878.5l1.1 2.1h-2.3zM159.1 876.8l1.1 2.1h-2.3zM158.6 872.3l1.1 2.1h-2.3zM165.6 876l1.1 2.1h-2.3zM166.6 873.3l1.1 2.1h-2.3zM161.6 877.1l1.1 2.1h-2.3zM160.9 877.2l1.1 2.1h-2.3zM171.2 883.8l1.1 2.1h-2.3zM168.7 876.3l1.1 2.1h-2.3zM159.3 883.1l1.1 2.1h-2.3zM170.8 871.3l1.1 2.1h-2.3zM157.8 875.6l1.1 2.1h-2.3zM171.4 880.8l1.1 2.1h-2.3zM171.3 877l1.1 2.1h-2.3zM159 871.8l1.1 2.1h-2.3zM174 875.7l1.1 2.1h-2.3zM172.4 878.5l1.1 2.1h-2.3zM159.9 884.1l1.1 2.1h-2.3zM168.2 874.1l1.1 2.1h-2.3zM164.9 872l1.1 2.1h-2.3zM159.4 881.3l1.1 2.1h-2.3zM160.4 879.4l1.1 2.1h-2.3zM160.4 875.6l1.1 2.1h-2.3zM168.5 876.2l1.1 2.1h-2.3zM166.7 875.3l1.1 2.1h-2.3zM173.6 880l1.1 2.1h-2.3zM162.1 882.9l1.1 2.1h-2.3zM165.2 874.9l1.1 2.1h-2.3zM163.3 883.5l1.1 2.1h-2.3zM163.5 876.6l1.1 2.1h-2.3zM166.9 877.6l1.1 2.1h-2.3zM170.4 874.3l1.1 2.1h-2.3zM168.7 872l1.1 2.1h-2.3zM158.8 873.6l1.1 2.1h-2.3zM161.6 874.3l1.1 2.1h-2.3zM167.7 876.9l1.1 2.1h-2.3zM170 877.7l1.1 2.1h-2.3zM171.9 882.6l1.1 2.1h-2.3zM163.1 875.8l1.1 2.1h-2.3zM164.8 881.5l1.1 2.1h-2.3zM157.7 874.3l1.1 2.1h-2.3zM165.8 877.4l1.1 2.1h-2.3zM170 811.2l1.1 2.1h-2.3zM168.3 813.7l1.1 2.1h-2.3zM167.5 828.2l1.1 2.1h-2.3zM230.2 826.1l1.1 2.1h-2.3zM232.8 801.7l1.1 2.1h-2.3zM236.2 811.6l1.1 2.1h-2.3zM236.5 800l1.1 2.1h-2.3zM231.9 819l1.1 2.1h-2.3zM241 800.1l1.1 2.1h-2.3zM233 826.3l1.1 2.1h-2.3zM240.1 812.3l1.1 2.1h-2.3zM238 814l1.1 2.1h-2.3zM240.1 808.5l1.1 2.1h-2.3zM244.3 809.5l1.1 2.1h-2.3zM241.2 824.7l1.1 2.1h-2.3zM239.5 821l1.1 2.1h-2.3zM240.7 809.1l1.1 2.1h-2.3zM237.8 822.9l1.1 2.1h-2.3zM246 808.9l1.1 2.1h-2.3zM231.2 846.7l1.1 2.1h-2.3zM239.2 832.2l1.1 2.1h-2.3zM230.5 832.1l1.1 2.1h-2.3zM243.8 838.3l1.1 2.1h-2.3zM237.5 849l1.1 2.1h-2.3zM241.6 831.9l1.1 2.1h-2.3zM243.6 834l1.1 2.1h-2.3zM242.5 850.7l1.1 2.1h-2.3zM242.5 845.2l1.1 2.1h-2.3zM242.4 840.7l1.1 2.1h-2.3zM235.5 832.4l1.1 2.1h-2.3zM229.3 829.4l1.1 2.1h-2.3zM233.2 836l1.1 2.1h-2.3zM240.1 832.9l1.1 2.1h-2.3zM234.3 848.2l1.1 2.1h-2.3zM245.9 840.1l1.1 2.1h-2.3zM234.3 839.9l1.1 2.1h-2.3zM241.1 842.2l1.1 2.1h-2.3zM231 839.6l1.1 2.1h-2.3zM236.7 834l1.1 2.1h-2.3zM242.7 844.9l1.1 2.1h-2.3zM244.6 845l1.1 2.1h-2.3zM230.1 848.7l1.1 2.1h-2.3zM242.8 839.5l1.1 2.1h-2.3zM245.5 831.6l1.1 2.1h-2.3zM229.3 849.9l1.1 2.1h-2.3zM242.9 829.1l1.1 2.1h-2.3zM229.6 832.2l1.1 2.1h-2.3zM240.6 844.3l1.1 2.1h-2.3zM245.9 847.7l1.1 2.1h-2.3zM230.3 849.5l1.1 2.1h-2.3zM241.8 841.8l1.1 2.1h-2.3zM230.8 834.8l1.1 2.1h-2.3zM239 829.4l1.1 2.1h-2.3zM234.8 844.9l1.1 2.1h-2.3zM238.5 842.9l1.1 2.1h-2.3zM242 831.3l1.1 2.1h-2.3zM232.2 845.2l1.1 2.1h-2.3zM234 849.6l1.1 2.1h-2.3zM230.8 832.8l1.1 2.1h-2.3zM235.9 842l1.1 2.1h-2.3zM230.3 837.9l1.1 2.1h-2.3zM229.3 842.3l1.1 2.1h-2.3zM241.5 831.3l1.1 2.1h-2.3zM241 848.5l1.1 2.1h-2.3zM229.4 835.2l1.1 2.1h-2.3zM240.2 842.9l1.1 2.1h-2.3zM240.5 833.9l1.1 2.1h-2.3zM234.8 832.7l1.1 2.1h-2.3zM233.9 849.8l1.1 2.1h-2.3zM232.8 834.4l1.1 2.1h-2.3zM239.3 849.7l1.1 2.1h-2.3zM231.2 847.7l1.1 2.1h-2.3zM238.3 841l1.1 2.1h-2.3zM235.9 841.1l1.1 2.1h-2.3zM237.7 829.4l1.1 2.1h-2.3zM242 845.7l1.1 2.1h-2.3zM232.7 843.8l1.1 2.1h-2.3zM234.3 841.6l1.1 2.1h-2.3zM237.2 846.6l1.1 2.1h-2.3zM234.5 839.1l1.1 2.1h-2.3zM240.7 837.2l1.1 2.1h-2.3zM231.3 845l1.1 2.1h-2.3zM244.7 839.6l1.1 2.1h-2.3zM245.2 842.1l1.1 2.1h-2.3zM231 832.1l1.1 2.1h-2.3zM237.3 833.2l1.1 2.1h-2.3zM234.8 832.8l1.1 2.1h-2.3zM234.8 846.4l1.1 2.1h-2.3zM232.3 850.6l1.1 2.1h-2.3zM238.2 850.2l1.1 2.1h-2.3zM242.7 840.9l1.1 2.1h-2.3zM232.9 846l1.1 2.1h-2.3zM242.4 831.4l1.1 2.1h-2.3zM241.8 836l1.1 2.1h-2.3zM239.8 849.4l1.1 2.1h-2.3zM244.2 835.3l1.1 2.1h-2.3zM239.3 832.2l1.1 2.1h-2.3zM242.7 838.3l1.1 2.1h-2.3zM245.4 845.6l1.1 2.1h-2.3zM243.6 850.5l1.1 2.1h-2.3zM238.8 829.4l1.1 2.1h-2.3zM233.9 842.7l1.1 2.1h-2.3zM239.3 847.2l1.1 2.1h-2.3zM241.3 846.7l1.1 2.1h-2.3zM241.3 849l1.1 2.1h-2.3zM235.7 843l1.1 2.1h-2.3zM241.8 847.4l1.1 2.1h-2.3zM234.6 837.6l1.1 2.1h-2.3zM231.1 841.7l1.1 2.1h-2.3zM245.4 840.8l1.1 2.1h-2.3zM244.7 838.5l1.1 2.1h-2.3zM236.2 838.6l1.1 2.1h-2.3zM238.4 844.3l1.1 2.1h-2.3zM229.1 832.1l1.1 2.1h-2.3zM245.3 847.1l1.1 2.1h-2.3zM235 844.4l1.1 2.1h-2.3zM239.4 833.2l1.1 2.1h-2.3zM231.2 836.4l1.1 2.1h-2.3zM231.2 847.3l1.1 2.1h-2.3zM239 838.1l1.1 2.1h-2.3zM240.5 847.4l1.1 2.1h-2.3zM245.8 837.5l1.1 2.1h-2.3zM241 850.6l1.1 2.1h-2.3zM239.4 837.3l1.1 2.1h-2.3zM239.3 850.4l1.1 2.1h-2.3zM233.6 837.2l1.1 2.1h-2.3zM235.2 838l1.1 2.1h-2.3zM239.7 832.6l1.1 2.1h-2.3zM231.2 846l1.1 2.1h-2.3zM234.1 830.5l1.1 2.1h-2.3zM231.8 845.9l1.1 2.1h-2.3zM229.5 839.7l1.1 2.1h-2.3zM236.7 847.7l1.1 2.1h-2.3zM235.3 842.4l1.1 2.1h-2.3zM238.5 849.6l1.1 2.1h-2.3zM235.7 840.1l1.1 2.1h-2.3zM230.1 833.7l1.1 2.1h-2.3zM243.7 849.1l1.1 2.1h-2.3zM229.5 848.4l1.1 2.1h-2.3zM229.2 847.2l1.1 2.1h-2.3zM229.2 841.9l1.1 2.1h-2.3zM242.5 834.5l1.1 2.1h-2.3zM235.2 829.1l1.1 2.1h-2.3zM245.2 846.6l1.1 2.1h-2.3zM234.3 843.3l1.1 2.1h-2.3zM235.9 838.4l1.1 2.1h-2.3zM240.9 840l1.1 2.1h-2.3zM245.2 846.1l1.1 2.1h-2.3zM244.6 833.8l1.1 2.1h-2.3zM235.3 829.2l1.1 2.1h-2.3zM240.6 830.8l1.1 2.1h-2.3zM229.9 850.5l1.1 2.1h-2.3zM238.7 833.3l1.1 2.1h-2.3zM240 850.2l1.1 2.1h-2.3zM233.6 829.4l1.1 2.1h-2.3zM240.2 843.5l1.1 2.1h-2.3zM234.1 840.3l1.1 2.1h-2.3zM242.1 839.6l1.1 2.1h-2.3zM230.1 828.7l1.1 2.1h-2.3zM237.9 841.2l1.1 2.1h-2.3zM245.3 842.3l1.1 2.1h-2.3zM239.7 847.1l1.1 2.1h-2.3zM245.1 847l1.1 2.1h-2.3zM245.2 846.6l1.1 2.1h-2.3zM242.1 830l1.1 2.1h-2.3zM242.8 848l1.1 2.1h-2.3zM241.6 840.3l1.1 2.1h-2.3zM237.7 847.9l1.1 2.1h-2.3zM242.5 848.7l1.1 2.1h-2.3zM242.5 830.5l1.1 2.1h-2.3zM243.8 837.8l1.1 2.1h-2.3zM229 839.9l1.1 2.1h-2.3zM229.5 842l1.1 2.1h-2.3zM236.9 849.4l1.1 2.1h-2.3zM241.3 829.5l1.1 2.1h-2.3zM236.1 842l1.1 2.1h-2.3zM235.5 839.6l1.1 2.1h-2.3zM229.2 831.7l1.1 2.1h-2.3zM239.3 843.8l1.1 2.1h-2.3zM245.4 844.8l1.1 2.1h-2.3zM239.5 831.3l1.1 2.1h-2.3zM233.1 831l1.1 2.1h-2.3zM239.8 839.5l1.1 2.1h-2.3zM235.3 849.8l1.1 2.1h-2.3zM235.2 847l1.1 2.1h-2.3zM229.8 843.4l1.1 2.1h-2.3zM241.2 837.5l1.1 2.1h-2.3zM228.9 849.7l1.1 2.1h-2.3zM243.4 839.2l1.1 2.1h-2.3zM235.9 850.9l1.1 2.1h-2.3zM242.4 866.3l1.1 2.1h-2.3zM229 857.7l1.1 2.1h-2.3zM229.5 857.7l1.1 2.1h-2.3zM246.1 860.5l1.1 2.1h-2.3zM238.5 854.4l1.1 2.1h-2.3zM241.3 854.9l1.1 2.1h-2.3zM236.9 865l1.1 2.1h-2.3zM232.2 868.9l1.1 2.1h-2.3zM240.4 853.6l1.1 2.1h-2.3zM233 856.2l1.1 2.1h-2.3zM236.7 870.4l1.1 2.1h-2.3zM232.5 864.5l1.1 2.1h-2.3zM244.6 869.1l1.1 2.1h-2.3zM235.7 858.5l1.1 2.1h-2.3zM240.9 866.1l1.1 2.1h-2.3zM232 864.9l1.1 2.1h-2.3zM239.4 865.6l1.1 2.1h-2.3zM234 860.3l1.1 2.1h-2.3zM230.9 856.6l1.1 2.1h-2.3zM234.3 858l1.1 2.1h-2.3zM230 853.6l1.1 2.1h-2.3zM239.3 852.3l1.1 2.1h-2.3zM238.5 858.3l1.1 2.1h-2.3zM243.6 867.9l1.1 2.1h-2.3zM229.3 857.4l1.1 2.1h-2.3zM235.9 862l1.1 2.1h-2.3zM245.9 867.2l1.1 2.1h-2.3zM234.9 852.8l1.1 2.1h-2.3zM229.9 858.1l1.1 2.1h-2.3zM242.7 858.1l1.1 2.1h-2.3zM230.5 865l1.1 2.1h-2.3zM241.2 868.8l1.1 2.1h-2.3zM238 850.9l1.1 2.1h-2.3zM244 861.6l1.1 2.1h-2.3zM237.7 850.8l1.1 2.1h-2.3zM240.6 856.8l1.1 2.1h-2.3zM233.3 858.7l1.1 2.1h-2.3zM245.9 856.4l1.1 2.1h-2.3zM232.5 859l1.1 2.1h-2.3zM243.3 858l1.1 2.1h-2.3zM240.7 860.7l1.1 2.1h-2.3zM237.2 855.7l1.1 2.1h-2.3zM235.3 858.5l1.1 2.1h-2.3zM230.3 855.1l1.1 2.1h-2.3zM242.6 859.1l1.1 2.1h-2.3zM232.8 864.9l1.1 2.1h-2.3zM243.9 851.4l1.1 2.1h-2.3zM244.2 870.7l1.1 2.1h-2.3zM232.5 853.7l1.1 2.1h-2.3zM233.9 866.6l1.1 2.1h-2.3zM241.2 856.5l1.1 2.1h-2.3zM242.1 852.2l1.1 2.1h-2.3zM229.7 866.5l1.1 2.1h-2.3zM243.1 862l1.1 2.1h-2.3zM243 856l1.1 2.1h-2.3zM239.6 858.3l1.1 2.1h-2.3zM244.3 868l1.1 2.1h-2.3zM245.7 864.9l1.1 2.1h-2.3zM232.4 856.3l1.1 2.1h-2.3zM245.2 855.5l1.1 2.1h-2.3zM243.8 862.1l1.1 2.1h-2.3zM239 853.2l1.1 2.1h-2.3zM230.8 855.3l1.1 2.1h-2.3zM245.5 866.8l1.1 2.1h-2.3zM241.7 865.2l1.1 2.1h-2.3zM235.3 851.3l1.1 2.1h-2.3zM234.4 859.7l1.1 2.1h-2.3zM245.3 858.7l1.1 2.1h-2.3zM232.8 865.5l1.1 2.1h-2.3zM243 859.3l1.1 2.1h-2.3zM236.5 855.3l1.1 2.1h-2.3zM240.9 867.6l1.1 2.1h-2.3zM243.1 854.6l1.1 2.1h-2.3zM230.6 863.7l1.1 2.1h-2.3zM233.4 856.4l1.1 2.1h-2.3zM230.8 863.1l1.1 2.1h-2.3zM235.8 854.2l1.1 2.1h-2.3zM231.3 868.3l1.1 2.1h-2.3zM244.7 858.1l1.1 2.1h-2.3zM242.5 864.4l1.1 2.1h-2.3zM238.9 865.7l1.1 2.1h-2.3zM232.2 860.1l1.1 2.1h-2.3zM232.5 861.5l1.1 2.1h-2.3zM239.1 853.1l1.1 2.1h-2.3zM244.6 861.6l1.1 2.1h-2.3zM245 861.4l1.1 2.1h-2.3zM244.9 868.6l1.1 2.1h-2.3zM234.4 857.8l1.1 2.1h-2.3zM240.9 853.8l1.1 2.1h-2.3zM229.2 878.3l1.1 2.1h-2.3zM230.5 878.8l1.1 2.1h-2.3zM242.8 880.6l1.1 2.1h-2.3zM235.9 875l1.1 2.1h-2.3zM237.7 874.6l1.1 2.1h-2.3zM243.5 876.7l1.1 2.1h-2.3zM241.2 874.1l1.1 2.1h-2.3zM238 883.2l1.1 2.1h-2.3zM234 876l1.1 2.1h-2.3zM230.2 871.3l1.1 2.1h-2.3zM230.8 879.9l1.1 2.1h-2.3zM229.8 885l1.1 2.1h-2.3zM235.8 878.7l1.1 2.1h-2.3zM245.2 874.8l1.1 2.1h-2.3zM230.8 883.8l1.1 2.1h-2.3zM237.8 879.9l1.1 2.1h-2.3zM239.5 879.7l1.1 2.1h-2.3zM245.1 877.4l1.1 2.1h-2.3zM246.1 881.9l1.1 2.1h-2.3zM240.2 880.5l1.1 2.1h-2.3zM238.9 878.7l1.1 2.1h-2.3zM241.1 875.6l1.1 2.1h-2.3zM236.4 882.1l1.1 2.1h-2.3zM242.4 883.9l1.1 2.1h-2.3zM243.3 872.1l1.1 2.1h-2.3zM232.6 871.1l1.1 2.1h-2.3zM238 872.2l1.1 2.1h-2.3zM234.3 883.4l1.1 2.1h-2.3zM231 879.7l1.1 2.1h-2.3zM236.1 876.5l1.1 2.1h-2.3zM239.3 884.9l1.1 2.1h-2.3zM237.8 884.4l1.1 2.1h-2.3zM235.5 876.9l1.1 2.1h-2.3zM238.5 876.1l1.1 2.1h-2.3zM237.6 878.5l1.1 2.1h-2.3zM229.3 879.3l1.1 2.1h-2.3zM240.8 882.9l1.1 2.1h-2.3zM242.5 883.5l1.1 2.1h-2.3zM236.8 874.9l1.1 2.1h-2.3zM240.1 883.1l1.1 2.1h-2.3zM233 871.9l1.1 2.1h-2.3zM241.5 873.8l1.1 2.1h-2.3zM236.7 876.8l1.1 2.1h-2.3zM239.9 871.8l1.1 2.1h-2.3zM240.5 875.8l1.1 2.1h-2.3zM236.3 871.1l1.1 2.1h-2.3zM232.1 882.4l1.1 2.1h-2.3zM245.1 880.5l1.1 2.1h-2.3zM243.2 874.5l1.1 2.1h-2.3zM235.5 878.3l1.1 2.1h-2.3zM235.4 876.4l1.1 2.1h-2.3zM243.5 882.6l1.1 2.1h-2.3zM241.9 875l1.1 2.1h-2.3zM233.6 874.2l1.1 2.1h-2.3zM243.1 882l1.1 2.1h-2.3zM234.7 881.7l1.1 2.1h-2.3zM243.4 880.9l1.1 2.1h-2.3zM230.8 871.7l1.1 2.1h-2.3zM245.2 871.3l1.1 2.1h-2.3zM235.2 884.2l1.1 2.1h-2.3zM244.8 884.8l1.1 2.1h-2.3zM233.1 873.7l1.1 2.1h-2.3zM235.3 877.9l1.1 2.1h-2.3zM233.2 877.5l1.1 2.1h-2.3zM239 874.9l1.1 2.1h-2.3zM233.2 871.9l1.1 2.1h-2.3zM240.5 874.4l1.1 2.1h-2.3zM240.6 884.7l1.1 2.1h-2.3zM242.1 877.2l1.1 2.1h-2.3zM236.7 873.7l1.1 2.1h-2.3zM236.3 871.8l1.1 2.1h-2.3zM233.2 880.1l1.1 2.1h-2.3zM237.3 882.9l1.1 2.1h-2.3zM238 874.4l1.1 2.1h-2.3zM233.7 881.7l1.1 2.1h-2.3zM238.5 871.1l1.1 2.1h-2.3zM231.8 872.6l1.1 2.1h-2.3zM236.1 880l1.1 2.1h-2.3zM234.5 872.1l1.1 2.1h-2.3zM238.1 877.5l1.1 2.1h-2.3zM242.3 877.8l1.1 2.1h-2.3zM229.4 871.1l1.1 2.1h-2.3zM236.5 882.7l1.1 2.1h-2.3zM230.6 881.4l1.1 2.1h-2.3zM235 882.2l1.1 2.1h-2.3zM241.6 880.2l1.1 2.1h-2.3zM239.8 874.8l1.1 2.1h-2.3zM241.2 880.8l1.1 2.1h-2.3zM242.9 879l1.1 2.1h-2.3zM234.7 879.8l1.1 2.1h-2.3zM235.3 881.6l1.1 2.1h-2.3zM232.1 874.9l1.1 2.1h-2.3zM234.5 884l1.1 2.1h-2.3zM239.5 877.4l1.1 2.1h-2.3zM240.4 875.3l1.1 2.1h-2.3zM241.1 878.4l1.1 2.1h-2.3zM238.1 884.9l1.1 2.1h-2.3zM229.7 881l1.1 2.1h-2.3zM240 872.1l1.1 2.1h-2.3zM243.5 874.7l1.1 2.1h-2.3zM243.9 880.5l1.1 2.1h-2.3zM229.2 884.6l1.1 2.1h-2.3zM235.4 878.6l1.1 2.1h-2.3zM237.3 878.6l1.1 2.1h-2.3zM239.6 870.8l1.1 2.1h-2.3zM242.6 873l1.1 2.1h-2.3zM229.3 882.4l1.1 2.1h-2.3zM244.4 874.2l1.1 2.1h-2.3zM236.4 878.5l1.1 2.1h-2.3zM245.6 880.6l1.1 2.1h-2.3zM242.5 879.4l1.1 2.1h-2.3zM235.7 881.9l1.1 2.1h-2.3zM245.3 880.1l1.1 2.1h-2.3zM236.9 875.2l1.1 2.1h-2.3zM230.7 879.2l1.1 2.1h-2.3zM232.3 880.8l1.1 2.1h-2.3zM238.1 871.7l1.1 2.1h-2.3zM242 884.7l1.1 2.1h-2.3zM234.2 879.7l1.1 2.1h-2.3zM245.1 884.9l1.1 2.1h-2.3zM233.3 883.2l1.1 2.1h-2.3zM245.8 871.2l1.1 2.1h-2.3zM240.1 871.9l1.1 2.1h-2.3zM241.6 883.1l1.1 2.1h-2.3zM235.5 874.3l1.1 2.1h-2.3zM238.1 884l1.1 2.1h-2.3zM235 884.9l1.1 2.1h-2.3zM237.6 881.9l1.1 2.1h-2.3zM243.4 879.8l1.1 2.1h-2.3zM242.1 877.1l1.1 2.1h-2.3zM243.1 883.9l1.1 2.1h-2.3zM236 879.9l1.1 2.1h-2.3zM234 872.1l1.1 2.1h-2.3zM239.1 881.3l1.1 2.1h-2.3zM245.3 875.5l1.1 2.1h-2.3zM241.1 872.7l1.1 2.1h-2.3zM232.9 876.1l1.1 2.1h-2.3zM242.6 883.2l1.1 2.1h-2.3zM244.2 881.5l1.1 2.1h-2.3zM241.6 876.3l1.1 2.1h-2.3zM241.4 882.7l1.1 2.1h-2.3zM240.6 878.9l1.1 2.1h-2.3zM238.6 875.7l1.1 2.1h-2.3zM235.7 872.2l1.1 2.1h-2.3zM241.3 880.6l1.1 2.1h-2.3zM236.1 874.3l1.1 2.1h-2.3zM231.9 878.1l1.1 2.1h-2.3zM244.3 874.2l1.1 2.1h-2.3zM244.7 879.9l1.1 2.1h-2.3zM231 871.6l1.1 2.1h-2.3zM242.8 874.8l1.1 2.1h-2.3zM239.6 879.8l1.1 2.1h-2.3zM234.6 883l1.1 2.1h-2.3zM234.6 881.3l1.1 2.1h-2.3zM231.4 874.9l1.1 2.1h-2.3zM236.6 876.5l1.1 2.1h-2.3zM232.5 878l1.1 2.1h-2.3zM240.5 884.5l1.1 2.1h-2.3zM245.2 873.3l1.1 2.1h-2.3zM234 882.2l1.1 2.1h-2.3zM233.3 872.4l1.1 2.1h-2.3zM237.9 882.9l1.1 2.1h-2.3zM230.9 872.3l1.1 2.1h-2.3zM231.3 876.3l1.1 2.1h-2.3zM231.9 876.1l1.1 2.1h-2.3zM243.2 880.4l1.1 2.1h-2.3zM237.6 875.3l1.1 2.1h-2.3zM242.5 882.4l1.1 2.1h-2.3zM243.3 885l1.1 2.1h-2.3zM234.1 881.2l1.1 2.1h-2.3zM308.8 873.6l1.1 2.1h-2.3zM316.6 870.5l1.1 2.1h-2.3zM301.3 867.6l1.1 2.1h-2.3zM316.4 870.5l1.1 2.1h-2.3zM309.3 874.2l1.1 2.1h-2.3zM303.3 868.7l1.1 2.1h-2.3zM312.9 879.1l1.1 2.1h-2.3zM305.2 871.2l1.1 2.1h-2.3zM313.8 777.1l1.1 2.1h-2.3zM305.6 637.7l1.1 2.1h-2.3zM312 823.2l1.1 2.1h-2.3zM377 879.7l1.1 2.1h-2.3zM381.5 881.9l1.1 2.1h-2.3zM386 876l1.1 2.1h-2.3zM455.8 868.5l1.1 2.1h-2.3zM450 877.2l1.1 2.1h-2.3zM449 884l1.1 2.1h-2.3zM452 884.5l1.1 2.1h-2.3zM600.6 872.3l1.1 2.1h-2.3zM598.6 865.3l1.1 2.1h-2.3zM600 868.5l1.1 2.1h-2.3zM604.2 870.9l1.1 2.1h-2.3zM590.6 884l1.1 2.1h-2.3zM601.9 879.9l1.1 2.1h-2.3zM590.2 883.9l1.1 2.1h-2.3zM604.7 880l1.1 2.1h-2.3zM596.9 878.8l1.1 2.1h-2.3zM597.3 883.4l1.1 2.1h-2.3zM604.6 884.2l1.1 2.1h-2.3zM594.7 805.6l1.1 2.1h-2.3zM592 809.8l1.1 2.1h-2.3zM592 842.9l1.1 2.1h-2.3zM596.5 852.7l1.1 2.1h-2.3z" fill="#6a9a2a"/>
<path d="M141 247h0M136.2 244h0M124.3 252.7h0M140.3 245.2h0M142.6 249.7h0M141.6 246h0M122 265.5h0M129.7 256.2h0M122.1 257.2h0M124.2 273.4h0M143.1 265.2h0M136.1 257h0M131 272.4h0M133.1 267.1h0M141 265.5h0M129.1 261.3h0M134.6 262h0M136.7 258.3h0M129.4 253.8h0M133 272.3h0M138.5 263.3h0M141.8 265h0M124.8 260.1h0M142.3 269.5h0M137.7 275h0M126.5 278.8h0M125.8 279.1h0M129.5 275.7h0M125.4 277.1h0M129.2 279.1h0M142.6 275.1h0M134.2 278.1h0M129 279h0M127.5 277.6h0M131.4 199h0M135.8 194.5h0M139.9 205h0M137 132.7h0M225.4 197.2h0M231 200h0M220.7 199.4h0M233.6 198.4h0M233.6 197.8h0M228.9 229.5h0M232.8 220.1h0M225.1 217.9h0M235.2 219.3h0M237.2 206.1h0M225.3 233.7h0M219.7 223.4h0M233.6 218.2h0M221.7 265.8h0M219.4 243h0M217.3 258.2h0M227.9 261.3h0M219.4 263.9h0M220.5 242.3h0M235.9 241.5h0M227.4 265.7h0M220.7 242.2h0M231.6 243.8h0M222.6 254.5h0M228.4 251h0M222.9 259.3h0M228.2 244.1h0M230.7 263.7h0M228.6 244.9h0M225.5 259.8h0M234.3 240.8h0M236.2 251.8h0M220.6 239.9h0M219.7 247.5h0M219.1 247.4h0M238.5 258.4h0M237.7 251.3h0M221.8 240.5h0M238.3 265.9h0M221.3 263h0M227.9 263.7h0M227.7 245.7h0M237.1 249.6h0M233.5 266.6h0M220.3 270.4h0M237.2 274.4h0M230 266.9h0M224 269.3h0M237.6 272.5h0M220.1 278.3h0M228.1 276.7h0M218.7 277.6h0M238.2 276.7h0M229.5 275.9h0M234.6 277.9h0M222.9 275.5h0M234.6 276.3h0M232.3 270.2h0M231 268.3h0M315.8 146h0M313.3 141.4h0M322.3 141.9h0M316.7 135.2h0M328.4 139.4h0M332.6 140.9h0M322.1 169.1h0M333.6 176.9h0M319.1 175.2h0M312.8 164h0M320.7 165.2h0M315.3 185h0M313.7 174.3h0M324.6 182.9h0M333.3 163.7h0M324.9 177.5h0M326.4 184.5h0M319.1 184.5h0M324.7 162.1h0M328.8 175.6h0M325.1 171.6h0M329.9 181.8h0M324.2 163.9h0M316.3 168.9h0M325 183.1h0M322.9 174.2h0M331.4 192.3h0M315.5 204.1h0M322.1 209.2h0M326.7 191.5h0M323.3 202.2h0M315.6 207.1h0M315 198.5h0M318.3 195h0M313.1 197.7h0M316.8 202.1h0M314.8 205.9h0M322.3 202.5h0M319.9 190.8h0M325 209.3h0M318.2 212h0M312.7 190.6h0M319.3 194.5h0M328.8 192.5h0M317.6 210.1h0M321 211.7h0M328.8 189.2h0M321 196.6h0M331.8 193h0M332.5 200.2h0M318.9 212h0M328.4 189.8h0M317.6 192.5h0M315 200.7h0M321.7 201.6h0M325.4 207.4h0M332.9 199.4h0M315.2 191.7h0M327.9 197.2h0M322.6 213.5h0M314.9 207.5h0M333.7 191h0M327.5 209h0M314.8 196.1h0M332.2 208.3h0M314.2 188.3h0M333.2 217.3h0M312.8 225.9h0M323.6 247.8h0M325.4 215.2h0M327.6 247.1h0M319.4 236h0M319.2 216.4h0M312 234.5h0M312.7 230.5h0M324.2 234.3h0M313.6 240.5h0M316.4 238.4h0M319.4 249.9h0M313.5 219.6h0M312.6 243.3h0M332.7 228.8h0M321.6 242.2h0M316.5 246.1h0M327.8 249.7h0M312.1 223.6h0M317.4 230.3h0M333.4 247.9h0M332 248h0M326.1 227.4h0M314 247.8h0M319 228.6h0M312.5 227.5h0M316.8 241.2h0M312.5 231h0M314.7 230.1h0M326.1 227.9h0M314.1 229.6h0M315.4 219h0M332.1 216.2h0M319.4 241.1h0M319.4 234.3h0M313.8 238.2h0M329.7 242.9h0M327.1 222.3h0M324.2 222.4h0M325.7 224h0M314.1 224.9h0M317.7 241.4h0M325 227.5h0M333.2 225.6h0M330.2 236.9h0M326.3 220.7h0M323.5 217.8h0M312.2 239.1h0M331.9 241.2h0M313.4 224.7h0M314.8 236.9h0M327.4 215.2h0M330.1 228.6h0M329.5 234.8h0M322 223.1h0M315.9 226.5h0M312.7 235.9h0M331 235.2h0M333.8 219.6h0M317.4 239.4h0M331.3 216.9h0M320.9 248.9h0M318.9 221.3h0M323.2 223.1h0M312.1 221.2h0M321.8 249.7h0M316.4 224.3h0M327.9 235.8h0M323.2 249.7h0M333.6 267.4h0M316.4 267.9h0M331.4 256.3h0M331.6 255.6h0M325.8 268.8h0M323.6 260.1h0M316.4 251.9h0M323.5 250.9h0M318.4 269.8h0M314.7 261.6h0M314.8 251.1h0M329.8 260.2h0M332.6 260.1h0M315.1 258.7h0M312.2 269h0M317.8 269h0M314.9 252.5h0M316.1 253h0M325 258.1h0M321.4 266.7h0M321.5 262.5h0M316.5 264.6h0M326.8 261.5h0M318.4 254.2h0M320.8 266.4h0M322.3 250.3h0M332.2 264h0M317.4 253.9h0M328 259.4h0M318.8 269.5h0M331.9 260.8h0M320.7 251.1h0M323.2 258.6h0M331.5 263.2h0M327 251.1h0M314 255.1h0M315 250.4h0M334.1 260.8h0M312.6 257.6h0M318.6 260.1h0M333.4 255.9h0M312.2 263.1h0M315.5 253.5h0M316.7 268.1h0M313.8 269.2h0M322.5 259.9h0M325.2 259.3h0M319 267.2h0M314.3 255.8h0M330.1 266.1h0M329.9 255.7h0M324.5 264.4h0M315 256.7h0M324 262.1h0M326 268.5h0M321.5 251.1h0M331.3 266.1h0M320.6 260.8h0M323.3 257.6h0M314.5 257h0M324.5 251.4h0M329.1 255.2h0M328.3 262.5h0M317.7 252h0M334.1 263.4h0M328 269.2h0M321.4 269.6h0M321.2 267.8h0M329.4 266.1h0M315.8 253.6h0M327.9 276.4h0M316.3 277.2h0M317.9 275.2h0M319.2 278.7h0M325.1 274.7h0M326 274.6h0M332.8 272.8h0M312.2 279.2h0M316.2 273.2h0M320 277h0M330.2 274.1h0M324.2 279.4h0M323.4 279.5h0M328.9 270.3h0M326.6 279.9h0M318.4 276h0M313.9 270.7h0M322.3 275h0M331.6 270.5h0M325.3 275.5h0M313.1 271.9h0M321.8 273.7h0M320.5 273h0M324.9 276h0M325.1 278.2h0M333.2 279.4h0M319.5 273.3h0M321 275.7h0M325.6 270.1h0M331.8 273.7h0M327.7 279.6h0M322.4 271.2h0M330.1 278.7h0M322.8 276.5h0M333.5 272.9h0M318.2 277.8h0M314.8 272.9h0M330.5 278.9h0M318.6 270.8h0M330.9 271.2h0M325.6 277.5h0M323.3 274.5h0M313.8 271.5h0M329.5 275.1h0M313.4 273h0M333.5 275.5h0M331.5 277.4h0M318.7 278.6h0M314.8 270.6h0M331.7 275.9h0M322.6 279.8h0M314.7 274.6h0M323.1 277.7h0M317.4 271h0M321 278.7h0M326.2 275.8h0M332.4 278.9h0M329.8 277.9h0M315.5 278.7h0M322.6 270.6h0M323.6 32.8h0M327.8 119h0M332 131.7h0M410.6 250.7h0M413.8 246.8h0M412.5 278h0M415.5 277.7h0M420.5 276.3h0M481 279.6h0M487 279h0M495 279.3h0M592.4 275.4h0M587.3 279.9h0M590.3 271.8h0M589.8 275.6h0M580.2 279.2h0M575 274.6h0M587.5 273.4h0M575.7 276h0M580.7 273.9h0M592.9 279.3h0M584.2 271.8h0M583.4 272.9h0M592 271.8h0M578.7 277.4h0M593 273.6h0M591.2 279.1h0M580.3 279h0M579.5 279.4h0M575.5 273.3h0M591.3 271h0M576.7 274.5h0M573.2 279.7h0M590.8 277.9h0M585 271.5h0M586.4 277.3h0M587.7 279.3h0M581 242.8h0M592.4 251h0M588.9 257.7h0M591.2 256.9h0M586.9 264.2h0M590.7 265h0M576.6 267.4h0M585.8 114.1h0M575.5 271.5h0M127.5 394.1h0M129.7 393.8h0M128.8 379.5h0M121.5 382.2h0M120.9 411h0M125.4 413.4h0M124.5 405.3h0M130.9 414.9h0M129.1 406.9h0M124.1 404.9h0M129.4 411.4h0M120.4 401.9h0M113.1 473.9h0M114.2 445.6h0M121.1 459h0M116.8 483.9h0M126.8 462.9h0M114 457.9h0M111.9 473.3h0M131.3 447.2h0M117.8 475.7h0M121.7 431h0M115.8 443.1h0M115.7 439.7h0M119.6 444.2h0M127.2 482h0M112.4 431.3h0M128.2 446.4h0M131.2 461.6h0M122.7 468.7h0M118.7 472.6h0M116.2 451.1h0M115.2 442.1h0M118 476.9h0M128.5 436.7h0M111.7 433.6h0M127.2 442.7h0M124.8 457.1h0M112 481.8h0M113 470.1h0M126.2 461h0M124.9 458.7h0M117.8 468.1h0M128.7 464.5h0M115.8 448.5h0M120.1 435.1h0M113.9 441.1h0M124.4 473h0M113.3 464.9h0M115.2 473.8h0M126.8 432.4h0M121.5 479.5h0M124.7 451h0M126.1 480.9h0M123.6 462.7h0M115.5 460.1h0M125.4 475h0M113.9 464.4h0M116.9 467.1h0M120.5 438.7h0M113.9 463.2h0M113.7 449.6h0M128.6 533.9h0M125.5 540.6h0M125.5 512.8h0M128.2 514.2h0M122.2 500.6h0M121.6 524.1h0M118.9 528.5h0M128.7 555h0M129.4 488h0M114.8 553.2h0M126.9 559.3h0M117.1 511h0M115.2 539.4h0M115.5 546.9h0M123 533.8h0M117.1 506.7h0M116.4 531.7h0M113.6 550.8h0M118 493h0M126.9 521h0M112 486.7h0M121.2 548.4h0M123.5 543.4h0M112.6 488.5h0M117.4 540.9h0M129.5 536.9h0M131.3 494.5h0M128.4 524.4h0M115 536.7h0M126.7 510.2h0M120.5 522.8h0M115 558.2h0M121.1 532.7h0M129.9 522.6h0M129 489.9h0M119.4 494.1h0M112.9 548.8h0M129.4 540.7h0M131.1 547.6h0M121.7 528.4h0M116.1 528.2h0M122.4 524.8h0M125.4 540.1h0M121.1 509.8h0M118.6 522.3h0M116.5 520.2h0M117.5 534.6h0M112.6 501.2h0M116.7 486.9h0M130.5 491.6h0M111.8 498.4h0M126 549.3h0M127.2 538.8h0M119.6 541.2h0M123.4 518.3h0M116 492.7h0M124.8 519.9h0M125.6 549.7h0M126.1 523.2h0M121.3 532.4h0M130.8 513.1h0M128.8 496.3h0M122.9 532h0M125.1 521.4h0M117 510.9h0M130.3 504.4h0M124.4 537.2h0M129.3 508.8h0M117.3 528.2h0M131.1 504.5h0M113.7 541.5h0M122.1 513.1h0M113.8 520.9h0M115.4 554.6h0M126.7 538.9h0M112.9 540.2h0M119.2 510.5h0M115.4 548h0M128.4 513.9h0M113.2 559.1h0M118.3 552.2h0M128.6 534.4h0M125.2 547.4h0M125.5 525.8h0M131.2 540h0M112.1 494.4h0M124.8 559.1h0M126.4 545h0M126.4 495.7h0M125.7 503.2h0M113 528.1h0M113.3 542.2h0M126.9 496.2h0M123.7 557h0M116.8 510.9h0M111.8 559.6h0M122.2 541.4h0M113.4 521.4h0M126.4 512.2h0M118.3 492.2h0M127.6 491.6h0M113.5 532.2h0M121.4 543h0M113.6 553.1h0M127.1 512.4h0M122.7 555.3h0M116.2 507.3h0M130.7 555.5h0M125.1 553.9h0M118.3 496.6h0M124.5 568.6h0M125.5 563.8h0M127.9 569.4h0M116.8 563h0M113.2 569.8h0M120.9 560.6h0M115 567.3h0M112 562.9h0M129.8 564.2h0M124 566.4h0M119.8 560.5h0M114.3 562.2h0M126.7 561h0M122.2 567.4h0M115.1 562.2h0M131 565h0M130.4 563.3h0M130 562.4h0M128 569.4h0M122.1 565.1h0M112 573.6h0M126.8 577.8h0M125.4 571.8h0M128.2 577.4h0M114.6 570.8h0M116.3 570.2h0M123.4 578.6h0M130.1 574.1h0M120.9 578.4h0M115.6 579.4h0M123.4 580h0M130.6 577.4h0M128.8 580.2h0M129.4 577.9h0M119.7 581.1h0M116.8 580.8h0M128.8 570.5h0M127.2 573.2h0M128.5 574.7h0M119.3 573h0M117.3 572.1h0M116.4 580.5h0M128.8 570.3h0M129.8 572.2h0M118.9 579.1h0M128.9 572.7h0M119.2 573.1h0M120.5 581.6h0M122.8 579.2h0M116 575.4h0M116.9 571.6h0M116.9 573.2h0M116.7 581.8h0M121.8 579.5h0M113.6 570.8h0M127.1 578.5h0M115.1 574.5h0M120.4 578.6h0M124.3 573.5h0M114.3 571.6h0M119.7 570.2h0M122.8 573.5h0M122.5 580.3h0M129.3 580.7h0M127.1 578.2h0M114 579h0M128.1 572.3h0M122.5 574.3h0M125 580.8h0M114.8 581.8h0M120.9 575.3h0M125.5 579.3h0M127.4 581.2h0M127.6 582h0M115.9 573.5h0M128.1 577.8h0M122.9 574.7h0M124.8 575.6h0M128.5 575.5h0M119.6 573.3h0M200 538.9h0M202.3 528.3h0M202.5 532.2h0M204.5 545h0M203 533.6h0M194.3 544.1h0M198.9 536.4h0M212.6 531.8h0M194.1 528h0M208.1 531.7h0M199.8 551.7h0M196 554.9h0M205.4 549.7h0M210.3 550.2h0M205.5 552.2h0M196.6 557.7h0M201.6 549.6h0M198.9 546.2h0M193.9 545.5h0M212.7 557.3h0M204.5 566.8h0M207.7 561.3h0M210.3 574h0M195.4 575.7h0M203 572.9h0M205.6 563.3h0M194.7 562.2h0M209.2 567.9h0M207.8 568.9h0M212.1 573.9h0M201 575.4h0M202.9 574.5h0M211.7 564.8h0M201.7 569h0M210.1 561.1h0M201.9 567.8h0M200.3 560.2h0M199.1 560.9h0M197.8 561.1h0M202.1 564.1h0M196.8 564.3h0M210 571h0M212.9 560.3h0M195.5 560.9h0M194.7 570.2h0M193.7 570.4h0M212.1 571.1h0M195.1 571.2h0M207.1 570.3h0M199.6 568.4h0M197.5 571.6h0M198.5 560.4h0M207.3 562.6h0M194 571.6h0M210.7 562.3h0M204.8 568h0M198.3 563.4h0M197.7 566.3h0M206.6 573.2h0M206.1 570.2h0M199.9 566.6h0M200.2 563.7h0M202.8 572.7h0M211.6 570.2h0M204.3 566.5h0M210.2 573.8h0M206.3 570.8h0M204.7 575.7h0M203.3 570.3h0M207.1 574.3h0M209.8 578.5h0M211.8 579.6h0M212.8 576.9h0M209 577.6h0M193.7 580.4h0M196.6 578h0M205.2 580.2h0M212.5 580.7h0M195.2 578.9h0M203.8 576.5h0M201.5 579.8h0M201.7 579.3h0M198.9 577.5h0M199 580.3h0M198.3 578.4h0M195.6 576.3h0M204.6 576.3h0M202.4 577.1h0M207.7 579h0M206.3 580.1h0M212.5 576.5h0M200.3 576.1h0M211.1 579.1h0M201.2 578h0M206.7 578.2h0M197.3 378.9h0M199 482.9h0M199.3 501.5h0M210.8 501.8h0M206.5 506.4h0M207.9 512.1h0M195.9 519.8h0M277.6 342.8h0M293.7 345.6h0M283.8 336.6h0M292.4 350h0M289.4 342h0M277.3 348.9h0M282.8 336.1h0M282.2 336.8h0M282.8 384.1h0M289.4 390.1h0M281.1 376.7h0M289.7 393.5h0M283.8 384.5h0M284.2 407h0M289.7 399.7h0M294.4 400.1h0M278.9 416.5h0M280.3 409.4h0M287.7 405.6h0M283.7 414.4h0M281.8 417.8h0M285.6 399h0M289.4 419.9h0M293.6 395.4h0M294.2 410.3h0M291.8 401.6h0M282.5 401.3h0M293.1 407.4h0M289.7 410.1h0M289.7 424.4h0M283.3 443.8h0M278.5 426.2h0M287.6 437.1h0M279.8 437.4h0M282.9 442.7h0M286.4 436.7h0M294.7 444.6h0M278.5 421.5h0M277.1 420.9h0M286.3 424.9h0M294.3 434.4h0M276.5 430.6h0M288.3 422.1h0M276.1 425.1h0M286.5 434.5h0M278 430.1h0M288.7 439.1h0M282.7 431.7h0M288.6 441.9h0M280.7 439h0M277.1 432.4h0M279.2 428.9h0M281 425.3h0M278.9 427.3h0M279.5 428.9h0M286.4 429h0M284.3 424.5h0M291.9 431.8h0M285.5 422.8h0M286.3 441.7h0M289.7 433.8h0M292.5 422.4h0M287.2 428.2h0M276.3 426.4h0M284.7 423.9h0M276.2 432h0M287.6 424.6h0M276.9 423.8h0M286.3 437.6h0M278.6 430.7h0M292.5 436.8h0M277.5 431.7h0M288.7 432.6h0M289.5 427.8h0M281 430.7h0M287.3 432h0M282.1 428.6h0M280.7 440.7h0M280.7 426.2h0M275.9 425.5h0M288.9 428.6h0M277 439.6h0M279.5 441.2h0M277.3 434.1h0M291.5 429h0M286.1 436.2h0M284.9 440.7h0M287.1 426.1h0M291.6 436.7h0M290.1 494.9h0M283.9 486.1h0M285.5 470.1h0M280.5 486.3h0M280.6 524h0M276.6 490.6h0M293.5 483.2h0M276.2 516.1h0M278.3 449.4h0M289.9 450.1h0M284.7 508.2h0M285.7 520.4h0M281.4 449.1h0M278.8 446.9h0M291.4 445.8h0M278.1 491.2h0M281.5 456h0M290.5 489.9h0M281.5 498.1h0M294.4 446.2h0M279.1 514.6h0M286 465.2h0M286.3 489.3h0M285.5 473.3h0M290.9 472.5h0M276.5 477.3h0M286.4 445.3h0M291.2 479.3h0M276.6 466.2h0M286.4 473.6h0M284.3 458h0M283.6 471.8h0M286.2 501h0M288 523.7h0M289.5 460.8h0M293.4 514.3h0M288.6 494.2h0M295.4 453.1h0M288.8 446.2h0M280.9 515.7h0M278.5 463.7h0M277 453.5h0M280.9 497.4h0M278 501.5h0M289.1 516.6h0M289.3 485h0M287.7 470h0M283.2 470.5h0M284.8 461.4h0M280.7 495.8h0M293.8 520.4h0M275.9 451.8h0M281.9 475.9h0M286.9 473.1h0M279.2 451.4h0M292.5 492.6h0M285.1 523.6h0M282.9 467.1h0M276.8 503.2h0M281.2 517h0M287.3 466.7h0M281.2 518.5h0M276.5 504.9h0M287.1 496.7h0M281.6 460.5h0M292.4 467.2h0M289.3 453.1h0M289.9 516.7h0M293.2 509.7h0M291.6 451.9h0M282.1 487.5h0M286.9 462h0M280.7 506.2h0M279.6 490.9h0M279.7 520.6h0M277.8 503.2h0M280.3 453.1h0M280 474.8h0M288.9 491.1h0M280.6 517.9h0M276.5 474.7h0M283.9 460h0M279.6 467.7h0M289.2 464.9h0M280 457.4h0M286.6 472.5h0M279.1 464.9h0M285.1 485.8h0M292.8 516.5h0M281.6 521.3h0M286 457.8h0M284.3 490.6h0M277 498.9h0M276 457.2h0M292.3 487.5h0M282.3 461h0M289.2 474.1h0M283.8 470.9h0M292.2 510.2h0M279.5 463.7h0M285.2 488.2h0M286.5 491.8h0M291.3 471.4h0M276.2 519.4h0M282.8 471.6h0M285 471.1h0M287.3 500.4h0M278.4 484h0M286.4 503h0M289.3 457.2h0M290.1 456.8h0M280 503.9h0M284.3 476.1h0M281.5 513.6h0M283.3 463.7h0M282.8 464.2h0M294.3 514.1h0M275.9 473.9h0M294.4 453.8h0M276.3 462.6h0M277.1 506.6h0M279.7 466.2h0M281.3 489.5h0M292.6 511.8h0M292.3 493.8h0M294.1 505.2h0M283.3 523.2h0M275.9 468.9h0M288 515.1h0M293.4 489.1h0M277.7 461.1h0M292 455.6h0M275.6 471.2h0M290.1 456h0M285.4 506.7h0M293.6 489.6h0M292.9 448.5h0M276.5 515.3h0M285.5 492.7h0M280.4 480.4h0M284.3 456.3h0M276.9 482.6h0M282.7 518.4h0M283.7 491.8h0M275.7 481.7h0M285 493.6h0M293.3 489h0M276.8 494.9h0M294.3 460.9h0M285.3 456.9h0M279.8 446h0M294.8 511.5h0M285 445.3h0M284.3 465.5h0M283.1 491.8h0M293.1 485h0M278.2 517.1h0M279.8 462.1h0M281.2 454.1h0M276.8 457.8h0M292.3 484.8h0M285.3 468.3h0M287.5 481.4h0M293.1 500h0M285.4 470.7h0M281.1 498.2h0M286.1 446.6h0M285.5 488.7h0M281.5 517.6h0M280.2 519.7h0M282.7 490.7h0M290.2 523.6h0M278.9 463.8h0M295.3 468.8h0M280.3 480.8h0M281 485.7h0M278 510.6h0M283.4 480.8h0M283 448.8h0M289.1 501h0M293.3 462.8h0M280.5 515.6h0M291.6 462h0M281.7 468.7h0M283.7 456h0M278.1 469.2h0M293.3 493.1h0M283 466.4h0M289.5 448.9h0M276.1 491.9h0M289.4 503.8h0M280.1 453.7h0M284.5 478.9h0M288.9 450.5h0M279 446.4h0M286 475h0M292.1 467.9h0M278.8 515h0M284.9 446.1h0M279.2 496.7h0M276.5 533.2h0M279.4 552.9h0M291.2 551h0M290.8 561.7h0M294.9 573.9h0M283.2 565.3h0M276.5 544.2h0M291.6 552.7h0M281.3 563.4h0M290.9 572.8h0M276 563.9h0M276.3 553.6h0M287.4 532.6h0M289.1 574.5h0M286.7 541h0M286.1 548.1h0M287.4 575.4h0M278.2 536.8h0M276.9 577.1h0M282.5 538.1h0M286.4 530h0M280.5 554.3h0M279.1 570.3h0M284.4 547.9h0M283.7 573h0M280.9 547.6h0M294 571.5h0M294.3 531.4h0M276.5 541.2h0M285.1 532h0M280.3 567.2h0M282.3 551.8h0M276.2 562.4h0M277.2 538.6h0M276.3 566.9h0M278.1 581.6h0M288.5 529.5h0M277.2 543.2h0M293.1 574.6h0M291.5 573.5h0M280.9 574.7h0M289.3 537.9h0M294.4 557.1h0M277.9 529.9h0M286.7 549.6h0M284.8 557.8h0M281.7 539.7h0M281.3 549.1h0M277.3 545.9h0M288.4 529.8h0M279.5 528.9h0M284 569.5h0M294 525.2h0M282.5 581.2h0M281.9 576.1h0M294.1 581.3h0M287.2 569.8h0M286.9 525.1h0M280 531.6h0M288.3 543.2h0M283.1 535.3h0M286.4 528.4h0M283.5 577.3h0M277.2 576.9h0M293 568.7h0M289.3 539.4h0M294.6 573.6h0M281.7 571.7h0M281.2 543.4h0M278.3 532.3h0M281.7 532.7h0M282 548.3h0M279.2 572.4h0M280.8 529.4h0M281.4 549.5h0M292.6 545.2h0M284.4 575.9h0M291.8 533.7h0M276.6 562.4h0M279.3 543.4h0M294.5 561.9h0M276.6 571.9h0M277 572h0M285.9 573.2h0M281.3 541.7h0M279.4 540.7h0M287.7 532h0M287.7 539.6h0M279.3 531.8h0M286.3 569.7h0M367.6 448.2h0M373.6 572.3h0M369.5 536.7h0M457 547.4h0M444.3 574.3h0M445.8 549.9h0M453.3 552.9h0M456.6 567.1h0M457.1 555.1h0M456.2 574h0M453.7 575.7h0M443.1 574.9h0M445.8 576.7h0M446.3 573.6h0M455.8 380.9h0M455.6 459.3h0M451.7 468h0M449 524h0M519.5 576.9h0M608.2 488h0M614.8 482h0M609.8 490h0M609.4 489.9h0M613.9 499.3h0M604.5 478.5h0M620.3 483.9h0M605.2 480.9h0M611.9 482.1h0M622.6 484.3h0M607.3 485.5h0M605 499h0M613.2 484.6h0M615.9 488.1h0M611.3 480.8h0M608.3 482.1h0M607.7 513.8h0M612.9 511.8h0M616.6 506.9h0M605.8 512.3h0M608.9 516.8h0M620.6 510.3h0M605 507.8h0M606.3 512.3h0M619.5 510.1h0M616.8 502h0M613 518.1h0M620.2 502.5h0M608.1 514.9h0M604.3 508.7h0M619.3 515.7h0M616.1 510.5h0M610.5 516.4h0M615 509.4h0M605.7 504.9h0M610 515.4h0M614.8 516.6h0M619.9 510.1h0M610.1 518.6h0M605.3 514.2h0M605.8 518.7h0M609.9 503.9h0M615.8 518.9h0M617.3 515.4h0M617.1 518.9h0M620.5 507h0M616.9 511.1h0M616.7 517.9h0M615.2 513.4h0M616.6 505.8h0M617.8 505.8h0M622.4 518.9h0M607.5 513.4h0M616.2 501.1h0M606.5 505.2h0M608 511.1h0M615 538.5h0M614.8 528.1h0M621.3 531.3h0M615.8 524.2h0M610.7 530.2h0M619 520.5h0M607.2 531.6h0M618.6 539.1h0M614.9 533.7h0M609 533.3h0M618.2 531.1h0M606.3 526.4h0M604.9 535.5h0M609.3 527.8h0M613.6 526.7h0M615.9 530.9h0M610 539.5h0M615 534.7h0M622.4 533.5h0M622.8 522.6h0M617.6 536.2h0M609.8 528.5h0M613.1 532.6h0M619.2 531.2h0M620.7 535.7h0M621.9 520.6h0M611.4 522h0M610.5 525.6h0M610.4 524h0M618.8 533.6h0M622 522.3h0M614.7 521.8h0M612.4 530.6h0M616.6 521.3h0M612 535.9h0M614.8 526.6h0M607.7 526h0M606 531.9h0M611.7 539.5h0M609.2 525.7h0M607 524.5h0M622.1 527.4h0M617.2 535.6h0M611.4 538.7h0M622.6 523.1h0M606.2 520.6h0M610.7 526.1h0M620.6 526.4h0M622.2 534.9h0M618.9 533.6h0M607.7 534.9h0M614.7 527.9h0M605.5 528.6h0M605.4 538.8h0M620.3 521h0M604.2 520.4h0M606 520.3h0M606.2 536.3h0M617.4 530.4h0M615.9 533.9h0M608.2 533.1h0M611.8 536.3h0M621.9 530.6h0M608.1 526.6h0M605.5 522.2h0M616.2 528.2h0M606.2 523.9h0M614.5 538.5h0M608.9 535.3h0M604.8 525.7h0M616.4 530.2h0M618.2 529.4h0M610 532.1h0M607.1 538.9h0M622.4 525.5h0M608.8 532.3h0M608.8 530.1h0M611 539.1h0M608.7 524.4h0M608.8 533h0M621.4 521.8h0M605.7 530.9h0M619.7 539.2h0M614.1 534.4h0M604.9 520.6h0M607 539.7h0M616.4 530.8h0M614.6 531.6h0M608.7 538.9h0M609.6 531.7h0M621.4 524.4h0M617.9 528.6h0M616.5 535h0M621.4 527.9h0M608.5 523.4h0M610.3 527.8h0M619.8 522.1h0M612.4 522h0M612.5 522.4h0M619.3 530.2h0M622.8 526.4h0M620.7 523.6h0M618.5 534.8h0M612.5 532.2h0M617.3 536.4h0M608.4 523.2h0M608.9 532.4h0M608 525.3h0M616.9 529.9h0M621.8 528.9h0M622.7 554.4h0M621 545.1h0M617.9 552.5h0M611.3 546.7h0M610.6 555.7h0M617.2 549.2h0M610.6 544.7h0M618.4 545.5h0M617.8 541.6h0M606.4 546.9h0M619.2 546.4h0M605.9 548.7h0M610.1 552.5h0M622.3 557.6h0M616.3 555.5h0M620.1 550.9h0M621.4 546.9h0M609.1 543.2h0M619 551.2h0M611.1 541.2h0M605.4 541h0M606.2 552.2h0M606.5 543.1h0M615.9 556.1h0M616.1 552.7h0M620 550h0M609.7 557.8h0M618.4 542.5h0M609.2 545.9h0M610 549.6h0M616.4 558.3h0M611.5 541.5h0M622.8 551.4h0M610.1 557.5h0M608.6 542.8h0M620.6 553.4h0M620.4 553.1h0M607.2 546.8h0M610.5 550.2h0M613.7 557.8h0M605.4 548.9h0M611.1 548.7h0M618.5 550.7h0M618.5 540.6h0M607 555.4h0M609.8 541h0M609.2 558.6h0M616.9 558.4h0M606.7 555.6h0M622.5 557h0M606.4 551.7h0M614 545.8h0M617.3 551.5h0M621.8 552.9h0M615.6 542.7h0M620.1 554.7h0M614.1 545.8h0M608.3 549.7h0M612 545.1h0M615.5 545.4h0M614.1 556.7h0M618.8 554.6h0M614.2 541.2h0M611.3 554.7h0M613.8 557.6h0M613.9 553.4h0M604.4 553.2h0M610.3 545h0M614.9 553.3h0M617.5 547.2h0M612.2 557.5h0M618.1 553.4h0M613.6 546.1h0M611.1 556.8h0M608.7 554.7h0M619 543.8h0M621.3 544.1h0M617.8 540.2h0M608.3 554.6h0M617.3 541.6h0M613.6 545.2h0M621.4 554h0M604.3 545.8h0M618.6 545.4h0M612.9 541.3h0M620.1 541h0M615.5 550.9h0M604.3 542.6h0M617.1 558.3h0M614.1 540.5h0M608.7 546h0M606.5 543.5h0M611.6 557.1h0M614.6 554.3h0M613.1 542.1h0M604.5 541.1h0M607 541.6h0M616.9 554.1h0M614.4 554.2h0M618 552h0M611.9 549.3h0M609 548.8h0M619 551.3h0M608.3 542.1h0M605.3 555.1h0M611.1 554.8h0M612.6 552.9h0M608.1 544.5h0M622 544.1h0M608.5 558.6h0M606.5 558h0M616.5 554.2h0M606.9 554.9h0M609.4 548.7h0M611.9 556.7h0M609.3 553.1h0M616.4 548.3h0M606.8 552.9h0M616.2 541.5h0M606.4 547.5h0M615 556h0M622.4 549.1h0M618.8 550.6h0M621.8 550.7h0M614.4 557.9h0M607.1 543.8h0M611.1 552.9h0M618.6 548.5h0M606.7 544.5h0M616.6 540.9h0M610.2 551.6h0M621.3 543.5h0M610.7 551.1h0M610.2 548.2h0M609.3 547.7h0M614.2 556.9h0M621.9 541.7h0M614.3 550.7h0M618 547.9h0M613.9 542.9h0M605.7 547.5h0M615.1 556.5h0M615.3 543.8h0M615.3 552.9h0M609.8 545.1h0M609.2 549.9h0M610.3 550.5h0M604.8 541.4h0M607.2 555.4h0M609.5 547.2h0M613.7 544h0M621.2 543.9h0M617.2 558.7h0M613.8 557.9h0M617.5 548.9h0M612.5 545.1h0M605.1 553.5h0M617 541h0M617.3 556.3h0M616.4 540.1h0M620.1 540.9h0M618.7 546.3h0M619.6 548.7h0M605.1 540.1h0M622.8 545.4h0M615.1 558.7h0M615.2 554.7h0M615.6 541.1h0M609.2 556.7h0M609.8 548.8h0M620.5 558.8h0M615.4 546.1h0M622.1 545.9h0M608.1 552.9h0M615.1 549.3h0M615.4 545.3h0M604.9 550h0M615.8 552.1h0M611.3 545.9h0M612.2 555.7h0M607.7 554.2h0M615.3 554.3h0M616.7 552.5h0M620.8 544.4h0M619.9 553.4h0M622.4 543.3h0M622.4 542.7h0M617.2 549.6h0M609.4 543.3h0M614.2 542.4h0M605.8 551.3h0M614.7 558.5h0M609.9 541.1h0M614.2 548.4h0M618.2 541.7h0M605.3 550.2h0M620.5 550.9h0M604.9 549.3h0M613.3 540.7h0M608.3 553.3h0M604.9 549.6h0M613.1 550.9h0M609.1 552.7h0M605.7 557.2h0M619.5 548.3h0M608.8 557.3h0M621.7 543.3h0M615.5 548.6h0M610.8 543.4h0M605.3 547.1h0M620.1 557.2h0M606.2 558.5h0M618.6 549h0M614 545.3h0M612.7 546.1h0M605.7 557.1h0M612 548.3h0M604.5 543.8h0M618.4 555.9h0M617.4 549.7h0M606.7 548.1h0M613.7 557.2h0M607.5 554.2h0M617.4 540.3h0M607.7 558.4h0M607.4 548.6h0M609.5 543.4h0M622.3 557.3h0M619.4 548h0M611.7 553h0M619 554.3h0M610.9 543.7h0M607.7 558.7h0M620.9 550.7h0M604.9 541.1h0M619 550.2h0M622.1 540.3h0M605.8 558.6h0M620.2 552.7h0M618.7 547.2h0M605 555.2h0M612.5 555.1h0M609 553.3h0M611.3 544.5h0M611.3 541.8h0M611.5 556.3h0M604.4 556.9h0M609.2 546.6h0M609.6 547.3h0M616.3 547.7h0M617.1 545.3h0M618.2 557.8h0M616 550.1h0M620.8 553.5h0M614.5 551.5h0M610 541.7h0M604.9 541.4h0M617.7 542.8h0M614.7 549.4h0M607.2 551.9h0M613.4 568.8h0M609.4 578.7h0M610.5 570.9h0M612.8 564.1h0M612.1 575.6h0M609.6 566.1h0M609.9 557.3h0M610 558.8h0M607.8 579.1h0M615 559.2h0M605.9 575h0M608.8 557.7h0M607.4 566.7h0M617.3 563.5h0M609.4 564.9h0M606.1 559.1h0M619.5 566.2h0M612.3 574.5h0M619.2 569.1h0M610.2 560h0M610.6 575.5h0M614.6 577h0M605.5 567.5h0M622.4 565.3h0M606.7 557.4h0M621.2 558.6h0M616.5 565.6h0M618.4 559.6h0M608.1 579.3h0M620.8 571.8h0M614.2 564.2h0M611.9 570.5h0M607.8 560.9h0M607.4 578.1h0M620.2 568.5h0M622.2 573.1h0M612 561.2h0M617.7 567.9h0M617.2 573.4h0M613.4 565.9h0M613.1 558.5h0M614.5 567.8h0M610.6 576h0M618.1 567.6h0M612 579.5h0M613.6 569.9h0M607.6 577.3h0M622.3 557.7h0M605.6 571.5h0M617.5 568.7h0M616.5 565.2h0M610.6 577.7h0M622.4 559.1h0M604.9 568.2h0M609.3 564h0M610.5 579.1h0M616.1 575h0M615.2 561.6h0M617.4 559.9h0M620.2 557.5h0M604.6 561.1h0M614.6 578.4h0M611.7 577.1h0M617 575.4h0M614 566.2h0M610.7 568.1h0M604.3 570.2h0M610 575.6h0M612.5 557.1h0M610.5 561.2h0M611.3 570.4h0M616.3 560.3h0M610.4 578.6h0M620 558h0M610.9 579.4h0M612.3 561.9h0M612.3 561.5h0M621 566.8h0M615.4 571.7h0M622.1 579.5h0M604.3 568h0M622 577.7h0M607.8 577.5h0M620.9 579.6h0M605 565.3h0M620.1 567.9h0M616 557.5h0M616.9 565.8h0M611.5 565.1h0M611.4 559.9h0M607.1 576.1h0M606.8 563.4h0M615.8 560h0M610.6 559.7h0M604.7 557.6h0M607.4 574.4h0M607.4 569.2h0M607.8 569h0M612.6 566.5h0M621.1 579.2h0M615 565.7h0M618 567.9h0M606.2 572.9h0M617.1 578.4h0M620.3 576.7h0M622.7 577.3h0M617.4 561.2h0M615.5 578.7h0M622.1 575.9h0M606.6 564.6h0M618.9 575.5h0M617.6 578.9h0M617.7 574.1h0M610.8 574h0M605.7 576.3h0M606.8 577.2h0M616.8 575h0M610 558.8h0M621.9 561.8h0M606.5 559.8h0M619.3 567.7h0M613.1 558.5h0M609.7 569.7h0M608.9 578.3h0M610.8 579.6h0M611 557.9h0M608.4 572.7h0M608.3 560.3h0M622.3 576.8h0M612 557.7h0M615.8 559.4h0M617.3 564.4h0M610.4 557.1h0M621.6 572.2h0M609.7 561.7h0M607.8 573.6h0M605 578.8h0M609.1 567.8h0M605.3 567.8h0M615.9 579.9h0M614.9 564.2h0M604.6 577.4h0M621.9 573.4h0M617.8 557.2h0M614.4 563.8h0M621.8 573.6h0M614.1 558h0M607.5 576.7h0M618.7 578h0M622 574.5h0M605.3 575.7h0M613.6 570.7h0M608.4 575.6h0M621 567.8h0M606 566.4h0M619.2 573.2h0M608 567.7h0M616.1 564.1h0M617.1 563.1h0M618.3 567.1h0M605.2 565.8h0M613.2 574.3h0M606.5 575h0M606.6 575.4h0M607.2 576.4h0M607 565.3h0M621.6 565.5h0M614.6 576.3h0M608.9 561.1h0M613.2 573.1h0M605.2 569.1h0M608.2 572.3h0M615.9 573h0M617.1 572.4h0M615.7 562.4h0M622.5 557.5h0M622.4 578.9h0M619.7 577.6h0M612.9 568.6h0M618.3 572.2h0M608.8 559.1h0M620.3 567.5h0M608.7 570.5h0M622.6 573.1h0M604.5 562h0M619 559.1h0M613.5 579.1h0M619.4 576.5h0M613.9 561.1h0M619.7 575.9h0M617.4 575.7h0M616.1 561.2h0M621.9 575.5h0M606.4 565.8h0M621.4 564.7h0M613.9 560.7h0M617.4 570.6h0M616.6 571.1h0M611.5 568.8h0M614 559.3h0M622.3 575.3h0M613.3 564.3h0M621.2 563.1h0M604.4 571.7h0M614.9 561.2h0M617 577.9h0M611.6 571.9h0M605.7 575.2h0M618.9 564.8h0M618.2 566.9h0M611.3 562.8h0M606 562.8h0M619.8 566.5h0M618.6 575.1h0M619.7 568.6h0M619.4 576.2h0M609.1 559.6h0M615.8 563.7h0M612.9 557.8h0M611.5 578h0M611.8 558.4h0M616.7 569.5h0M622.8 572.5h0M613 561.7h0M611 579.5h0M615.9 579.6h0M615.9 562.5h0M611.8 560.2h0M616.2 571.9h0M616.4 568.8h0M618.1 570.9h0M607.3 571.2h0M616.3 579h0M612 574.7h0M620.6 564.2h0M615.7 574.2h0M619.3 567.3h0M619.3 579.4h0M608.2 568h0M605.6 557.3h0M618.3 578.1h0M605.2 563.4h0M621.8 575.9h0M617 571.1h0M612.1 574.1h0M616.7 574h0M606.7 577.8h0M616.1 576.2h0M621.3 571.8h0M604.2 564.5h0M614.6 469.7h0M606.8 452.5h0M607.7 433.3h0M616.3 421h0M609.4 374.6h0M620.3 348.2h0M113 858.4h0M107.5 862.8h0M110.3 856.7h0M117 857.4h0M108.4 864.5h0M112 862.6h0M115.4 858.3h0M107 858.8h0M106.7 859.9h0M120.9 858.1h0M119.3 857.3h0M119.6 864.7h0M114.2 857.9h0M113 862.7h0M106.1 862.5h0M108.4 862.6h0M106.2 858.7h0M113.5 858h0M111.8 861.5h0M107.2 865h0M106 859.5h0M114.2 858h0M120.5 865.1h0M119.3 864.1h0M107.3 865.8h0M113.2 870.4h0M116.5 869.3h0M115.4 868.1h0M110.5 865.8h0M104.9 867.7h0M119.7 864.1h0M117.7 866.6h0M119.2 867.8h0M110.9 864.7h0M108.5 868.6h0M118.9 867.5h0M115.6 864.4h0M115.8 865.2h0M104.8 867.9h0M106.1 871.2h0M117.6 864.5h0M119.5 868.5h0M110.4 866.3h0M119.3 867.1h0M107.3 871.4h0M114.3 869h0M110.3 866.3h0M113.5 867.6h0M107.7 871.9h0M110.9 870.9h0M112.2 867.4h0M114.3 868.2h0M107.8 867.7h0M114.7 865.2h0M107.9 871.7h0M121.1 865.8h0M108.4 865.8h0M106.1 864.9h0M108.9 871.5h0M114.1 871.3h0M112 869.1h0M115.7 868.2h0M106.2 868.6h0M111.4 867h0M113.9 871.1h0M121.1 868.5h0M119.6 870.8h0M114.1 869.6h0M109.4 869.4h0M106.2 869.4h0M115.2 870.2h0M114 870.5h0M112.5 869.5h0M116.7 866.6h0M112.3 866.1h0M117.7 865.6h0M109.2 870.8h0M109.9 867.9h0M120 864h0M114.3 868.8h0M120.8 870.9h0M105.3 871.3h0M106.3 876.5h0M105.8 871.3h0M108.6 875.5h0M107.1 874.5h0M108.7 871.7h0M116.3 872.8h0M115.9 873.9h0M104.7 874.3h0M119.1 873.9h0M118.4 871.2h0M120.6 877h0M108 873.1h0M116.9 875.3h0M113.9 876.6h0M116.5 876.8h0M119.9 872.1h0M105.7 876.4h0M118.8 874.1h0M119.1 874.9h0M115.4 872.5h0M111.2 871.9h0M113.6 874.5h0M106.7 876.4h0M117.1 873.5h0M113.8 876.7h0M114.2 875.2h0M116.5 871.1h0M106 876.6h0M105.1 871.7h0M106.3 872.3h0M105.6 874.4h0M118.1 876.6h0M106.5 871.8h0M110.8 872.8h0M115.6 871.3h0M108.7 871.5h0M120 873.6h0M120.1 874.5h0M111 874.1h0M114.4 871.3h0M117.8 873.6h0M121.2 873.7h0M116.2 876.6h0M112 873h0M105 874.8h0M115.4 873.9h0M115.7 875.7h0M116.2 874.6h0M110.3 877h0M119.2 874.8h0M114.5 873.1h0M110.8 873.5h0M108.5 876.1h0M104.8 873.2h0M116.6 876.6h0M109.7 873.6h0M119 876.7h0M109.8 871.9h0M109.5 875.7h0M117.8 873.7h0M110.8 872.4h0M121.3 874.5h0M114 871.4h0M120.5 872.2h0M106.4 876.1h0M105.1 874.1h0M104.5 873h0M119.4 871.9h0M112.5 872h0M116.9 872.4h0M113.3 873.8h0M121 871.1h0M118.3 872.2h0M112.5 873.6h0M107.4 876.3h0M110.9 876.2h0M111 876.6h0M110.5 872.4h0M116.6 871.7h0M118.7 876.1h0M118.6 875.2h0M107.7 872.5h0M107.2 873.6h0M115.8 876.5h0M116.9 875.9h0M117.8 876.6h0M119.9 874h0M110.1 872.2h0M105.4 874.2h0M110.7 871.7h0M109 879.1h0M117.2 876.4h0M109.4 883.5h0M111.5 881.4h0M105.6 882.8h0M106.6 885.9h0M112.9 882.2h0M118.7 886.1h0M118 885.2h0M107 881.6h0M113.6 882.7h0M109.6 880.9h0M107.8 879.8h0M110.6 884.1h0M116 882.5h0M120.3 879.6h0M105.9 883.2h0M109.3 881.7h0M117.2 876.4h0M112.9 884.3h0M111 881.2h0M118.1 886.6h0M104.6 886.2h0M120.6 876.4h0M109 878.3h0M118.9 883.7h0M118.7 877.5h0M118.7 885.3h0M115 883.4h0M115.5 886.9h0M105.1 879.4h0M111.6 883.6h0M115.1 882.5h0M109 883.5h0M116 886.9h0M113.8 879.4h0M115.8 877.9h0M119.1 885.1h0M110 876.9h0M115.1 881.9h0M105.1 886.6h0M118 885.6h0M118.4 883.6h0M116.2 875.2h0M116.2 887.2h0M113.9 880.7h0M109.9 878.6h0M118 875.8h0M106.5 876.8h0M114.3 875.6h0M106.1 882h0M117.1 879.8h0M112.9 878.7h0M115.2 885.2h0M107.2 876h0M111.4 880.3h0M115.7 885h0M111.9 885.4h0M116.8 883.9h0M105.7 881.6h0M110.4 877h0M106.1 879.9h0M117 884.1h0M111.1 884.8h0M117.2 882.6h0M117.3 886.2h0M104.9 882.1h0M115 885.6h0M118.2 886.3h0M120.1 877.1h0M105.8 876.8h0M105.8 887.3h0M111.9 878.7h0M117.2 880.6h0M106.2 880.3h0M121.5 885.6h0M116.6 875.2h0M104.5 881.1h0M117.1 880.8h0M111.7 876.2h0M107.3 880.6h0M115.7 885.9h0M116.6 875.6h0M115 878.1h0M108.6 882.6h0M107.4 881.8h0M105.3 884.5h0M107.1 879.3h0M110.5 876.5h0M110.1 879.6h0M105.5 885.4h0M118.9 880.4h0M107.5 880h0M105.6 884.8h0M107.9 882.3h0M111.9 876.7h0M115.1 879.8h0M105.7 886.4h0M106.9 875.4h0M104.7 884.5h0M111.1 878.9h0M121.5 884.4h0M117.8 877.1h0M119 883.2h0M120.1 885.7h0M108.1 875.8h0M115.4 887h0M111.5 876.3h0M110.5 875.2h0M117.4 885.3h0M114 881.4h0M115 875.4h0M108.9 883.2h0M120.5 881.4h0M115.6 887.4h0M115.1 887.2h0M117.4 886h0M120.1 881.5h0M107.3 885.2h0M108.8 884.2h0M107.4 764.9h0M111.8 779.2h0M106.5 792.4h0M113.4 820.5h0M113.7 845.9h0M107.4 851.7h0M111 851.7h0M118 858h0M119.5 856h0M183.6 844.6h0M179.6 847.9h0M189.7 849h0M188.9 842.6h0M192.3 841.1h0M187.6 850.7h0M183.3 850.8h0M192 854.8h0M182.9 847.6h0M189 841h0M180 841.2h0M181 854.6h0M186.7 851h0M181.3 842.5h0M179.7 866.2h0M193.2 861.7h0M187.9 867.1h0M179.7 862.8h0M176.5 862.5h0M192.3 861.6h0M187.9 857.5h0M188.8 859.6h0M183.4 866.6h0M177.8 863.8h0M184.5 865h0M187.4 860.4h0M181 857.6h0M192.8 865.3h0M189.6 860.4h0M176.6 865.1h0M181.3 855.9h0M191.8 859.6h0M189.2 863.5h0M190.1 867.1h0M185.1 868.3h0M187.5 873.2h0M176.8 871.6h0M180.9 869.8h0M185.5 871.8h0M188 868.7h0M188 873.3h0M187.7 867.6h0M177.5 868.9h0M177.2 872h0M191.1 869.9h0M178.8 873.2h0M182.5 872.8h0M190.8 871.8h0M177 869.5h0M191.1 870.1h0M187.6 869.3h0M182.9 869.2h0M180.4 867.1h0M185.3 868.8h0M190.5 871.9h0M179.7 870.8h0M180.5 869.3h0M184.9 869.3h0M190.3 868.3h0M183.5 867.5h0M183.4 868.1h0M192.9 871.4h0M185.5 873.5h0M189.9 871.8h0M187.9 869.4h0M185.7 870.9h0M183.8 867.9h0M187.6 867.6h0M190.6 867.4h0M178.7 871h0M180.9 871.1h0M179.9 868.1h0M190.3 873.6h0M181.9 868h0M179.8 875.1h0M189.4 875.6h0M190.2 878.7h0M187.6 872h0M189.7 873.3h0M180.6 878.1h0M189.8 875.2h0M180.1 874.6h0M185 878.6h0M183.1 872.7h0M179.9 872.1h0M180.7 878.3h0M191.6 877.7h0M177.3 875.8h0M184.8 873.9h0M184.6 877.4h0M178.2 873.1h0M177.7 875h0M183.8 873.2h0M182.4 874.8h0M180.7 872h0M180.7 875.2h0M180.2 875.2h0M187.3 878.9h0M193.2 874.7h0M181.6 875.7h0M183.2 873.1h0M188.3 874h0M181.6 873.6h0M178.4 878.8h0M187.5 872.9h0M182.4 876.5h0M176.3 877.8h0M181.9 878.6h0M191.5 876.9h0M177.2 873.3h0M191.7 878.4h0M186.9 875.6h0M190.7 875.7h0M186 878.2h0M188.5 872.1h0M191.6 877h0M179.2 877.3h0M178.2 876.7h0M186.1 873.4h0M184.5 878.4h0M185.3 873.7h0M182.5 874.3h0M193.2 877.8h0M186.7 878.4h0M186.8 873.8h0M176.7 875.4h0M181 877.9h0M181.1 875.8h0M193.4 873.6h0M178.6 874.6h0M185 876.4h0M188.9 877.1h0M187 874.2h0M189.4 873.3h0M182.5 877.5h0M179.1 874.1h0M180.2 873.7h0M185.8 874h0M185.2 873.6h0M183.3 872.9h0M192.1 874.7h0M183.2 873.3h0M179.9 876.5h0M186.6 872.7h0M186.3 874.5h0M189.8 878.6h0M185.9 875.2h0M176.4 878.2h0M184.6 873.6h0M179.4 877.5h0M180.3 872.6h0M189.6 878.7h0M192.9 878.7h0M191.3 876.8h0M192.2 879.5h0M177.6 881.5h0M187.9 886h0M186.1 885.8h0M184.9 877.6h0M188.2 879.9h0M182.1 883.2h0M187.1 879.1h0M191.4 877.2h0M186.2 879.3h0M185.3 882.7h0M186.8 884.5h0M179.5 884.8h0M182 882.9h0M188.6 883.3h0M186.1 882.5h0M178.3 885.3h0M191.3 883.8h0M183.4 884.2h0M180.5 886.5h0M178.8 878.2h0M192.3 877.4h0M188.9 882.6h0M181.6 881.7h0M179.6 886.5h0M191 880.2h0M178.8 884.1h0M185.3 884.3h0M187.8 879.5h0M192.5 877.1h0M188.1 881.4h0M178.1 879.1h0M185.2 879h0M192 881.8h0M180.9 878.9h0M177.8 882.9h0M177.3 883.5h0M190.7 881.9h0M192.4 882.9h0M184.2 879.1h0M181.5 883h0M183.1 886h0M179.3 885.9h0M183.8 878.2h0M184.4 880.4h0M185.5 884.5h0M178.1 883.2h0M193.1 881.1h0M187.1 885.7h0M186.2 886.4h0M190.6 882.9h0M177.1 879.6h0M186.4 887.1h0M182.6 882h0M187.3 880.6h0M192.5 878.3h0M177.5 886.9h0M179.2 884.3h0M182.3 877.7h0M185.5 878.9h0M178.5 810.3h0M189 840.5h0M178.5 844h0M184 844h0M259.7 810.2h0M255.5 807.5h0M250.4 823.6h0M252.7 818.9h0M255.9 826.4h0M261 821.7h0M255.4 810.1h0M261.3 817.6h0M254.6 815.7h0M258.7 808.9h0M261.2 809.4h0M255.5 822.9h0M263 840.3h0M262.6 831.2h0M261 832.5h0M251.4 845h0M250.9 832.1h0M262.4 834.1h0M261.4 840.7h0M249.1 850.4h0M255.4 851.9h0M252.9 847h0M257.8 838h0M256.1 833.9h0M256.3 839h0M259 831.4h0M261.6 836.3h0M263.6 845.6h0M256.6 843.6h0M254.8 850.5h0M263 836.9h0M248.7 839.2h0M261.6 846.2h0M249.2 835.5h0M253.4 835.3h0M264.2 851.5h0M253.6 837.7h0M249.1 849.3h0M250.4 838.9h0M264.8 849.8h0M255.3 848.2h0M254.6 836.4h0M263.9 831.1h0M262.9 844.6h0M252.5 837.5h0M250.3 837.3h0M263.7 845.7h0M254.8 839.1h0M256.2 836.1h0M251 848.9h0M255.4 847.5h0M263.7 847.8h0M264 837.2h0M251.5 851.5h0M259.4 841.2h0M250.7 836.9h0M257 833.1h0M261.8 847.8h0M252.7 845.5h0M258.4 850.6h0M251.6 832.1h0M253.1 831.2h0M259.3 849.6h0M254.1 835.5h0M252 837.3h0M253.8 832.8h0M261.4 841h0M255.5 834.6h0M258.6 831.3h0M252.8 851h0M259 833h0M249 838.1h0M249.2 834.4h0M252 848.1h0M261.9 847.2h0M251.3 850.2h0M255.5 840.4h0M265.4 847.3h0M252.3 847.8h0M250.8 848.5h0M253 833.4h0M257.5 840.8h0M263.8 844.4h0M248.8 836.7h0M257.4 847.3h0M248.6 844h0M265.4 847.7h0M256.2 846.4h0M260 839.6h0M252.7 832.6h0M256.4 835.3h0M262.5 840.9h0M250.3 850.9h0M252 834.6h0M253.5 848h0M262.5 835.6h0M263.8 842.9h0M261.2 849.8h0M252.5 839.9h0M253.7 834.8h0M261 836.8h0M255.9 846.4h0M254.3 844.7h0M265.5 843.8h0M252.7 834.7h0M261.7 846.6h0M251.3 848.4h0M264 840.2h0M253.2 836.1h0M264.2 843.4h0M260.5 847.3h0M263.4 840h0M259.3 842.3h0M250 846.5h0M255.1 850.2h0M265.2 831.8h0M250.4 845.2h0M257.5 831.4h0M257.3 835.9h0M255.8 845h0M253.1 833.8h0M253.6 844.6h0M251.8 847.2h0M252.8 845h0M248.9 848.1h0M261.2 843.4h0M263.7 841.1h0M252.1 851.7h0M249.2 837.5h0M254.9 833.8h0M250.1 840.9h0M255.6 842.9h0M252.7 838h0M258.2 851h0M261.1 837.3h0M263.4 834.1h0M260.6 841.8h0M262.6 834.9h0M265.5 843.8h0M255.2 836.4h0M251 838.1h0M251.2 845.1h0M256.3 844.9h0M260.3 831.1h0M262.6 842.4h0M251.1 842.5h0M257.3 837.9h0M249.6 838.1h0M258.2 843.3h0M263.2 847.2h0M254.2 847.2h0M260 848.6h0M259.2 841.7h0M259.7 835.7h0M251.4 846.1h0M257.1 833.6h0M249.2 830.4h0M255.4 833.1h0M249.2 831.2h0M264.9 839.3h0M254.2 838.7h0M252.5 851.2h0M264.3 883.1h0M255 866.9h0M261.3 869.6h0M265.1 881.9h0M252.2 870h0M249.4 865.5h0M248.9 877.5h0M255.7 862.4h0M262.5 857.2h0M262.1 876.8h0M258.5 869.2h0M248.3 886.4h0M252.5 870.8h0M250.8 882.9h0M251 853.5h0M250.5 852.8h0M248.8 864.1h0M257 880.8h0M254.2 868.4h0M254.3 873h0M253 864.5h0M261.9 863.9h0M253.3 863.4h0M251 861.8h0M253.1 853.2h0M252.6 875.3h0M254.2 862.6h0M254.8 883.7h0M252.2 872.4h0M259.1 857.4h0M250.9 862.1h0M264 858.3h0M263.5 878h0M256.8 860.7h0M260.9 871.3h0M252 867h0M253.3 864.7h0M264 881.9h0M256.4 869.7h0M261.1 862.7h0M262.3 857.9h0M260.4 862.3h0M256.1 858.5h0M254.8 874.9h0M249.3 877.6h0M263.2 872.6h0M260.2 876.5h0M249.3 877.8h0M262.7 871.8h0M253.2 858.5h0M263 874.1h0M250.8 852.8h0M248.6 868.4h0M263.1 857.5h0M263.6 876h0M256.8 875h0M264 863.4h0M249.8 872.2h0M250.8 876.5h0M265 869.6h0M264.5 860.8h0M260.3 855.9h0M254 882.1h0M260.6 855h0M248.3 858.8h0M254.4 878.9h0M263 853.7h0M252.2 856.9h0M250.5 864.8h0M256.7 857.2h0M259.9 853.4h0M253.6 878.7h0M262.4 858h0M263.9 883.5h0M252 853.7h0M254.9 861.4h0M262.7 871.7h0M256.9 855.4h0M261.2 868.5h0M253.7 868.8h0M262.4 872.7h0M262.7 884h0M261.7 866.1h0M263.5 883.4h0M255 859.5h0M257.2 874.5h0M262.2 866.8h0M260.8 878.8h0M257.5 870h0M248.9 881.5h0M252 857.3h0M256.1 861.1h0M261.3 870.8h0M263.9 873.9h0M265.3 865.1h0M254.9 879.7h0M265 865.1h0M254.9 884.2h0M251.4 884.1h0M264.3 853.5h0M250.1 874.1h0M256.5 881.7h0M261.7 853.7h0M259.1 877.5h0M263 872.1h0M257.4 869.8h0M256 861.4h0M254.1 877.4h0M259 859.6h0M258 858.3h0M257 864.1h0M260 886.2h0M257 866h0M260.3 856.9h0M256.9 865.8h0M261.7 878.4h0M251.8 873.5h0M254.5 876.8h0M253.5 880.5h0M263.5 862h0M258.3 864h0M264.5 881.6h0M257.9 865.2h0M264.4 869.7h0M261 880.7h0M263.7 873.7h0M253.4 883.5h0M265.5 852.5h0M253.4 873.4h0M261.2 869.6h0M259 866.2h0M254.4 862.2h0M250 865h0M249 880.2h0M248.4 868.4h0M257.8 859.6h0M258 875.9h0M250.1 880.3h0M248.9 866h0M248.6 856.5h0M258.3 877.7h0M261.3 875.8h0M263.8 875.9h0M256.4 852.5h0M261.1 856.1h0M252.4 885.4h0M249.1 871.1h0M258.2 861h0M253.9 853.7h0M255.2 868.4h0M250.2 863.2h0M260.2 857.4h0M263.5 874h0M261.1 858.2h0M250.6 884.7h0M253 860h0M251.6 882.7h0M265.4 864.2h0M255 862.1h0M250.8 878.2h0M262.3 869.4h0M251.9 856.8h0M249.6 881h0M254.7 871h0M248.9 871.6h0M256.2 865h0M255.8 880.5h0M253.7 873.2h0M257.9 854.5h0M261.9 882.5h0M254.2 871.5h0M252.9 861.4h0M259.3 853.4h0M255.5 853.4h0M252.7 856.2h0M264.6 860.9h0M251.9 870.2h0M255.2 859.8h0M253.3 879.2h0M262.2 870.2h0M259.7 866.8h0M264 866.8h0M252.9 860.3h0M262.5 870.6h0M259.8 860h0M250.2 863.1h0M252.6 869.6h0M262.8 873.9h0M255.8 863.3h0M251 876.9h0M250.5 864.3h0M253.3 883.6h0M259.4 857.1h0M250.6 871.9h0M251 864.2h0M263 867.7h0M252.8 856h0M260 863.7h0M262.7 858.5h0M261.2 875.3h0M259.1 878.8h0M256 879.1h0M260.4 883.5h0M254.6 865.2h0M261.5 874.1h0M260.3 885h0M250.2 869.2h0M248.4 869.9h0M259.7 874.6h0M256.5 853h0M258.8 881.3h0M259.8 866.4h0M256.4 878.1h0M250.5 856.6h0M258.3 869h0M253.3 871.6h0M256.9 878.7h0M248.7 872.6h0M264.9 873.5h0M251.4 883.9h0M265.4 861.3h0M262 867.5h0M254.9 882.4h0M258 867.7h0M252 872.4h0M248.5 869.4h0M256.8 885.6h0M249.5 875.4h0M251.3 878.7h0M249.4 853.1h0M257.8 865.6h0M259.8 877.8h0M264.9 857.8h0M252.5 878.9h0M262.7 883.8h0M258.4 878.3h0M248.5 876.9h0M254.6 861.5h0M265.2 856.2h0M260.9 884.4h0M259.8 866.6h0M260.4 883.1h0M264.8 875h0M257.6 884.1h0M250.6 852.9h0M249.1 879.6h0M258.1 877.5h0M251.3 871.4h0M264.4 857.6h0M265.1 859h0M258.9 780.3h0M263.6 786.4h0M263 807h0M323.8 881.8h0M325.3 882.4h0M334.6 886.7h0M327.4 883.8h0M335.4 881.5h0M337.5 883.5h0M336.5 883.5h0M328.6 878.5h0M330 880.8h0M330.7 878.8h0M321.8 878.2h0M333.4 880.3h0M334.2 877.4h0M323.7 878.9h0M326.1 878.8h0M331.2 882.4h0M336.8 881.3h0M326.5 878.1h0M335.5 886.9h0M321.5 884.5h0M329.8 883.9h0M325.5 883.5h0M335.2 884.3h0M323.5 879h0M321.9 884.3h0M326.9 880.7h0M329 847.8h0M327.3 869.3h0M402.3 885.5h0M397.1 885.9h0M402.4 885.4h0M407.9 886.3h0M394.8 886.3h0M397 886h0M408.9 885.6h0M407.1 885.7h0M406.1 880.4h0M472.6 882.8h0M467.1 885.7h0M475.3 884.2h0M474.2 885.1h0M476.5 886.4h0M481.4 886.9h0M471.9 886h0M464.3 883.6h0M467.7 884.3h0M471.3 881h0M468.6 881.5h0M472.7 883.6h0M475.2 883h0M473.3 884.1h0M465.2 881h0M464.7 886.7h0M466.6 851.9h0M466.6 861.7h0M477.3 873.4h0M472.9 877.1h0M475.3 878.8h0M530.9 875.5h0M523.9 877.9h0M520 882.5h0M529 882.3h0M519.6 886.9h0M523.9 886.2h0M530.9 886.9h0M625.5 874.1h0M622 875.8h0M624.6 872.7h0M625.2 873.2h0M610.6 875.7h0M610.3 878.1h0M618 874.6h0M624.1 872h0M617.4 873.6h0M617 875.5h0M623.1 872.4h0M618.4 873h0M622.5 873.6h0M618.7 877.9h0M617.2 875h0M616.9 873h0M622 875.8h0M610.4 876h0M614.1 876.3h0M609.9 877.2h0M619.6 876h0M615.3 872.4h0M623.7 876.2h0M614.2 876.2h0M624.1 875.5h0M613.6 873h0M624.6 873.4h0M623.8 876.4h0M613.3 877.4h0M617.5 872.5h0M609.5 877.3h0M619 875.2h0M620 876.4h0M616.2 877.5h0M615.7 872.6h0M616.8 877.1h0M621.9 877.2h0M611.7 875.3h0M622.7 873.8h0M620.7 876h0M615.1 876.1h0M625.1 874.8h0M618.3 875.7h0M617.1 877.2h0M617.4 877.5h0M614.2 878.6h0M617.4 878.8h0M609.9 872.2h0M618.7 878.3h0M614.1 878.2h0M612.6 883.9h0M608.7 883.3h0M618.9 887.4h0M624 884.8h0M623.6 877.1h0M623.4 878.3h0M611.8 882.2h0M623.5 882.7h0M609.6 882h0M613.2 884.7h0M622.5 886.8h0M609.9 877.7h0M621.8 883.6h0M622 880h0M623.9 881.1h0M623.1 887h0M620.7 877.7h0M611.1 879.2h0M610.3 882.3h0M609.6 884.9h0M613.6 887h0M613.6 887.2h0M625.4 886.7h0M623 885.2h0M609.9 881.7h0M616.4 880h0M622.1 886.1h0M615 884.9h0M617.3 884.5h0M623.4 885.1h0M624.1 886.6h0M611.2 882.7h0M622.4 879.7h0M616 877.1h0M608.6 879.5h0M613.5 883.9h0M623.6 880.9h0M611.4 879.1h0M611.1 878.4h0M624.8 877.4h0M615.7 883h0M624 883.9h0M613.1 887h0M609.3 885.2h0M624.1 878.6h0M613.8 879.2h0M624.5 887.1h0M619.9 880.1h0M622.7 882.7h0M613.8 885.4h0M620.6 883.7h0M622.4 877.4h0M620 882h0M624.2 882.6h0M623.9 882.6h0M618.1 878.2h0M624.6 887.1h0M620.6 882.3h0M624 884.1h0M610.7 885h0M622 833.2h0M622 843.5h0M617.7 858.4h0M613.1 859.9h0M611.1 864.3h0M611.5 869.1h0M619.6 869.8h0M611.1 872h0M617 872.4h0" fill="none" stroke="#404040" stroke-width="1.95" stroke-linecap="round"/>
<!-- fly icon -->
<g transform="translate(585 80) scale(0.145985)">
<g fill="none" stroke="#222" stroke-width="30" stroke-linecap="round" stroke-linejoin="round">
<path d="M322 136V272L392 300"/><path d="M598 136V272L528 300"/>
<path d="M392 343L284 384L345 410"/><path d="M528 343L636 384L575 410"/>
</g>
<g fill="#222">
<circle cx="437" cy="138" r="13"/><circle cx="483" cy="138" r="13"/>
<path d="M371 245C371 180 410 143 460 143C510 143 549 180 549 245V275C549 292 537 302 517 302H403C383 302 371 292 371 275Z"/>
<path d="M378 300H542V400H378Z"/><path d="M452 383H468V450H452Z"/>
<path d="M460 385L385 385C340 410 285 455 266 482C255 500 268 522 292 524L385 524C430 500 455 450 460 400Z"/>
<path d="M460 385L535 385C580 410 635 455 654 482C665 500 652 522 628 524L535 524C490 500 465 450 460 400Z"/>
<path d="M460 410C430 440 390 490 390 534C390 572 424 595 460 595C496 595 530 572 530 534C530 490 490 440 460 410Z"/>
</g>
<g fill="#404040">
<ellipse cx="417" cy="206" rx="13" ry="26" transform="rotate(24 417 206)"/>
<ellipse cx="503" cy="206" rx="13" ry="26" transform="rotate(-24 503 206)"/>
<path d="M400 252C422 246 442 230 449 192H471C478 230 498 246 520 252V262C520 273 512 279 500 279H420C408 279 400 273 400 262Z"/>
<path d="M392 371C392 332 422 313 460 313C498 313 528 332 528 371Z"/>
<path d="M422 402C428 415 432 430 431 442C428 470 400 492 370 498L312 498C300 498 294 490 300 482C320 455 350 425 380 404Z"/>
<path d="M498 402C492 415 488 430 489 442C492 470 520 492 550 498L608 498C620 498 626 490 620 482C600 455 570 425 540 404Z"/>
<path d="M460 443C440 470 418 500 418 525C418 550 438 562 460 562C482 562 502 550 502 525C502 500 480 470 460 443Z"/>
</g>
</g>
<!-- plant icon -->
<g transform="translate(605 370) scale(0.116788)">
<g fill="#231f20">
<circle cx="200" cy="183" r="17"/><circle cx="243" cy="168" r="17"/><circle cx="290" cy="172" r="17"/>
<circle cx="238" cy="272" r="17"/><circle cx="280" cy="257" r="17"/><circle cx="323" cy="262" r="17"/>
<circle cx="292" cy="367" r="17"/><circle cx="335" cy="358" r="17"/>
<path d="M280 465C278 455 290 452 300 453C360 458 420 495 445 555C455 585 458 620 460 660L405 660C402 610 380 540 290 478C284 474 281 470 280 465Z"/>
<path d="M686 330C691 319 683 311 670 314C580 333 500 408 465 500C452 540 448 600 448 660L492 660C495 590 520 497 606 410C636 378 666 352 686 330Z"/>
<path d="M405 640H492V662Q492 672 482 672H415Q405 672 405 662Z"/>
</g>
<g fill="none" stroke="#231f20" stroke-linecap="round">
<path d="M325 186C405 205 448 300 456 520" stroke-width="28"/>
<path d="M362 278C400 292 428 322 444 372" stroke-width="27"/>
<path d="M374 376C402 392 428 420 446 462" stroke-width="27"/>
</g>
<g fill="#86c226">
<path d="M390 537C422 560 446 600 458 638L432 640C426 602 412 567 390 537Z"/>
<path d="M563 397C512 438 472 498 452 542L468 577C490 512 520 452 563 397Z"/>
<circle cx="520" cy="195" r="18"/><circle cx="615" cy="150" r="25"/><circle cx="622" cy="260" r="8"/>
</g>
</g>
<!-- fish icon -->
<g transform="translate(610 680) scale(0.10949)">
<defs><clipPath id="fc"><path d="M176 122C215 128 290 165 350 228C395 275 440 340 470 400C495 450 515 505 537 562L492 612C440 555 340 500 285 457C235 415 195 360 172 300C158 260 150 210 158 175C162 155 168 135 176 122Z"/></clipPath>
<clipPath id="ft"><path d="M530 562C570 552 630 575 667 600C640 625 610 640 592 655C580 685 560 710 540 724C515 700 495 650 492 610Z"/></clipPath>
<clipPath id="fa"><path d="M352 503C330 538 340 572 400 584L455 574L440 548Z"/></clipPath></defs>
<g stroke="#a09479" stroke-width="12" stroke-linejoin="round">
<path d="M436 368C468 350 500 364 508 384C530 420 530 452 506 462L470 432Z" fill="#e8d24e"/>
<path d="M270 448C248 468 252 502 290 503L314 482Z" fill="#f6f1d6"/>
<path d="M352 503C330 538 340 572 400 584L455 574L440 548Z" fill="#f6f1d6"/>
<path d="M530 562C570 552 630 575 667 600C640 625 610 640 592 655C580 685 560 710 540 724C515 700 495 650 492 610Z" fill="#f6f1d6"/>
</g>
<g stroke="#5186d6" stroke-width="9" fill="none">
<path d="M282 462L300 495"/>
<g clip-path="url(#fa)"><path d="M340 525L400 590M358 515L420 585M378 510L440 575M398 505L460 570"/></g>
<g clip-path="url(#ft)"><path d="M520 585L660 600M518 597L640 628M514 608L610 655M510 620L585 685M506 634L562 712M500 645L540 730"/></g>
</g>
<g clip-path="url(#fc)">
<rect x="100" y="80" width="500" height="600" fill="#f6f1d6"/>
<path d="M176 122C215 128 290 165 350 228C395 275 440 340 470 400C495 450 515 505 537 562" fill="none" stroke="#ecd552" stroke-width="62"/>
<path d="M150 170L215 130L275 205L235 255Z" fill="#f0e070"/>
<g stroke="#4f84d4" stroke-width="10" fill="none">
<path d="M270 244Q392 388 521 574"/>
<path d="M256 268Q380 410 513 584"/>
<path d="M270 310Q372 428 505 593"/>
<path d="M290 356Q368 445 497 600"/>
<path d="M254 374Q345 468 488 608"/>
<path d="M262 410Q335 472 450 572"/>
<path d="M284 448Q330 480 395 524"/>
</g>
</g>
<path d="M176 122C215 128 290 165 350 228C395 275 440 340 470 400C495 450 515 505 537 562L492 612C440 555 340 500 285 457C235 415 195 360 172 300C158 260 150 210 158 175C162 155 168 135 176 122Z" fill="none" stroke="#0a0a0a" stroke-width="15" stroke-linejoin="round"/>
<path d="M176 124L174 182L196 140L204 127Z" fill="#0a0a0a" stroke="#0a0a0a" stroke-width="6" stroke-linejoin="round"/>
<circle cx="221" cy="201" r="22" fill="#f4f0dc" stroke="#0a0a0a" stroke-width="8"/>
<circle cx="221" cy="201" r="11" fill="#f4f0dc" stroke="#222" stroke-width="4"/>
<circle cx="221" cy="201" r="4" fill="#111"/>
<path d="M200 248C225 256 262 246 271 210" fill="none" stroke="#0a0a0a" stroke-width="9" stroke-linecap="round"/>
<path d="M224 275C270 290 294 330 294 352C290 368 270 366 258 352C248 342 240 332 232 321" fill="#f3e79a" stroke="#0a0a0a" stroke-width="8" stroke-linecap="round" stroke-linejoin="round"/>
</g>

</svg>
</body></html>
